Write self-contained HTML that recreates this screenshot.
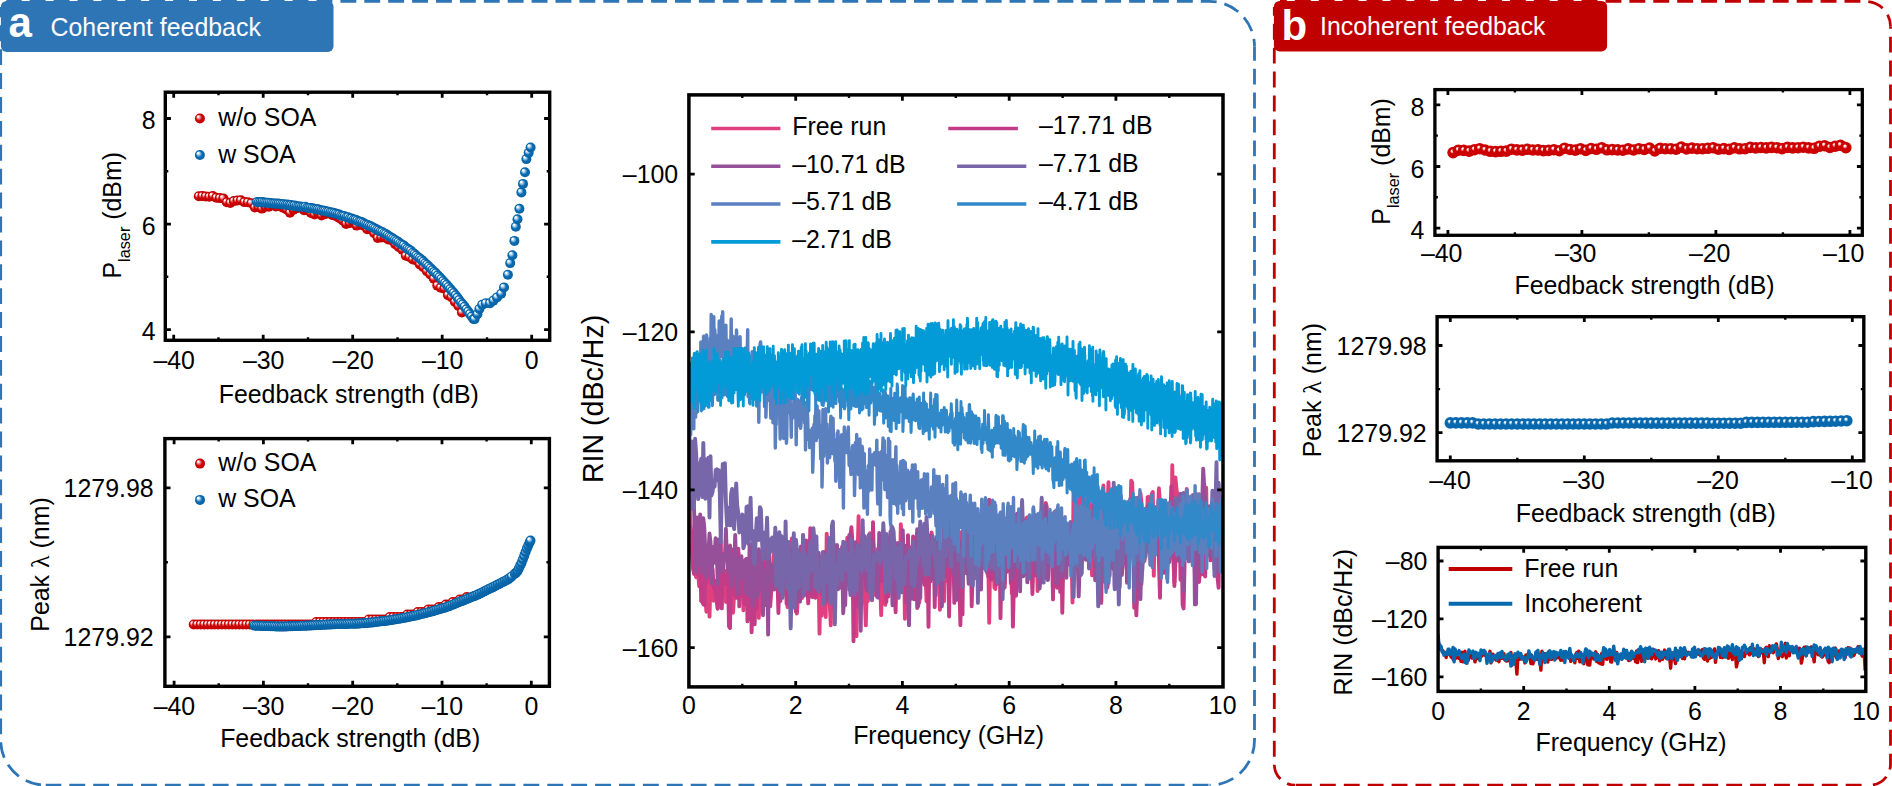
<!DOCTYPE html>
<html lang="en"><head><meta charset="utf-8"><title>Coherent and incoherent feedback</title>
<style>html,body{margin:0;padding:0;background:#fff}body{width:1892px;height:786px;overflow:hidden}svg{display:block}text{font-family:'Liberation Sans', Arial, Helvetica, sans-serif}</style></head><body>
<svg width="1892" height="786" viewBox="0 0 1892 786">
<defs>
<radialGradient id="gr" cx="0.5" cy="0.5" r="0.5" fx="0.28" fy="0.27"><stop offset="0" stop-color="#fff"/><stop offset="0.13" stop-color="#fff"/><stop offset="0.35" stop-color="#e88080"/><stop offset="0.62" stop-color="#cc0000"/><stop offset="0.85" stop-color="#cc0000"/><stop offset="1" stop-color="#b80000"/></radialGradient>
<radialGradient id="gb" cx="0.5" cy="0.5" r="0.5" fx="0.28" fy="0.27"><stop offset="0" stop-color="#fff"/><stop offset="0.13" stop-color="#fff"/><stop offset="0.35" stop-color="#8cc0e6"/><stop offset="0.62" stop-color="#0868ae"/><stop offset="0.85" stop-color="#0868ae"/><stop offset="1" stop-color="#055c9c"/></radialGradient>
<radialGradient id="gr2" cx="0.5" cy="0.5" r="0.5" fx="0.40" fy="0.33"><stop offset="0" stop-color="#fff"/><stop offset="0.08" stop-color="#fff"/><stop offset="0.23" stop-color="#f0a0a0"/><stop offset="0.40" stop-color="#cc0000"/><stop offset="1" stop-color="#cc0000"/></radialGradient>
<radialGradient id="gb2" cx="0.5" cy="0.5" r="0.5" fx="0.40" fy="0.33"><stop offset="0" stop-color="#fff"/><stop offset="0.08" stop-color="#fff"/><stop offset="0.23" stop-color="#9cc6e4"/><stop offset="0.40" stop-color="#0868ae"/><stop offset="1" stop-color="#0868ae"/></radialGradient>
<clipPath id="c3"><rect x="688.9" y="94.9" width="534.1" height="592"/></clipPath>
<clipPath id="c6"><rect x="1438.1" y="547.4" width="427.7" height="144"/></clipPath>
</defs>
<rect width="1892" height="786" fill="#fff"/>
<path d="M6.4 1.4H1209.5A45 45 0 0 1 1254.5 46.4" fill="none" stroke="#2e75b6" stroke-width="2.8" stroke-dasharray="15.9 8.0" stroke-dashoffset="0.6"/>
<path d="M1254.5 46.4V740.2A45 45 0 0 1 1209.5 785.2" fill="none" stroke="#2e75b6" stroke-width="2.8" stroke-dasharray="15.9 8.0" stroke-dashoffset="1.6"/>
<path d="M45.7 785.2H1209.5" fill="none" stroke="#2e75b6" stroke-width="2.8" stroke-dasharray="15.9 8.0" stroke-dashoffset="0.3"/>
<path d="M0.7 7.1V740.2A45 45 0 0 0 45.7 785.2" fill="none" stroke="#2e75b6" stroke-width="2.8" stroke-dasharray="15.9 8.0" stroke-dashoffset="5.7"/>
<path d="M1280 1.4H1865.5A25 25 0 0 1 1890.5 26.4" fill="none" stroke="#c00000" stroke-width="2.8" stroke-dasharray="15.9 8.0" stroke-dashoffset="9.1"/>
<path d="M1890.5 26.4V764.2A21 21 0 0 1 1869.5 785.2" fill="none" stroke="#c00000" stroke-width="2.8" stroke-dasharray="15.9 8.0" stroke-dashoffset="13.6"/>
<path d="M1295.3 785.2H1869.5" fill="none" stroke="#c00000" stroke-width="2.8" stroke-dasharray="15.9 8.0" stroke-dashoffset="23.2"/>
<path d="M1274.3 7.1V764.2A21 21 0 0 0 1295.3 785.2" fill="none" stroke="#c00000" stroke-width="2.8" stroke-dasharray="15.9 8.0" stroke-dashoffset="7.2"/>
<rect x="0.9" y="0.9" width="332.6" height="51" rx="5.7" fill="#2e75b6"/>
<rect x="1273.9" y="0.9" width="333.2" height="50.6" rx="5.7" fill="#c00000"/>
<text x="8.6" y="36.7" font-size="42" text-anchor="start" fill="#fff" font-weight="bold">a</text>
<text x="50.5" y="36.4" font-size="24.9" text-anchor="start" fill="#fff">Coherent feedback</text>
<text x="1281.6" y="40.2" font-size="42" text-anchor="start" fill="#fff" font-weight="bold">b</text>
<text x="1320" y="35" font-size="24.9" text-anchor="start" fill="#fff">Incoherent feedback</text>
<g id="plot1">
<circle cx="198.8" cy="196.3" r="5.0" fill="url(#gr)"/>
<circle cx="202.3" cy="196.1" r="5.0" fill="url(#gr)"/>
<circle cx="205.8" cy="196.4" r="5.0" fill="url(#gr)"/>
<circle cx="209.3" cy="196.7" r="5.0" fill="url(#gr)"/>
<circle cx="212.8" cy="196.1" r="5.0" fill="url(#gr)"/>
<circle cx="216.3" cy="197.7" r="5.0" fill="url(#gr)"/>
<circle cx="219.8" cy="198.1" r="5.0" fill="url(#gr)"/>
<circle cx="223.3" cy="198.4" r="5.0" fill="url(#gr)"/>
<circle cx="226.8" cy="202.2" r="5.0" fill="url(#gr)"/>
<circle cx="230.3" cy="202.9" r="5.0" fill="url(#gr)"/>
<circle cx="233.8" cy="201.1" r="5.0" fill="url(#gr)"/>
<circle cx="237.4" cy="200.5" r="5.0" fill="url(#gr)"/>
<circle cx="240.9" cy="200.3" r="5.0" fill="url(#gr)"/>
<circle cx="244.4" cy="202.1" r="5.0" fill="url(#gr)"/>
<circle cx="247.9" cy="202.3" r="5.0" fill="url(#gr)"/>
<circle cx="251.4" cy="203.2" r="5.0" fill="url(#gr)"/>
<circle cx="254.9" cy="207.5" r="5.0" fill="url(#gr)"/>
<circle cx="258.4" cy="207" r="5.0" fill="url(#gr)"/>
<circle cx="261.9" cy="208.6" r="5.0" fill="url(#gr)"/>
<circle cx="265.4" cy="206.8" r="5.0" fill="url(#gr)"/>
<circle cx="268.9" cy="206.7" r="5.0" fill="url(#gr)"/>
<circle cx="272.4" cy="204.3" r="5.0" fill="url(#gr)"/>
<circle cx="275.9" cy="206.4" r="5.0" fill="url(#gr)"/>
<circle cx="279.5" cy="205.9" r="5.0" fill="url(#gr)"/>
<circle cx="283" cy="207.8" r="5.0" fill="url(#gr)"/>
<circle cx="286.5" cy="209.4" r="5.0" fill="url(#gr)"/>
<circle cx="290" cy="212.7" r="5.0" fill="url(#gr)"/>
<circle cx="293.5" cy="209.6" r="5.0" fill="url(#gr)"/>
<circle cx="297" cy="208.1" r="5.0" fill="url(#gr)"/>
<circle cx="300.5" cy="207.5" r="5.0" fill="url(#gr)"/>
<circle cx="304" cy="210.2" r="5.0" fill="url(#gr)"/>
<circle cx="307.5" cy="210.3" r="5.0" fill="url(#gr)"/>
<circle cx="311" cy="213" r="5.0" fill="url(#gr)"/>
<circle cx="314.5" cy="214.5" r="5.0" fill="url(#gr)"/>
<circle cx="318" cy="213" r="5.0" fill="url(#gr)"/>
<circle cx="321.6" cy="215.5" r="5.0" fill="url(#gr)"/>
<circle cx="325.1" cy="214.1" r="5.0" fill="url(#gr)"/>
<circle cx="328.6" cy="212.6" r="5.0" fill="url(#gr)"/>
<circle cx="332.1" cy="215" r="5.0" fill="url(#gr)"/>
<circle cx="335.6" cy="215.9" r="5.0" fill="url(#gr)"/>
<circle cx="339.1" cy="217.9" r="5.0" fill="url(#gr)"/>
<circle cx="342.6" cy="220.4" r="5.0" fill="url(#gr)"/>
<circle cx="346.1" cy="223.9" r="5.0" fill="url(#gr)"/>
<circle cx="349.6" cy="223.1" r="5.0" fill="url(#gr)"/>
<circle cx="353.1" cy="221.7" r="5.0" fill="url(#gr)"/>
<circle cx="356.6" cy="225.6" r="5.0" fill="url(#gr)"/>
<circle cx="360.1" cy="223" r="5.0" fill="url(#gr)"/>
<circle cx="363.7" cy="225.7" r="5.0" fill="url(#gr)"/>
<circle cx="367.2" cy="229.3" r="5.0" fill="url(#gr)"/>
<circle cx="370.7" cy="228.9" r="5.0" fill="url(#gr)"/>
<circle cx="374.2" cy="233.3" r="5.0" fill="url(#gr)"/>
<circle cx="377.7" cy="237.9" r="5.0" fill="url(#gr)"/>
<circle cx="381.2" cy="237.4" r="5.0" fill="url(#gr)"/>
<circle cx="384.7" cy="237.4" r="5.0" fill="url(#gr)"/>
<circle cx="388.2" cy="239.5" r="5.0" fill="url(#gr)"/>
<circle cx="391.7" cy="240.3" r="5.0" fill="url(#gr)"/>
<circle cx="395.2" cy="244.3" r="5.0" fill="url(#gr)"/>
<circle cx="398.7" cy="247" r="5.0" fill="url(#gr)"/>
<circle cx="402.2" cy="249.8" r="5.0" fill="url(#gr)"/>
<circle cx="405.8" cy="255.8" r="5.0" fill="url(#gr)"/>
<circle cx="409.3" cy="256.9" r="5.0" fill="url(#gr)"/>
<circle cx="412.8" cy="259.5" r="5.0" fill="url(#gr)"/>
<circle cx="416.3" cy="260.4" r="5.0" fill="url(#gr)"/>
<circle cx="419.8" cy="264.5" r="5.0" fill="url(#gr)"/>
<circle cx="423.3" cy="267.2" r="5.0" fill="url(#gr)"/>
<circle cx="426.8" cy="271.1" r="5.0" fill="url(#gr)"/>
<circle cx="430.3" cy="274.5" r="5.0" fill="url(#gr)"/>
<circle cx="433.8" cy="278.7" r="5.0" fill="url(#gr)"/>
<circle cx="437.3" cy="285.6" r="5.0" fill="url(#gr)"/>
<circle cx="440.8" cy="287.8" r="5.0" fill="url(#gr)"/>
<circle cx="444.3" cy="288.6" r="5.0" fill="url(#gr)"/>
<circle cx="447.9" cy="295.1" r="5.0" fill="url(#gr)"/>
<circle cx="451.4" cy="297.2" r="5.0" fill="url(#gr)"/>
<circle cx="454.9" cy="301.9" r="5.0" fill="url(#gr)"/>
<circle cx="458.4" cy="305.9" r="5.0" fill="url(#gr)"/>
<circle cx="461.9" cy="312.5" r="5.0" fill="url(#gr)"/>
<circle cx="256.9" cy="202" r="5.0" fill="url(#gb)"/>
<circle cx="258.7" cy="202.2" r="5.0" fill="url(#gb)"/>
<circle cx="260.5" cy="202.3" r="5.0" fill="url(#gb)"/>
<circle cx="262.3" cy="202.1" r="5.0" fill="url(#gb)"/>
<circle cx="264.1" cy="202.6" r="5.0" fill="url(#gb)"/>
<circle cx="265.9" cy="202.7" r="5.0" fill="url(#gb)"/>
<circle cx="267.7" cy="202.8" r="5.0" fill="url(#gb)"/>
<circle cx="269.5" cy="203" r="5.0" fill="url(#gb)"/>
<circle cx="271.3" cy="203.2" r="5.0" fill="url(#gb)"/>
<circle cx="273" cy="203.6" r="5.0" fill="url(#gb)"/>
<circle cx="274.8" cy="203.5" r="5.0" fill="url(#gb)"/>
<circle cx="276.6" cy="203.7" r="5.0" fill="url(#gb)"/>
<circle cx="278.4" cy="203.6" r="5.0" fill="url(#gb)"/>
<circle cx="280.2" cy="203.9" r="5.0" fill="url(#gb)"/>
<circle cx="282" cy="204.2" r="5.0" fill="url(#gb)"/>
<circle cx="283.8" cy="204.2" r="5.0" fill="url(#gb)"/>
<circle cx="285.6" cy="204.7" r="5.0" fill="url(#gb)"/>
<circle cx="287.4" cy="204.6" r="5.0" fill="url(#gb)"/>
<circle cx="289.2" cy="205" r="5.0" fill="url(#gb)"/>
<circle cx="290.9" cy="205.1" r="5.0" fill="url(#gb)"/>
<circle cx="292.7" cy="205.7" r="5.0" fill="url(#gb)"/>
<circle cx="294.5" cy="205.6" r="5.0" fill="url(#gb)"/>
<circle cx="296.3" cy="206.2" r="5.0" fill="url(#gb)"/>
<circle cx="298.1" cy="206.6" r="5.0" fill="url(#gb)"/>
<circle cx="299.9" cy="206.4" r="5.0" fill="url(#gb)"/>
<circle cx="301.7" cy="206.8" r="5.0" fill="url(#gb)"/>
<circle cx="303.5" cy="206.9" r="5.0" fill="url(#gb)"/>
<circle cx="305.3" cy="206.7" r="5.0" fill="url(#gb)"/>
<circle cx="307.1" cy="207.7" r="5.0" fill="url(#gb)"/>
<circle cx="308.8" cy="207.9" r="5.0" fill="url(#gb)"/>
<circle cx="310.6" cy="208" r="5.0" fill="url(#gb)"/>
<circle cx="312.4" cy="208.3" r="5.0" fill="url(#gb)"/>
<circle cx="314.2" cy="208.8" r="5.0" fill="url(#gb)"/>
<circle cx="316" cy="209.1" r="5.0" fill="url(#gb)"/>
<circle cx="317.8" cy="209.3" r="5.0" fill="url(#gb)"/>
<circle cx="319.6" cy="209.7" r="5.0" fill="url(#gb)"/>
<circle cx="321.4" cy="210.4" r="5.0" fill="url(#gb)"/>
<circle cx="323.2" cy="210.6" r="5.0" fill="url(#gb)"/>
<circle cx="325" cy="210.9" r="5.0" fill="url(#gb)"/>
<circle cx="326.7" cy="211.6" r="5.0" fill="url(#gb)"/>
<circle cx="328.5" cy="211.7" r="5.0" fill="url(#gb)"/>
<circle cx="330.3" cy="212.4" r="5.0" fill="url(#gb)"/>
<circle cx="332.1" cy="212.5" r="5.0" fill="url(#gb)"/>
<circle cx="333.9" cy="213.1" r="5.0" fill="url(#gb)"/>
<circle cx="335.7" cy="213.6" r="5.0" fill="url(#gb)"/>
<circle cx="337.5" cy="214.2" r="5.0" fill="url(#gb)"/>
<circle cx="339.3" cy="214.6" r="5.0" fill="url(#gb)"/>
<circle cx="341.1" cy="215.6" r="5.0" fill="url(#gb)"/>
<circle cx="342.9" cy="215.9" r="5.0" fill="url(#gb)"/>
<circle cx="344.6" cy="216.2" r="5.0" fill="url(#gb)"/>
<circle cx="346.4" cy="217.3" r="5.0" fill="url(#gb)"/>
<circle cx="348.2" cy="217.2" r="5.0" fill="url(#gb)"/>
<circle cx="350" cy="218.4" r="5.0" fill="url(#gb)"/>
<circle cx="351.8" cy="218.5" r="5.0" fill="url(#gb)"/>
<circle cx="353.6" cy="219.5" r="5.0" fill="url(#gb)"/>
<circle cx="355.4" cy="219.8" r="5.0" fill="url(#gb)"/>
<circle cx="357.2" cy="220.6" r="5.0" fill="url(#gb)"/>
<circle cx="359" cy="221.6" r="5.0" fill="url(#gb)"/>
<circle cx="360.8" cy="221.8" r="5.0" fill="url(#gb)"/>
<circle cx="362.5" cy="222.5" r="5.0" fill="url(#gb)"/>
<circle cx="364.3" cy="223.5" r="5.0" fill="url(#gb)"/>
<circle cx="366.1" cy="224.4" r="5.0" fill="url(#gb)"/>
<circle cx="367.9" cy="225.1" r="5.0" fill="url(#gb)"/>
<circle cx="369.7" cy="226.1" r="5.0" fill="url(#gb)"/>
<circle cx="371.5" cy="226.5" r="5.0" fill="url(#gb)"/>
<circle cx="373.3" cy="227.7" r="5.0" fill="url(#gb)"/>
<circle cx="375.1" cy="228.5" r="5.0" fill="url(#gb)"/>
<circle cx="376.9" cy="229.6" r="5.0" fill="url(#gb)"/>
<circle cx="378.7" cy="230.4" r="5.0" fill="url(#gb)"/>
<circle cx="380.4" cy="231.5" r="5.0" fill="url(#gb)"/>
<circle cx="382.2" cy="232" r="5.0" fill="url(#gb)"/>
<circle cx="384" cy="233.2" r="5.0" fill="url(#gb)"/>
<circle cx="385.8" cy="234" r="5.0" fill="url(#gb)"/>
<circle cx="387.6" cy="235.3" r="5.0" fill="url(#gb)"/>
<circle cx="389.4" cy="236.5" r="5.0" fill="url(#gb)"/>
<circle cx="391.2" cy="237.5" r="5.0" fill="url(#gb)"/>
<circle cx="393" cy="238.6" r="5.0" fill="url(#gb)"/>
<circle cx="394.8" cy="239.7" r="5.0" fill="url(#gb)"/>
<circle cx="396.6" cy="240.9" r="5.0" fill="url(#gb)"/>
<circle cx="398.3" cy="242.1" r="5.0" fill="url(#gb)"/>
<circle cx="400.1" cy="243.5" r="5.0" fill="url(#gb)"/>
<circle cx="401.9" cy="244.6" r="5.0" fill="url(#gb)"/>
<circle cx="403.7" cy="245.4" r="5.0" fill="url(#gb)"/>
<circle cx="405.5" cy="247.2" r="5.0" fill="url(#gb)"/>
<circle cx="407.3" cy="248.6" r="5.0" fill="url(#gb)"/>
<circle cx="409.1" cy="249.6" r="5.0" fill="url(#gb)"/>
<circle cx="410.9" cy="250.8" r="5.0" fill="url(#gb)"/>
<circle cx="412.7" cy="252.8" r="5.0" fill="url(#gb)"/>
<circle cx="414.5" cy="254" r="5.0" fill="url(#gb)"/>
<circle cx="416.2" cy="255.5" r="5.0" fill="url(#gb)"/>
<circle cx="418" cy="257.2" r="5.0" fill="url(#gb)"/>
<circle cx="419.8" cy="258.2" r="5.0" fill="url(#gb)"/>
<circle cx="421.6" cy="259.9" r="5.0" fill="url(#gb)"/>
<circle cx="423.4" cy="261.5" r="5.0" fill="url(#gb)"/>
<circle cx="425.2" cy="263.3" r="5.0" fill="url(#gb)"/>
<circle cx="427" cy="264.7" r="5.0" fill="url(#gb)"/>
<circle cx="428.8" cy="266.5" r="5.0" fill="url(#gb)"/>
<circle cx="430.6" cy="268.2" r="5.0" fill="url(#gb)"/>
<circle cx="432.4" cy="270.1" r="5.0" fill="url(#gb)"/>
<circle cx="434.1" cy="271.9" r="5.0" fill="url(#gb)"/>
<circle cx="435.9" cy="273.2" r="5.0" fill="url(#gb)"/>
<circle cx="437.7" cy="275.4" r="5.0" fill="url(#gb)"/>
<circle cx="439.5" cy="277.1" r="5.0" fill="url(#gb)"/>
<circle cx="441.3" cy="279" r="5.0" fill="url(#gb)"/>
<circle cx="443.1" cy="281.1" r="5.0" fill="url(#gb)"/>
<circle cx="444.9" cy="283" r="5.0" fill="url(#gb)"/>
<circle cx="446.7" cy="284.8" r="5.0" fill="url(#gb)"/>
<circle cx="448.5" cy="287" r="5.0" fill="url(#gb)"/>
<circle cx="450.3" cy="289.1" r="5.0" fill="url(#gb)"/>
<circle cx="452" cy="291.1" r="5.0" fill="url(#gb)"/>
<circle cx="453.8" cy="293" r="5.0" fill="url(#gb)"/>
<circle cx="455.6" cy="295.3" r="5.0" fill="url(#gb)"/>
<circle cx="457.4" cy="297.6" r="5.0" fill="url(#gb)"/>
<circle cx="459.2" cy="300" r="5.0" fill="url(#gb)"/>
<circle cx="461" cy="302.5" r="5.0" fill="url(#gb)"/>
<circle cx="462.8" cy="304.3" r="5.0" fill="url(#gb)"/>
<circle cx="464.6" cy="306.7" r="5.0" fill="url(#gb)"/>
<circle cx="466.4" cy="309.3" r="5.0" fill="url(#gb)"/>
<circle cx="468.2" cy="311.6" r="5.0" fill="url(#gb)"/>
<circle cx="469.9" cy="314" r="5.0" fill="url(#gb)"/>
<circle cx="471.7" cy="316.5" r="5.0" fill="url(#gb)"/>
<circle cx="473.5" cy="319" r="5.0" fill="url(#gb)"/>
<circle cx="474.6" cy="319.1" r="5.0" fill="url(#gb)"/>
<circle cx="477.4" cy="314.3" r="5.0" fill="url(#gb)"/>
<circle cx="479.4" cy="309" r="5.0" fill="url(#gb)"/>
<circle cx="482.2" cy="304.8" r="5.0" fill="url(#gb)"/>
<circle cx="485.8" cy="303.2" r="5.0" fill="url(#gb)"/>
<circle cx="490" cy="303.2" r="5.0" fill="url(#gb)"/>
<circle cx="493.4" cy="300.6" r="5.0" fill="url(#gb)"/>
<circle cx="497" cy="297.4" r="5.0" fill="url(#gb)"/>
<circle cx="501.2" cy="293.7" r="5.0" fill="url(#gb)"/>
<circle cx="504" cy="287.4" r="5.0" fill="url(#gb)"/>
<circle cx="507.9" cy="274.7" r="5.0" fill="url(#gb)"/>
<circle cx="510.2" cy="263.1" r="5.0" fill="url(#gb)"/>
<circle cx="512.4" cy="255.2" r="5.0" fill="url(#gb)"/>
<circle cx="514.4" cy="240.9" r="5.0" fill="url(#gb)"/>
<circle cx="515.8" cy="226.7" r="5.0" fill="url(#gb)"/>
<circle cx="517.5" cy="219.3" r="5.0" fill="url(#gb)"/>
<circle cx="519.4" cy="208.8" r="5.0" fill="url(#gb)"/>
<circle cx="521.4" cy="192.4" r="5.0" fill="url(#gb)"/>
<circle cx="523" cy="183.9" r="5.0" fill="url(#gb)"/>
<circle cx="525" cy="172.3" r="5.0" fill="url(#gb)"/>
<circle cx="526.4" cy="159.1" r="5.0" fill="url(#gb)"/>
<circle cx="528.7" cy="152.8" r="5.0" fill="url(#gb)"/>
<circle cx="530.6" cy="147.5" r="5.0" fill="url(#gb)"/>
<rect x="165.3" y="92.2" width="384.4" height="248.1" fill="none" stroke="#000" stroke-width="3.4"/>
<path d="M173.7 340.3v-5.6M173.7 92.2v5.6M263.2 340.3v-5.6M263.2 92.2v5.6M352.7 340.3v-5.6M352.7 92.2v5.6M442.2 340.3v-5.6M442.2 92.2v5.6M531.7 340.3v-5.6M531.7 92.2v5.6" stroke="#000" stroke-width="2.8" fill="none"/>
<path d="M218.5 340.3v-3M218.5 92.2v3M308 340.3v-3M308 92.2v3M397.5 340.3v-3M397.5 92.2v3M487 340.3v-3M487 92.2v3" stroke="#000" stroke-width="2.4" fill="none"/>
<path d="M165.3 329.6h5.6M549.7 329.6h-5.6M165.3 224.1h5.6M549.7 224.1h-5.6M165.3 118.5h5.6M549.7 118.5h-5.6" stroke="#000" stroke-width="2.8" fill="none"/>
<path d="M165.3 276.8h3M549.7 276.8h-3M165.3 171.3h3M549.7 171.3h-3" stroke="#000" stroke-width="2.4" fill="none"/>
<text x="174.2" y="369.3" font-size="24.9" text-anchor="middle" fill="#000">–40</text>
<text x="263.7" y="369.3" font-size="24.9" text-anchor="middle" fill="#000">–30</text>
<text x="353.2" y="369.3" font-size="24.9" text-anchor="middle" fill="#000">–20</text>
<text x="442.7" y="369.3" font-size="24.9" text-anchor="middle" fill="#000">–10</text>
<text x="531.7" y="369.3" font-size="24.9" text-anchor="middle" fill="#000">0</text>
<text x="155.6" y="340.4" font-size="24.9" text-anchor="end" fill="#000">4</text>
<text x="155.6" y="234.9" font-size="24.9" text-anchor="end" fill="#000">6</text>
<text x="155.6" y="129.3" font-size="24.9" text-anchor="end" fill="#000">8</text>
<text x="348.8" y="403" font-size="24.9" text-anchor="middle" fill="#000">Feedback strength (dB)</text>
<text transform="translate(121.1 215.3) rotate(-90)" font-size="24.9" text-anchor="middle">P<tspan font-size="16.3" dy="9">laser</tspan><tspan dy="-9"> (dBm)</tspan></text>
<circle cx="199.9" cy="118.5" r="5.0" fill="url(#gr)"/>
<text x="218.2" y="126" font-size="24.9" text-anchor="start" fill="#000">w/o SOA</text>
<circle cx="199.9" cy="155" r="5.0" fill="url(#gb)"/>
<text x="218.2" y="162.7" font-size="24.9" text-anchor="start" fill="#000">w SOA</text>
</g>
<g id="plot2">
<circle cx="193.7" cy="624.5" r="5.0" fill="url(#gr)"/>
<circle cx="197.2" cy="624.5" r="5.0" fill="url(#gr)"/>
<circle cx="200.7" cy="624.5" r="5.0" fill="url(#gr)"/>
<circle cx="204.2" cy="624.5" r="5.0" fill="url(#gr)"/>
<circle cx="207.7" cy="624.5" r="5.0" fill="url(#gr)"/>
<circle cx="211.2" cy="624.5" r="5.0" fill="url(#gr)"/>
<circle cx="214.7" cy="624.5" r="5.0" fill="url(#gr)"/>
<circle cx="218.2" cy="624.5" r="5.0" fill="url(#gr)"/>
<circle cx="221.8" cy="624.5" r="5.0" fill="url(#gr)"/>
<circle cx="225.3" cy="624.5" r="5.0" fill="url(#gr)"/>
<circle cx="228.8" cy="624.5" r="5.0" fill="url(#gr)"/>
<circle cx="232.3" cy="624.5" r="5.0" fill="url(#gr)"/>
<circle cx="235.8" cy="624.5" r="5.0" fill="url(#gr)"/>
<circle cx="239.3" cy="624.5" r="5.0" fill="url(#gr)"/>
<circle cx="242.8" cy="624.5" r="5.0" fill="url(#gr)"/>
<circle cx="246.3" cy="624.5" r="5.0" fill="url(#gr)"/>
<circle cx="249.8" cy="624.5" r="5.0" fill="url(#gr)"/>
<circle cx="253.3" cy="624.5" r="5.0" fill="url(#gr)"/>
<circle cx="256.8" cy="624.5" r="5.0" fill="url(#gr)"/>
<circle cx="260.3" cy="624.5" r="5.0" fill="url(#gr)"/>
<circle cx="263.8" cy="624.5" r="5.0" fill="url(#gr)"/>
<circle cx="267.3" cy="624.5" r="5.0" fill="url(#gr)"/>
<circle cx="270.8" cy="624.5" r="5.0" fill="url(#gr)"/>
<circle cx="274.3" cy="624.5" r="5.0" fill="url(#gr)"/>
<circle cx="277.8" cy="624.5" r="5.0" fill="url(#gr)"/>
<circle cx="281.3" cy="624.5" r="5.0" fill="url(#gr)"/>
<circle cx="284.8" cy="624.5" r="5.0" fill="url(#gr)"/>
<circle cx="288.3" cy="624.5" r="5.0" fill="url(#gr)"/>
<circle cx="291.8" cy="624.5" r="5.0" fill="url(#gr)"/>
<circle cx="295.3" cy="624.5" r="5.0" fill="url(#gr)"/>
<circle cx="298.8" cy="624.5" r="5.0" fill="url(#gr)"/>
<circle cx="302.3" cy="624.5" r="5.0" fill="url(#gr)"/>
<circle cx="305.8" cy="624.5" r="5.0" fill="url(#gr)"/>
<circle cx="309.3" cy="624.5" r="5.0" fill="url(#gr)"/>
<circle cx="312.8" cy="624.5" r="5.0" fill="url(#gr)"/>
<circle cx="316.3" cy="622" r="5.0" fill="url(#gr)"/>
<circle cx="319.8" cy="622" r="5.0" fill="url(#gr)"/>
<circle cx="323.3" cy="622" r="5.0" fill="url(#gr)"/>
<circle cx="326.8" cy="622" r="5.0" fill="url(#gr)"/>
<circle cx="330.3" cy="622" r="5.0" fill="url(#gr)"/>
<circle cx="333.8" cy="622" r="5.0" fill="url(#gr)"/>
<circle cx="337.3" cy="622" r="5.0" fill="url(#gr)"/>
<circle cx="340.8" cy="622" r="5.0" fill="url(#gr)"/>
<circle cx="344.3" cy="622" r="5.0" fill="url(#gr)"/>
<circle cx="347.8" cy="622" r="5.0" fill="url(#gr)"/>
<circle cx="351.3" cy="622" r="5.0" fill="url(#gr)"/>
<circle cx="354.8" cy="622" r="5.0" fill="url(#gr)"/>
<circle cx="358.3" cy="622" r="5.0" fill="url(#gr)"/>
<circle cx="361.8" cy="622" r="5.0" fill="url(#gr)"/>
<circle cx="365.3" cy="622" r="5.0" fill="url(#gr)"/>
<circle cx="368.8" cy="619.5" r="5.0" fill="url(#gr)"/>
<circle cx="372.3" cy="619.5" r="5.0" fill="url(#gr)"/>
<circle cx="375.8" cy="619.5" r="5.0" fill="url(#gr)"/>
<circle cx="379.3" cy="619.5" r="5.0" fill="url(#gr)"/>
<circle cx="382.8" cy="619.5" r="5.0" fill="url(#gr)"/>
<circle cx="386.3" cy="619.5" r="5.0" fill="url(#gr)"/>
<circle cx="389.8" cy="617" r="5.0" fill="url(#gr)"/>
<circle cx="393.3" cy="617" r="5.0" fill="url(#gr)"/>
<circle cx="396.8" cy="617" r="5.0" fill="url(#gr)"/>
<circle cx="400.3" cy="617" r="5.0" fill="url(#gr)"/>
<circle cx="403.8" cy="617" r="5.0" fill="url(#gr)"/>
<circle cx="407.3" cy="614.5" r="5.0" fill="url(#gr)"/>
<circle cx="410.8" cy="614.5" r="5.0" fill="url(#gr)"/>
<circle cx="414.3" cy="614.5" r="5.0" fill="url(#gr)"/>
<circle cx="417.8" cy="612" r="5.0" fill="url(#gr)"/>
<circle cx="421.3" cy="612" r="5.0" fill="url(#gr)"/>
<circle cx="424.8" cy="612" r="5.0" fill="url(#gr)"/>
<circle cx="428.3" cy="609.6" r="5.0" fill="url(#gr)"/>
<circle cx="431.8" cy="609.6" r="5.0" fill="url(#gr)"/>
<circle cx="435.3" cy="609.6" r="5.0" fill="url(#gr)"/>
<circle cx="438.8" cy="607.1" r="5.0" fill="url(#gr)"/>
<circle cx="442.3" cy="607.1" r="5.0" fill="url(#gr)"/>
<circle cx="445.8" cy="604.6" r="5.0" fill="url(#gr)"/>
<circle cx="449.3" cy="604.6" r="5.0" fill="url(#gr)"/>
<circle cx="452.8" cy="602.1" r="5.0" fill="url(#gr)"/>
<circle cx="456.3" cy="602.1" r="5.0" fill="url(#gr)"/>
<circle cx="459.8" cy="599.6" r="5.0" fill="url(#gr)"/>
<circle cx="463.3" cy="599.6" r="5.0" fill="url(#gr)"/>
<circle cx="466.8" cy="597.1" r="5.0" fill="url(#gr)"/>
<circle cx="254.5" cy="625.6" r="5.0" fill="url(#gb)"/>
<circle cx="256.3" cy="625.7" r="5.0" fill="url(#gb)"/>
<circle cx="258" cy="625.7" r="5.0" fill="url(#gb)"/>
<circle cx="259.8" cy="625.8" r="5.0" fill="url(#gb)"/>
<circle cx="261.6" cy="625.9" r="5.0" fill="url(#gb)"/>
<circle cx="263.4" cy="625.9" r="5.0" fill="url(#gb)"/>
<circle cx="265.2" cy="626" r="5.0" fill="url(#gb)"/>
<circle cx="267" cy="626.1" r="5.0" fill="url(#gb)"/>
<circle cx="268.8" cy="626.1" r="5.0" fill="url(#gb)"/>
<circle cx="270.5" cy="626.2" r="5.0" fill="url(#gb)"/>
<circle cx="272.3" cy="626.3" r="5.0" fill="url(#gb)"/>
<circle cx="274.1" cy="626.3" r="5.0" fill="url(#gb)"/>
<circle cx="275.9" cy="626.4" r="5.0" fill="url(#gb)"/>
<circle cx="277.7" cy="626.5" r="5.0" fill="url(#gb)"/>
<circle cx="279.5" cy="626.5" r="5.0" fill="url(#gb)"/>
<circle cx="281.3" cy="626.6" r="5.0" fill="url(#gb)"/>
<circle cx="283" cy="626.5" r="5.0" fill="url(#gb)"/>
<circle cx="284.8" cy="626.5" r="5.0" fill="url(#gb)"/>
<circle cx="286.6" cy="626.4" r="5.0" fill="url(#gb)"/>
<circle cx="288.4" cy="626.3" r="5.0" fill="url(#gb)"/>
<circle cx="290.2" cy="626.3" r="5.0" fill="url(#gb)"/>
<circle cx="292" cy="626.2" r="5.0" fill="url(#gb)"/>
<circle cx="293.8" cy="626.1" r="5.0" fill="url(#gb)"/>
<circle cx="295.5" cy="626.1" r="5.0" fill="url(#gb)"/>
<circle cx="297.3" cy="626" r="5.0" fill="url(#gb)"/>
<circle cx="299.1" cy="625.9" r="5.0" fill="url(#gb)"/>
<circle cx="300.9" cy="625.9" r="5.0" fill="url(#gb)"/>
<circle cx="302.7" cy="625.8" r="5.0" fill="url(#gb)"/>
<circle cx="304.5" cy="625.7" r="5.0" fill="url(#gb)"/>
<circle cx="306.3" cy="625.7" r="5.0" fill="url(#gb)"/>
<circle cx="308" cy="625.6" r="5.0" fill="url(#gb)"/>
<circle cx="309.8" cy="625.5" r="5.0" fill="url(#gb)"/>
<circle cx="311.6" cy="625.4" r="5.0" fill="url(#gb)"/>
<circle cx="313.4" cy="625.3" r="5.0" fill="url(#gb)"/>
<circle cx="315.2" cy="625.2" r="5.0" fill="url(#gb)"/>
<circle cx="317" cy="625.1" r="5.0" fill="url(#gb)"/>
<circle cx="318.8" cy="625" r="5.0" fill="url(#gb)"/>
<circle cx="320.6" cy="624.9" r="5.0" fill="url(#gb)"/>
<circle cx="322.3" cy="624.8" r="5.0" fill="url(#gb)"/>
<circle cx="324.1" cy="624.8" r="5.0" fill="url(#gb)"/>
<circle cx="325.9" cy="624.7" r="5.0" fill="url(#gb)"/>
<circle cx="327.7" cy="624.6" r="5.0" fill="url(#gb)"/>
<circle cx="329.5" cy="624.5" r="5.0" fill="url(#gb)"/>
<circle cx="331.3" cy="624.4" r="5.0" fill="url(#gb)"/>
<circle cx="333.1" cy="624.3" r="5.0" fill="url(#gb)"/>
<circle cx="334.8" cy="624.2" r="5.0" fill="url(#gb)"/>
<circle cx="336.6" cy="624.1" r="5.0" fill="url(#gb)"/>
<circle cx="338.4" cy="624" r="5.0" fill="url(#gb)"/>
<circle cx="340.2" cy="623.9" r="5.0" fill="url(#gb)"/>
<circle cx="342" cy="623.9" r="5.0" fill="url(#gb)"/>
<circle cx="343.8" cy="623.9" r="5.0" fill="url(#gb)"/>
<circle cx="345.6" cy="623.9" r="5.0" fill="url(#gb)"/>
<circle cx="347.3" cy="623.9" r="5.0" fill="url(#gb)"/>
<circle cx="349.1" cy="623.8" r="5.0" fill="url(#gb)"/>
<circle cx="350.9" cy="623.8" r="5.0" fill="url(#gb)"/>
<circle cx="352.7" cy="623.8" r="5.0" fill="url(#gb)"/>
<circle cx="354.5" cy="623.8" r="5.0" fill="url(#gb)"/>
<circle cx="356.3" cy="623.7" r="5.0" fill="url(#gb)"/>
<circle cx="358.1" cy="623.6" r="5.0" fill="url(#gb)"/>
<circle cx="359.8" cy="623.4" r="5.0" fill="url(#gb)"/>
<circle cx="361.6" cy="623.3" r="5.0" fill="url(#gb)"/>
<circle cx="363.4" cy="623.2" r="5.0" fill="url(#gb)"/>
<circle cx="365.2" cy="623" r="5.0" fill="url(#gb)"/>
<circle cx="367" cy="622.9" r="5.0" fill="url(#gb)"/>
<circle cx="368.8" cy="622.7" r="5.0" fill="url(#gb)"/>
<circle cx="370.6" cy="622.6" r="5.0" fill="url(#gb)"/>
<circle cx="372.3" cy="622.4" r="5.0" fill="url(#gb)"/>
<circle cx="374.1" cy="622.2" r="5.0" fill="url(#gb)"/>
<circle cx="375.9" cy="622" r="5.0" fill="url(#gb)"/>
<circle cx="377.7" cy="621.8" r="5.0" fill="url(#gb)"/>
<circle cx="379.5" cy="621.5" r="5.0" fill="url(#gb)"/>
<circle cx="381.3" cy="621.3" r="5.0" fill="url(#gb)"/>
<circle cx="383.1" cy="621.1" r="5.0" fill="url(#gb)"/>
<circle cx="384.8" cy="620.9" r="5.0" fill="url(#gb)"/>
<circle cx="386.6" cy="620.7" r="5.0" fill="url(#gb)"/>
<circle cx="388.4" cy="620.4" r="5.0" fill="url(#gb)"/>
<circle cx="390.2" cy="620.1" r="5.0" fill="url(#gb)"/>
<circle cx="392" cy="619.9" r="5.0" fill="url(#gb)"/>
<circle cx="393.8" cy="619.6" r="5.0" fill="url(#gb)"/>
<circle cx="395.6" cy="619.3" r="5.0" fill="url(#gb)"/>
<circle cx="397.3" cy="619" r="5.0" fill="url(#gb)"/>
<circle cx="399.1" cy="618.8" r="5.0" fill="url(#gb)"/>
<circle cx="400.9" cy="618.5" r="5.0" fill="url(#gb)"/>
<circle cx="402.7" cy="618.1" r="5.0" fill="url(#gb)"/>
<circle cx="404.5" cy="617.8" r="5.0" fill="url(#gb)"/>
<circle cx="406.3" cy="617.4" r="5.0" fill="url(#gb)"/>
<circle cx="408.1" cy="617" r="5.0" fill="url(#gb)"/>
<circle cx="409.9" cy="616.7" r="5.0" fill="url(#gb)"/>
<circle cx="411.6" cy="616.3" r="5.0" fill="url(#gb)"/>
<circle cx="413.4" cy="615.9" r="5.0" fill="url(#gb)"/>
<circle cx="415.2" cy="615.6" r="5.0" fill="url(#gb)"/>
<circle cx="417" cy="615.2" r="5.0" fill="url(#gb)"/>
<circle cx="418.8" cy="614.7" r="5.0" fill="url(#gb)"/>
<circle cx="420.6" cy="614.3" r="5.0" fill="url(#gb)"/>
<circle cx="422.4" cy="613.8" r="5.0" fill="url(#gb)"/>
<circle cx="424.1" cy="613.4" r="5.0" fill="url(#gb)"/>
<circle cx="425.9" cy="612.9" r="5.0" fill="url(#gb)"/>
<circle cx="427.7" cy="612.5" r="5.0" fill="url(#gb)"/>
<circle cx="429.5" cy="612" r="5.0" fill="url(#gb)"/>
<circle cx="431.3" cy="611.6" r="5.0" fill="url(#gb)"/>
<circle cx="433.1" cy="611.1" r="5.0" fill="url(#gb)"/>
<circle cx="434.9" cy="610.5" r="5.0" fill="url(#gb)"/>
<circle cx="436.6" cy="610" r="5.0" fill="url(#gb)"/>
<circle cx="438.4" cy="609.5" r="5.0" fill="url(#gb)"/>
<circle cx="440.2" cy="609" r="5.0" fill="url(#gb)"/>
<circle cx="442" cy="608.4" r="5.0" fill="url(#gb)"/>
<circle cx="443.8" cy="607.9" r="5.0" fill="url(#gb)"/>
<circle cx="445.6" cy="607.4" r="5.0" fill="url(#gb)"/>
<circle cx="447.4" cy="606.8" r="5.0" fill="url(#gb)"/>
<circle cx="449.1" cy="606.1" r="5.0" fill="url(#gb)"/>
<circle cx="450.9" cy="605.4" r="5.0" fill="url(#gb)"/>
<circle cx="452.7" cy="604.7" r="5.0" fill="url(#gb)"/>
<circle cx="454.5" cy="604" r="5.0" fill="url(#gb)"/>
<circle cx="456.3" cy="603.2" r="5.0" fill="url(#gb)"/>
<circle cx="458.1" cy="602.5" r="5.0" fill="url(#gb)"/>
<circle cx="459.9" cy="601.8" r="5.0" fill="url(#gb)"/>
<circle cx="461.6" cy="601.1" r="5.0" fill="url(#gb)"/>
<circle cx="463.4" cy="600.4" r="5.0" fill="url(#gb)"/>
<circle cx="465.2" cy="599.7" r="5.0" fill="url(#gb)"/>
<circle cx="467" cy="598.9" r="5.0" fill="url(#gb)"/>
<circle cx="468.8" cy="598.2" r="5.0" fill="url(#gb)"/>
<circle cx="470.6" cy="597.5" r="5.0" fill="url(#gb)"/>
<circle cx="472.4" cy="596.8" r="5.0" fill="url(#gb)"/>
<circle cx="474.1" cy="596.1" r="5.0" fill="url(#gb)"/>
<circle cx="475.9" cy="595.4" r="5.0" fill="url(#gb)"/>
<circle cx="477.7" cy="594.6" r="5.0" fill="url(#gb)"/>
<circle cx="479.5" cy="593.7" r="5.0" fill="url(#gb)"/>
<circle cx="481.3" cy="592.9" r="5.0" fill="url(#gb)"/>
<circle cx="483.1" cy="592" r="5.0" fill="url(#gb)"/>
<circle cx="484.9" cy="591.1" r="5.0" fill="url(#gb)"/>
<circle cx="486.6" cy="590.2" r="5.0" fill="url(#gb)"/>
<circle cx="488.4" cy="589.3" r="5.0" fill="url(#gb)"/>
<circle cx="490.2" cy="588.4" r="5.0" fill="url(#gb)"/>
<circle cx="492" cy="587.6" r="5.0" fill="url(#gb)"/>
<circle cx="493.8" cy="586.7" r="5.0" fill="url(#gb)"/>
<circle cx="495.6" cy="585.8" r="5.0" fill="url(#gb)"/>
<circle cx="497.4" cy="584.8" r="5.0" fill="url(#gb)"/>
<circle cx="499.2" cy="583.9" r="5.0" fill="url(#gb)"/>
<circle cx="500.9" cy="583" r="5.0" fill="url(#gb)"/>
<circle cx="502.7" cy="582.1" r="5.0" fill="url(#gb)"/>
<circle cx="504.5" cy="581.2" r="5.0" fill="url(#gb)"/>
<circle cx="506.3" cy="580.3" r="5.0" fill="url(#gb)"/>
<circle cx="508.1" cy="579.4" r="5.0" fill="url(#gb)"/>
<circle cx="509.9" cy="577.9" r="5.0" fill="url(#gb)"/>
<circle cx="511.7" cy="576.4" r="5.0" fill="url(#gb)"/>
<circle cx="514.8" cy="573.8" r="5.0" fill="url(#gb)"/>
<circle cx="516.1" cy="572.7" r="5.0" fill="url(#gb)"/>
<circle cx="517.5" cy="571.2" r="5.0" fill="url(#gb)"/>
<circle cx="518.8" cy="568.5" r="5.0" fill="url(#gb)"/>
<circle cx="520.1" cy="565.8" r="5.0" fill="url(#gb)"/>
<circle cx="521.5" cy="563.1" r="5.0" fill="url(#gb)"/>
<circle cx="522.8" cy="559.5" r="5.0" fill="url(#gb)"/>
<circle cx="524.2" cy="555.9" r="5.0" fill="url(#gb)"/>
<circle cx="525.5" cy="552.3" r="5.0" fill="url(#gb)"/>
<circle cx="526.8" cy="548.7" r="5.0" fill="url(#gb)"/>
<circle cx="528.2" cy="545.7" r="5.0" fill="url(#gb)"/>
<circle cx="529.5" cy="542.7" r="5.0" fill="url(#gb)"/>
<circle cx="530.5" cy="540.6" r="5.0" fill="url(#gb)"/>
<rect x="164.9" y="438.6" width="384.5" height="247.7" fill="none" stroke="#000" stroke-width="3.4"/>
<path d="M174.1 686.3v-5.6M174.1 438.6v5.6M263.4 686.3v-5.6M263.4 438.6v5.6M352.7 686.3v-5.6M352.7 438.6v5.6M442 686.3v-5.6M442 438.6v5.6M531.3 686.3v-5.6M531.3 438.6v5.6" stroke="#000" stroke-width="2.8" fill="none"/>
<path d="M218.7 686.3v-3M218.7 438.6v3M308 686.3v-3M308 438.6v3M397.3 686.3v-3M397.3 438.6v3M486.6 686.3v-3M486.6 438.6v3" stroke="#000" stroke-width="2.4" fill="none"/>
<path d="M164.9 487.8h5.6M549.4 487.8h-5.6M164.9 636.9h5.6M549.4 636.9h-5.6" stroke="#000" stroke-width="2.8" fill="none"/>
<path d="M164.9 562.3h3M549.4 562.3h-3" stroke="#000" stroke-width="2.4" fill="none"/>
<text x="174.4" y="714.8" font-size="24.9" text-anchor="middle" fill="#000">–40</text>
<text x="263.7" y="714.8" font-size="24.9" text-anchor="middle" fill="#000">–30</text>
<text x="353" y="714.8" font-size="24.9" text-anchor="middle" fill="#000">–20</text>
<text x="442.3" y="714.8" font-size="24.9" text-anchor="middle" fill="#000">–10</text>
<text x="531.3" y="714.8" font-size="24.9" text-anchor="middle" fill="#000">0</text>
<text x="153.6" y="497" font-size="24.9" text-anchor="end" fill="#000">1279.98</text>
<text x="153.6" y="646.1" font-size="24.9" text-anchor="end" fill="#000">1279.92</text>
<text x="350.2" y="747" font-size="24.9" text-anchor="middle" fill="#000">Feedback strength (dB)</text>
<text transform="translate(49.1 564.5) rotate(-90)" font-size="24.9" text-anchor="middle">Peak <tspan font-family="'Liberation Serif', 'DejaVu Serif', serif" font-size="26">λ</tspan> (nm)</text>
<circle cx="200" cy="463.6" r="5.0" fill="url(#gr)"/>
<text x="218.2" y="470.6" font-size="24.9" text-anchor="start" fill="#000">w/o SOA</text>
<circle cx="200" cy="499.9" r="5.0" fill="url(#gb)"/>
<text x="218.2" y="506.8" font-size="24.9" text-anchor="start" fill="#000">w SOA</text>
</g>
<g id="plot3">
<polyline points="688.9,497.9 689.9,512.2 691,530.5 692,544 693,531.5 694,571.2 695.1,571.2 696.1,577.3 697.1,558.8 698.2,573.9 699.2,586.4 700.2,567.1 701.2,560.5 702.3,592 703.3,566.3 704.3,551.3 705.4,599.5 706.4,611.7 707.4,594.3 708.4,557.3 709.5,616.6 710.5,579.6 711.5,570.7 712.6,599 713.6,600.8 714.6,585.6 715.6,587.6 716.7,591.6 717.7,608.2 718.7,587.1 719.8,580.4 720.8,581.9 721.8,570.7 722.8,587.5 723.9,596 724.9,570.9 725.9,602 727,573.2 728,578.4 729,565.8 730,545.4 731.1,572.5 732.1,566.4 733.1,612.7 734.2,592.1 735.2,554 736.2,586.9 737.2,592.3 738.3,551.9 739.3,574.4 740.3,588.2 741.4,581.4 742.4,561.1 743.4,610.3 744.4,580.9 745.5,559.6 746.5,558.7 747.5,587.6 748.6,583.2 749.6,572.4 750.6,580.8 751.6,576.5 752.7,600.8 753.7,545.4 754.7,556.9 755.8,566.2 756.8,554.4 757.8,563.2 758.8,617.9 759.9,590.9 760.9,594.1 761.9,572.1 763,575.3 764,589.4 765,604.8 766,541.4 767.1,578.6 768.1,557.6 769.1,573.8 770.2,598.3 771.2,570.2 772.2,565 773.2,568.3 774.3,550.2 775.3,576.1 776.3,559.1 777.4,564 778.4,558.6 779.4,579.9 780.4,563 781.5,557.5 782.5,554.1 783.5,583.9 784.6,559 785.6,594.5 786.6,584.9 787.6,607.1 788.7,576.3 789.7,565 790.7,570.6 791.8,538.4 792.8,595.4 793.8,594 794.8,561.1 795.9,555.6 796.9,613.6 797.9,598.2 799,585.3 800,586.4 801,572 802,598 803.1,534.9 804.1,577.4 805.1,580.1 806.2,562.7 807.2,547.5 808.2,585.6 809.2,559.5 810.3,539.3 811.3,575.2 812.3,581.8 813.4,547.9 814.4,570.7 815.4,572.1 816.4,574.1 817.5,587.8 818.5,567.1 819.5,633.6 820.6,570.5 821.6,615.8 822.6,562 823.6,552.2 824.7,590.6 825.7,617 826.7,533.7 827.7,563.2 828.8,562.6 829.8,604.4 830.8,625.3 831.9,573.1 832.9,575.1 833.9,564.9 834.9,559 836,547.4 837,573.1 838,580.1 839.1,568 840.1,578.6 841.1,587.5 842.1,582.3 843.2,559.8 844.2,556.8 845.2,556.8 846.3,554.8 847.3,537.8 848.3,548 849.3,554.9 850.4,541.5 851.4,594.9 852.4,562.8 853.5,596 854.5,572 855.5,585.8 856.5,636.1 857.6,553.7 858.6,516.3 859.6,564.6 860.7,557.3 861.7,583.1 862.7,559.6 863.7,585.7 864.8,597.4 865.8,625.4 866.8,589.8 867.9,601.1 868.9,585.3 869.9,533.3 870.9,593.1 872,567.5 873,564.9 874,562 875.1,594.9 876.1,582.9 877.1,590.3 878.1,552.1 879.2,551.2 880.2,585.2 881.2,615.1 882.3,565.9 883.3,595.5 884.3,543.4 885.3,604.8 886.4,579.7 887.4,564.5 888.4,550.5 889.5,552.9 890.5,579.8 891.5,566 892.5,549.8 893.6,575.5 894.6,560.4 895.6,574.1 896.7,551.1 897.7,566.7 898.7,572.6 899.7,590.7 900.8,524.2 901.8,543.2 902.8,548 903.9,553.1 904.9,618.7 905.9,564.9 906.9,602.2 908,566 909,553.7 910,562.9 911.1,564.8 912.1,552.1 913.1,553.5 914.1,559.3 915.2,589.8 916.2,573.7 917.2,557.2 918.3,587.3 919.3,602.2 920.3,544.9 921.3,553.9 922.4,581.9 923.4,534.4 924.4,542 925.5,573.7 926.5,601.1 927.5,554.8 928.5,554.6 929.6,546.6 930.6,581.4 931.6,532.4 932.7,541.6 933.7,563.2 934.7,548.3 935.7,548.4 936.8,547.1 937.8,579.1 938.8,560.3 939.9,609.7 940.9,579.9 941.9,576.6 942.9,569.1 944,601.3 945,567 946,581.2 947.1,568.1 948.1,528.9 949.1,598.6 950.1,573 951.2,547.3 952.2,527.6 953.2,525.7 954.3,548.7 955.3,544 956.3,594.5 957.3,552 958.4,536.6 959.4,592.6 960.4,585.7 961.5,532.2 962.5,533.4 963.5,573.5 964.5,570.2 965.6,543 966.6,573.1 967.6,553.8 968.7,536 969.7,579.1 970.7,557.6 971.7,572 972.8,558 973.8,542.5 974.8,556.9 975.9,578.2 976.9,532.2 977.9,574.3 978.9,559.8 980,522.2 981,528.8 982,545.2 983.1,561.4 984.1,539.6 985.1,567.1 986.1,540.2 987.2,573.2 988.2,552.2 989.2,622.8 990.3,550.9 991.3,539.6 992.3,552.7 993.3,554.7 994.4,587.6 995.4,588.9 996.4,540.4 997.5,532.5 998.5,537.3 999.5,572.6 1000.5,564.5 1001.6,540.8 1002.6,569.4 1003.6,530.3 1004.7,583.7 1005.7,538.9 1006.7,544.6 1007.7,545.4 1008.8,556.2 1009.8,568.9 1010.8,553.8 1011.9,593.4 1012.9,566 1013.9,542.4 1014.9,589.8 1016,554 1017,534.6 1018,562.5 1019.1,533.7 1020.1,514.7 1021.1,514.9 1022.1,547.1 1023.2,543.8 1024.2,552.1 1025.2,537.8 1026.3,518.1 1027.3,517.3 1028.3,575 1029.3,569 1030.4,570.3 1031.4,527.5 1032.4,550.2 1033.5,531.3 1034.5,546.5 1035.5,537.5 1036.5,542.1 1037.6,591 1038.6,554 1039.6,562.6 1040.7,567.3 1041.7,575.1 1042.7,534.7 1043.7,527.9 1044.8,518.6 1045.8,502.9 1046.8,507.2 1047.9,576.2 1048.9,535.4 1049.9,543.3 1050.9,542.8 1052,538.2 1053,525.4 1054,564.5 1055.1,551.3 1056.1,515.5 1057.1,547.1 1058.1,535.8 1059.2,522.2 1060.2,542.1 1061.2,541.5 1062.3,543.4 1063.3,547.8 1064.3,525.7 1065.3,529 1066.4,525.3 1067.4,535.4 1068.4,526.8 1069.5,532.3 1070.5,528.8 1071.5,551.9 1072.5,602.5 1073.6,479.4 1074.6,530.6 1075.6,492.8 1076.7,562.4 1077.7,531.3 1078.7,521 1079.7,498.9 1080.8,470 1081.8,504.7 1082.8,533.3 1083.9,494.5 1084.9,538.1 1085.9,546 1086.9,521.4 1088,521.2 1089,528.2 1090,503.6 1091,541.1 1092.1,575.4 1093.1,538 1094.1,498 1095.2,515.1 1096.2,502.4 1097.2,538.8 1098.2,530.4 1099.3,507.6 1100.3,519.4 1101.3,505.3 1102.4,533.4 1103.4,485.5 1104.4,538.1 1105.4,523 1106.5,515.3 1107.5,508.5 1108.5,482.1 1109.6,526.9 1110.6,537.4 1111.6,532.4 1112.6,508.3 1113.7,508 1114.7,496.5 1115.7,540.2 1116.8,511 1117.8,517.2 1118.8,565.6 1119.8,587.2 1120.9,525.1 1121.9,516.5 1122.9,516.9 1124,525.3 1125,532.3 1126,507.5 1127,522.7 1128.1,512.1 1129.1,505.2 1130.1,530.1 1131.2,480.7 1132.2,482.5 1133.2,516.7 1134.2,503.3 1135.3,517.1 1136.3,514.4 1137.3,497.7 1138.4,539.6 1139.4,504.4 1140.4,493 1141.4,501.9 1142.5,536.4 1143.5,562 1144.5,560.9 1145.6,551.7 1146.6,551.2 1147.6,497.1 1148.6,497 1149.7,514.6 1150.7,513.8 1151.7,494.2 1152.8,492 1153.8,575.8 1154.8,514.9 1155.8,550.8 1156.9,520 1157.9,523.3 1158.9,488.3 1160,503.3 1161,525.9 1162,555.8 1163,517.8 1164.1,510.9 1165.1,531.6 1166.1,521.7 1167.2,503.4 1168.2,537.8 1169.2,537 1170.2,518.4 1171.3,553.9 1172.3,465.2 1173.3,558.9 1174.4,582 1175.4,477.4 1176.4,488.6 1177.4,495.6 1178.5,524.6 1179.5,555.6 1180.5,547.1 1181.6,521.6 1182.6,541.7 1183.6,525 1184.6,530.9 1185.7,507.8 1186.7,489 1187.7,512.5 1188.8,546.1 1189.8,508.1 1190.8,546.7 1191.8,560.3 1192.9,508.2 1193.9,511.3 1194.9,531.9 1196,493.8 1197,543.9 1198,509.1 1199,494.1 1200.1,524.4 1201.1,526.2 1202.1,556.4 1203.2,543.5 1204.2,484.3 1205.2,540.9 1206.2,487.7 1207.3,555.9 1208.3,510.6 1209.3,510.3 1210.4,520.1 1211.4,515.4 1212.4,512.4 1213.4,497.3 1214.5,559.1 1215.5,541.8 1216.5,572.6 1217.6,520.8 1218.6,505 1219.6,544.3 1220.6,535.5 1221.7,570.5 1222.7,501.7" fill="none" stroke="#e0407f" stroke-width="3.9" stroke-linejoin="round" stroke-linecap="round" clip-path="url(#c3)"/>
<polyline points="688.9,537.2 689.9,525.4 691,532.5 692,554.6 693,568.7 694,573.8 695.1,545.5 696.1,548.1 697.1,549.9 698.2,575.1 699.2,563.8 700.2,554.4 701.2,601.1 702.3,602 703.3,604.3 704.3,605 705.4,563.5 706.4,582.1 707.4,570.1 708.4,569 709.5,556.7 710.5,570 711.5,577.6 712.6,569 713.6,587.7 714.6,580.7 715.6,592.5 716.7,600.5 717.7,608.8 718.7,575.9 719.8,599.8 720.8,540.6 721.8,608.4 722.8,561.4 723.9,579.7 724.9,583.7 725.9,581.1 727,577.4 728,573.7 729,626.4 730,628 731.1,569 732.1,549.4 733.1,593.7 734.2,563.7 735.2,577.2 736.2,597.8 737.2,592.4 738.3,548.6 739.3,606.4 740.3,587.9 741.4,568.3 742.4,595.1 743.4,564.6 744.4,603.9 745.5,574.6 746.5,575.6 747.5,621.4 748.6,584.6 749.6,571.1 750.6,544.8 751.6,632.2 752.7,593.7 753.7,536.6 754.7,624.2 755.8,577.1 756.8,608.4 757.8,574.1 758.8,549.3 759.9,573.2 760.9,589.1 761.9,567.8 763,556.8 764,551.2 765,605.1 766,571.9 767.1,562.7 768.1,578.1 769.1,583.9 770.2,606.3 771.2,591.4 772.2,582.3 773.2,586.4 774.3,565.6 775.3,566.3 776.3,585.5 777.4,576.9 778.4,613 779.4,576.3 780.4,601 781.5,560.8 782.5,563.3 783.5,561.4 784.6,557.2 785.6,565.7 786.6,603.7 787.6,592.7 788.7,590.1 789.7,548 790.7,560.5 791.8,560.5 792.8,549.3 793.8,593.7 794.8,569.9 795.9,611.6 796.9,573.8 797.9,587.4 799,594.2 800,600.5 801,546.4 802,561.8 803.1,555.6 804.1,545.7 805.1,570.8 806.2,540.5 807.2,576.6 808.2,603.4 809.2,575.5 810.3,528.2 811.3,558 812.3,597.1 813.4,565.5 814.4,574.5 815.4,597.7 816.4,591.5 817.5,569.9 818.5,579.4 819.5,577.4 820.6,589.8 821.6,593.4 822.6,569.9 823.6,552.2 824.7,552.6 825.7,568.9 826.7,593 827.7,550.1 828.8,581.2 829.8,596.1 830.8,577.7 831.9,568.3 832.9,603.6 833.9,544.7 834.9,588.8 836,563.1 837,573.5 838,576.7 839.1,587.6 840.1,557.9 841.1,568.2 842.1,546.7 843.2,552.9 844.2,578.4 845.2,544.6 846.3,579.3 847.3,549.5 848.3,571.7 849.3,589.6 850.4,536.4 851.4,527.1 852.4,542.2 853.5,641.2 854.5,562.9 855.5,552.6 856.5,606.5 857.6,576.3 858.6,556.4 859.6,577.9 860.7,565.3 861.7,544.5 862.7,534.1 863.7,576.1 864.8,555.7 865.8,586.2 866.8,588.4 867.9,565 868.9,576.8 869.9,539 870.9,538.2 872,600.2 873,522.3 874,563.9 875.1,573.7 876.1,566.7 877.1,580.7 878.1,548.4 879.2,549.3 880.2,547.7 881.2,581.3 882.3,551.3 883.3,546.6 884.3,584 885.3,574.8 886.4,601.8 887.4,545 888.4,596.5 889.5,571.7 890.5,574.6 891.5,544.4 892.5,559.8 893.6,561.6 894.6,585.7 895.6,612.2 896.7,570.5 897.7,567.7 898.7,546.9 899.7,579 900.8,586.4 901.8,576.8 902.8,569.6 903.9,564.9 904.9,557 905.9,602.6 906.9,602.1 908,535.1 909,569.6 910,569.5 911.1,555.7 912.1,572.4 913.1,536.4 914.1,599.2 915.2,548.4 916.2,540.5 917.2,608 918.3,597 919.3,585.9 920.3,550.5 921.3,578.4 922.4,577.3 923.4,569 924.4,584.9 925.5,574.1 926.5,583.9 927.5,552.8 928.5,626.8 929.6,538.8 930.6,535.4 931.6,559.6 932.7,557.4 933.7,539.7 934.7,607.1 935.7,558.2 936.8,569.9 937.8,562.1 938.8,517.8 939.9,557.9 940.9,576.8 941.9,577.3 942.9,567.5 944,573.7 945,576.5 946,527.3 947.1,550.7 948.1,556.9 949.1,616.5 950.1,546.9 951.2,528.7 952.2,568.7 953.2,537.2 954.3,602.9 955.3,547.6 956.3,592.5 957.3,575.2 958.4,545.5 959.4,584.4 960.4,625.1 961.5,575.3 962.5,614.4 963.5,529.1 964.5,537 965.6,570.4 966.6,572.9 967.6,563.2 968.7,565.6 969.7,573.9 970.7,542.6 971.7,606.2 972.8,566.4 973.8,561.9 974.8,527.1 975.9,555.3 976.9,567.4 977.9,575 978.9,536.5 980,534.3 981,584.4 982,536.6 983.1,536.7 984.1,551.3 985.1,540.9 986.1,566.6 987.2,560.8 988.2,576.6 989.2,499.8 990.3,553.9 991.3,579.6 992.3,574.3 993.3,576.7 994.4,561.8 995.4,559 996.4,584.3 997.5,533.6 998.5,561.7 999.5,541.5 1000.5,618.1 1001.6,557.6 1002.6,565.8 1003.6,588.4 1004.7,587.2 1005.7,538 1006.7,571.9 1007.7,544.3 1008.8,534.4 1009.8,546 1010.8,583.1 1011.9,549.3 1012.9,626.6 1013.9,583.5 1014.9,568 1016,595.8 1017,536.3 1018,535.2 1019.1,543.3 1020.1,553.7 1021.1,562.1 1022.1,549.4 1023.2,535.3 1024.2,520.1 1025.2,526.8 1026.3,545 1027.3,534.8 1028.3,560.9 1029.3,527.8 1030.4,572.5 1031.4,558.9 1032.4,594 1033.5,559.4 1034.5,542.2 1035.5,560.2 1036.5,575.6 1037.6,574.4 1038.6,553.1 1039.6,530.5 1040.7,559.8 1041.7,545.9 1042.7,528.2 1043.7,557.6 1044.8,544.2 1045.8,577.6 1046.8,530.7 1047.9,560.8 1048.9,551.5 1049.9,557.2 1050.9,550.4 1052,550.3 1053,599.4 1054,533.3 1055.1,511.5 1056.1,543.3 1057.1,587.8 1058.1,560.8 1059.2,543.8 1060.2,592 1061.2,532.6 1062.3,612.7 1063.3,561.2 1064.3,572.5 1065.3,540.2 1066.4,529.7 1067.4,526.9 1068.4,527.2 1069.5,542.3 1070.5,537.9 1071.5,565.4 1072.5,570.8 1073.6,575.4 1074.6,543.7 1075.6,533.7 1076.7,563.4 1077.7,532.3 1078.7,557 1079.7,543.4 1080.8,525.9 1081.8,526.7 1082.8,550.2 1083.9,548.7 1084.9,551.3 1085.9,558 1086.9,530.2 1088,546.7 1089,542.6 1090,551.3 1091,519.6 1092.1,514.2 1093.1,526.7 1094.1,551.5 1095.2,514.7 1096.2,523.6 1097.2,540.7 1098.2,525.2 1099.3,572.9 1100.3,553.3 1101.3,602.9 1102.4,526.6 1103.4,555.1 1104.4,545.5 1105.4,568.9 1106.5,588.7 1107.5,586.6 1108.5,534.4 1109.6,575.9 1110.6,545.9 1111.6,531.9 1112.6,529.1 1113.7,569.1 1114.7,564.5 1115.7,506.9 1116.8,511.5 1117.8,496.2 1118.8,549.6 1119.8,531.4 1120.9,517.4 1121.9,571.9 1122.9,564.7 1124,560 1125,532.7 1126,535.4 1127,567 1128.1,539.9 1129.1,565.9 1130.1,524.5 1131.2,510.9 1132.2,550.9 1133.2,544.2 1134.2,607.8 1135.3,551.3 1136.3,615.3 1137.3,590.9 1138.4,595.5 1139.4,565.8 1140.4,529 1141.4,584.2 1142.5,539.3 1143.5,559.6 1144.5,546.7 1145.6,518.8 1146.6,525.5 1147.6,505.9 1148.6,535.7 1149.7,543.4 1150.7,564.8 1151.7,534.8 1152.8,549.5 1153.8,536.1 1154.8,506.9 1155.8,531.5 1156.9,543.5 1157.9,516.5 1158.9,561 1160,597.8 1161,538.2 1162,559.6 1163,525.6 1164.1,572.7 1165.1,545.1 1166.1,535.3 1167.2,514.1 1168.2,527 1169.2,542.3 1170.2,526.8 1171.3,486.4 1172.3,527.9 1173.3,518.6 1174.4,586 1175.4,562.9 1176.4,527.3 1177.4,518.4 1178.5,501.2 1179.5,505.4 1180.5,579.8 1181.6,544.2 1182.6,604.8 1183.6,608.4 1184.6,563 1185.7,538.4 1186.7,512 1187.7,527.4 1188.8,513.2 1189.8,547.4 1190.8,560.7 1191.8,533.5 1192.9,557 1193.9,513.6 1194.9,575.2 1196,554.8 1197,526.6 1198,573.6 1199,582 1200.1,572 1201.1,499.7 1202.1,569.8 1203.2,574.3 1204.2,563.3 1205.2,576.5 1206.2,512.6 1207.3,537.1 1208.3,510.2 1209.3,506.6 1210.4,560.4 1211.4,510.6 1212.4,520 1213.4,516.3 1214.5,521.2 1215.5,559.7 1216.5,523.7 1217.6,578.2 1218.6,587.7 1219.6,510.1 1220.6,528.2 1221.7,530.5 1222.7,523.4" fill="none" stroke="#c23c88" stroke-width="3.9" stroke-linejoin="round" stroke-linecap="round" clip-path="url(#c3)"/>
<polyline points="688.9,502.4 689.9,510.2 691,500.5 692,500.1 693,508.8 694,508.1 695.1,538.9 696.1,572.5 697.1,517.5 698.2,526.6 699.2,565 700.2,514.4 701.2,527.3 702.3,572.9 703.3,518.2 704.3,527.8 705.4,553.7 706.4,577.3 707.4,557.4 708.4,553.7 709.5,533.5 710.5,542.3 711.5,583.5 712.6,547 713.6,563.1 714.6,555.9 715.6,538.2 716.7,549.2 717.7,584.2 718.7,539.5 719.8,554.3 720.8,572.1 721.8,571.6 722.8,566.7 723.9,554 724.9,557.9 725.9,528.8 727,560.7 728,572.1 729,552.4 730,546.4 731.1,576.1 732.1,586.4 733.1,562.4 734.2,574.5 735.2,534.9 736.2,569.7 737.2,565.4 738.3,593.7 739.3,559 740.3,576.3 741.4,556.2 742.4,578.2 743.4,575.6 744.4,561.1 745.5,592.4 746.5,559.1 747.5,562.8 748.6,595.4 749.6,544.1 750.6,585.6 751.6,555.1 752.7,605.7 753.7,588.3 754.7,551.6 755.8,573.4 756.8,559.6 757.8,596.5 758.8,550.2 759.9,556.4 760.9,553.2 761.9,568 763,615.3 764,578.1 765,571.7 766,584.2 767.1,558.6 768.1,634.6 769.1,545.8 770.2,577.9 771.2,564.5 772.2,577.5 773.2,567.7 774.3,589.6 775.3,582 776.3,582.2 777.4,534.7 778.4,585 779.4,590.4 780.4,579.4 781.5,581.5 782.5,557.1 783.5,574.9 784.6,563.9 785.6,578.1 786.6,548.2 787.6,558.2 788.7,557.8 789.7,552.3 790.7,595.2 791.8,566.3 792.8,568.5 793.8,578.3 794.8,552.2 795.9,586.2 796.9,555.3 797.9,550.9 799,561.2 800,601.6 801,572.1 802,577.9 803.1,583.2 804.1,569.5 805.1,554.1 806.2,577.6 807.2,556.7 808.2,577.7 809.2,591.1 810.3,567.1 811.3,590.8 812.3,547 813.4,558.4 814.4,556.5 815.4,570.6 816.4,574.4 817.5,578.6 818.5,552.8 819.5,560.1 820.6,588.9 821.6,582.8 822.6,583.4 823.6,560.5 824.7,554.2 825.7,559 826.7,601 827.7,580.3 828.8,552.4 829.8,587.7 830.8,582.6 831.9,555 832.9,550.4 833.9,558.4 834.9,572.5 836,558 837,545 838,589.2 839.1,552.5 840.1,587.5 841.1,581.8 842.1,549.4 843.2,613.2 844.2,597.4 845.2,605.1 846.3,561.2 847.3,563.6 848.3,545.3 849.3,535 850.4,550.8 851.4,587.1 852.4,554.1 853.5,548.5 854.5,555.9 855.5,542.1 856.5,560.2 857.6,556.1 858.6,545.2 859.6,580.3 860.7,630.8 861.7,553.9 862.7,569.7 863.7,574.6 864.8,536.2 865.8,549.1 866.8,590.6 867.9,573.5 868.9,567.6 869.9,553.1 870.9,567.2 872,586.1 873,541.4 874,552.2 875.1,574.8 876.1,590.3 877.1,597 878.1,597.7 879.2,533 880.2,566.9 881.2,553.4 882.3,553.2 883.3,530.8 884.3,558.9 885.3,563.3 886.4,538.1 887.4,566.5 888.4,568.3 889.5,541.4 890.5,531.5 891.5,563.7 892.5,605.3 893.6,563.3 894.6,555.3 895.6,576.1 896.7,592.7 897.7,542.9 898.7,570.2 899.7,570.5 900.8,553 901.8,565.9 902.8,530.2 903.9,573.3 904.9,545.6 905.9,576.9 906.9,562.7 908,592.1 909,625.2 910,571.2 911.1,547.3 912.1,598.5 913.1,560.1 914.1,566.8 915.2,560.8 916.2,548.9 917.2,529.3 918.3,606 919.3,544.7 920.3,598 921.3,533.9 922.4,549.5 923.4,548 924.4,569.9 925.5,547.5 926.5,569.2 927.5,561.7 928.5,558.6 929.6,540.7 930.6,562 931.6,579.3 932.7,571.9 933.7,553.1 934.7,563.4 935.7,595.3 936.8,537 937.8,550.8 938.8,558.4 939.9,551 940.9,585.8 941.9,606.3 942.9,562.8 944,539.9 945,566.3 946,537.2 947.1,565.6 948.1,520.3 949.1,521.2 950.1,536.3 951.2,549.9 952.2,556.4 953.2,573.6 954.3,548.4 955.3,557 956.3,600 957.3,555.1 958.4,559 959.4,540.9 960.4,568.9 961.5,551.3 962.5,558 963.5,530.1 964.5,534.1 965.6,562.4 966.6,558.5 967.6,562.4 968.7,583.7 969.7,562.6 970.7,558.3 971.7,552.2 972.8,519.4 973.8,547.3 974.8,531.2 975.9,552.3 976.9,563.1 977.9,561.9 978.9,569.2 980,539.7 981,589.5 982,523.6 983.1,524.5 984.1,521.5 985.1,527.5 986.1,548.5 987.2,532.1 988.2,552.3 989.2,535.8 990.3,534.7 991.3,571.5 992.3,554.9 993.3,570.1 994.4,555.1 995.4,558.9 996.4,579.8 997.5,524.1 998.5,547 999.5,529.5 1000.5,557.8 1001.6,537.7 1002.6,565.7 1003.6,573 1004.7,577.7 1005.7,553 1006.7,542.4 1007.7,566.2 1008.8,535.9 1009.8,529 1010.8,573.9 1011.9,580.2 1012.9,575.3 1013.9,551 1014.9,538.6 1016,532.7 1017,513.7 1018,539.2 1019.1,550.8 1020.1,591.4 1021.1,529.5 1022.1,540.5 1023.2,576.3 1024.2,553.5 1025.2,562.8 1026.3,524.9 1027.3,582.3 1028.3,559.1 1029.3,565.6 1030.4,552.1 1031.4,555.3 1032.4,550.7 1033.5,555.1 1034.5,547.3 1035.5,571.7 1036.5,548.1 1037.6,549.9 1038.6,541 1039.6,588.6 1040.7,576.9 1041.7,526.9 1042.7,542.9 1043.7,558.3 1044.8,535 1045.8,505.2 1046.8,543.9 1047.9,580.1 1048.9,562.4 1049.9,558.9 1050.9,538.5 1052,560.4 1053,539.9 1054,549.9 1055.1,547 1056.1,582 1057.1,583.2 1058.1,535.2 1059.2,537.1 1060.2,529.7 1061.2,577.2 1062.3,568.1 1063.3,562.2 1064.3,546.7 1065.3,532.2 1066.4,577.8 1067.4,530.1 1068.4,534.6 1069.5,563.8 1070.5,565.5 1071.5,550.7 1072.5,551 1073.6,558.9 1074.6,533.2 1075.6,517 1076.7,550.6 1077.7,560.3 1078.7,596.4 1079.7,564.3 1080.8,515.5 1081.8,550.3 1082.8,512.2 1083.9,553.1 1084.9,558.1 1085.9,559.8 1086.9,540.4 1088,540.9 1089,544.3 1090,542.9 1091,547.5 1092.1,526.6 1093.1,556 1094.1,500.8 1095.2,580.2 1096.2,549.5 1097.2,548.7 1098.2,536.4 1099.3,545.6 1100.3,557.7 1101.3,544.6 1102.4,547.4 1103.4,532.8 1104.4,517.6 1105.4,509.1 1106.5,534.2 1107.5,514.2 1108.5,563.5 1109.6,554.7 1110.6,556.7 1111.6,536.3 1112.6,544.1 1113.7,511.4 1114.7,586.5 1115.7,516.2 1116.8,547.4 1117.8,541.2 1118.8,537.4 1119.8,535.3 1120.9,505.1 1121.9,575 1122.9,550.9 1124,524.8 1125,539.4 1126,515 1127,582.7 1128.1,514.9 1129.1,510.6 1130.1,543.2 1131.2,525.7 1132.2,552.9 1133.2,525 1134.2,503.9 1135.3,548 1136.3,565.9 1137.3,549.7 1138.4,587.9 1139.4,524.5 1140.4,599.1 1141.4,560.8 1142.5,561 1143.5,542.7 1144.5,526.4 1145.6,521 1146.6,516.7 1147.6,541.8 1148.6,551 1149.7,519 1150.7,550.9 1151.7,523.5 1152.8,550 1153.8,541.3 1154.8,516.6 1155.8,525.1 1156.9,527.3 1157.9,536.9 1158.9,536.6 1160,511.1 1161,567.5 1162,573.1 1163,552.3 1164.1,547.1 1165.1,555.1 1166.1,520.6 1167.2,510.6 1168.2,519.3 1169.2,562.2 1170.2,556.3 1171.3,553.7 1172.3,551.1 1173.3,540.8 1174.4,536.1 1175.4,523.4 1176.4,524.8 1177.4,529.1 1178.5,560.8 1179.5,554.9 1180.5,493.6 1181.6,515.9 1182.6,515.8 1183.6,591.1 1184.6,531.2 1185.7,508.2 1186.7,536.9 1187.7,554.3 1188.8,539.1 1189.8,531.5 1190.8,522.4 1191.8,544.6 1192.9,536.2 1193.9,510.2 1194.9,604.4 1196,604.3 1197,540.7 1198,530.6 1199,541.9 1200.1,557.8 1201.1,539.7 1202.1,506.3 1203.2,468.6 1204.2,486.6 1205.2,498.4 1206.2,513 1207.3,548.9 1208.3,547.5 1209.3,506.5 1210.4,555.5 1211.4,520.3 1212.4,513.1 1213.4,508.7 1214.5,569.3 1215.5,529.3 1216.5,547.2 1217.6,571.8 1218.6,507.9 1219.6,536.7 1220.6,524 1221.7,519.2 1222.7,569.2" fill="none" stroke="#96509a" stroke-width="3.9" stroke-linejoin="round" stroke-linecap="round" clip-path="url(#c3)"/>
<polyline points="688.9,408.8 689.9,460.7 691,497.9 692,441.5 693,488.5 694,508.3 695.1,438.8 696.1,452.6 697.1,476.4 698.2,499.1 699.2,468.6 700.2,464.1 701.2,458.8 702.3,497 703.3,442.9 704.3,487.3 705.4,498.8 706.4,459.4 707.4,477.4 708.4,457.7 709.5,517.5 710.5,456.3 711.5,495.5 712.6,491.8 713.6,480.5 714.6,486.7 715.6,470.3 716.7,469.2 717.7,480.3 718.7,470.2 719.8,493.1 720.8,542.1 721.8,488.6 722.8,463.9 723.9,473.4 724.9,463.2 725.9,501.8 727,525.5 728,507.6 729,520.2 730,525.4 731.1,493.8 732.1,488.9 733.1,524.3 734.2,529.1 735.2,506.2 736.2,483.4 737.2,505.5 738.3,513.1 739.3,532.5 740.3,516.4 741.4,517.7 742.4,514.6 743.4,548.3 744.4,544.5 745.5,541.5 746.5,507 747.5,506.4 748.6,543.9 749.6,533.7 750.6,497.8 751.6,537.6 752.7,530.9 753.7,561.4 754.7,564 755.8,535.9 756.8,518.2 757.8,530.1 758.8,540 759.9,507.1 760.9,509.3 761.9,539.5 763,559.4 764,546.2 765,532.5 766,543.5 767.1,517.6 768.1,558.4 769.1,539.2 770.2,552 771.2,544.9 772.2,537.4 773.2,542.9 774.3,552.7 775.3,527.7 776.3,586 777.4,572.8 778.4,535 779.4,532.3 780.4,591.4 781.5,536.1 782.5,597.9 783.5,551.1 784.6,575.2 785.6,521.4 786.6,576 787.6,588.5 788.7,542 789.7,578.9 790.7,628.4 791.8,581.2 792.8,590.2 793.8,533.2 794.8,607.9 795.9,539.7 796.9,548.7 797.9,559.3 799,587.3 800,554.2 801,563 802,573.5 803.1,535.2 804.1,595.7 805.1,554.1 806.2,559.8 807.2,588.7 808.2,568.8 809.2,573.5 810.3,541.7 811.3,570.4 812.3,553 813.4,528.2 814.4,539.1 815.4,587.1 816.4,536.4 817.5,582.8 818.5,591.3 819.5,572.1 820.6,583.6 821.6,572.8 822.6,552.2 823.6,604.3 824.7,561.6 825.7,583.1 826.7,555.6 827.7,580 828.8,537.9 829.8,582.1 830.8,603.5 831.9,525.8 832.9,521.6 833.9,565.1 834.9,624.4 836,566.7 837,584.8 838,574.5 839.1,554 840.1,549.8 841.1,556.6 842.1,580.2 843.2,541.7 844.2,561.7 845.2,543 846.3,570.5 847.3,564.2 848.3,553.7 849.3,573.3 850.4,595 851.4,540.1 852.4,550.9 853.5,557.1 854.5,594.2 855.5,558.9 856.5,590.8 857.6,545.7 858.6,554 859.6,564.1 860.7,566.7 861.7,570.8 862.7,520.2 863.7,565.9 864.8,545.2 865.8,540.7 866.8,570.4 867.9,543.9 868.9,534.7 869.9,587.5 870.9,596.5 872,599.6 873,579.1 874,554.4 875.1,561.3 876.1,555.6 877.1,551.3 878.1,559.1 879.2,556.8 880.2,562.9 881.2,552.2 882.3,556.4 883.3,523.1 884.3,543 885.3,592.3 886.4,534 887.4,558.4 888.4,564.3 889.5,591.5 890.5,581.1 891.5,526 892.5,527.5 893.6,531.3 894.6,552 895.6,578.4 896.7,547.5 897.7,557 898.7,597.9 899.7,559.5 900.8,544 901.8,592.3 902.8,560.7 903.9,584.4 904.9,569.3 905.9,557.3 906.9,558.3 908,556.7 909,552.2 910,549.4 911.1,553.8 912.1,583.4 913.1,541.7 914.1,586.2 915.2,571.1 916.2,551.4 917.2,563.4 918.3,551.1 919.3,540.4 920.3,521.4 921.3,554.4 922.4,541.1 923.4,565.5 924.4,523.6 925.5,574.9 926.5,517 927.5,537.5 928.5,574.5 929.6,545.4 930.6,549.1 931.6,552.6 932.7,536.1 933.7,553.5 934.7,543.2 935.7,559 936.8,576.6 937.8,583.9 938.8,577.8 939.9,543.5 940.9,552.7 941.9,558.9 942.9,579.7 944,515.5 945,541.5 946,556.3 947.1,522.1 948.1,540.8 949.1,536.4 950.1,542.1 951.2,566.9 952.2,511.4 953.2,550 954.3,544.3 955.3,531.2 956.3,547 957.3,545 958.4,560.6 959.4,548.8 960.4,558.9 961.5,550 962.5,587.4 963.5,533.9 964.5,555.6 965.6,527.6 966.6,526.6 967.6,528.5 968.7,566.4 969.7,566.8 970.7,583.5 971.7,557.1 972.8,585.7 973.8,544.9 974.8,548 975.9,537.5 976.9,517.2 977.9,602.9 978.9,537.8 980,538.3 981,552.4 982,539.6 983.1,553.9 984.1,568.3 985.1,550.3 986.1,571 987.2,543.2 988.2,542.6 989.2,537.4 990.3,567.3 991.3,539.1 992.3,528.2 993.3,554.9 994.4,569.1 995.4,525 996.4,539.8 997.5,583 998.5,550.9 999.5,534.1 1000.5,549.4 1001.6,520.7 1002.6,599.1 1003.6,553.9 1004.7,548.3 1005.7,518.6 1006.7,540.8 1007.7,550.9 1008.8,513.4 1009.8,521.2 1010.8,542.4 1011.9,540.2 1012.9,549.2 1013.9,543.9 1014.9,559.6 1016,516.4 1017,553.4 1018,567.1 1019.1,529 1020.1,551.9 1021.1,524.5 1022.1,500 1023.2,535.5 1024.2,552.4 1025.2,571.5 1026.3,545.6 1027.3,525.1 1028.3,521.3 1029.3,578.6 1030.4,536.4 1031.4,545.6 1032.4,550.5 1033.5,541.4 1034.5,560.1 1035.5,515.1 1036.5,546 1037.6,522.9 1038.6,577.1 1039.6,551.5 1040.7,527.3 1041.7,497.8 1042.7,526.4 1043.7,582.6 1044.8,537.1 1045.8,540.9 1046.8,537.5 1047.9,526.9 1048.9,562.2 1049.9,541.8 1050.9,559.1 1052,522 1053,522.4 1054,512.5 1055.1,543.2 1056.1,512.2 1057.1,550.2 1058.1,524.6 1059.2,539.4 1060.2,516.2 1061.2,524.4 1062.3,571 1063.3,559.7 1064.3,525.8 1065.3,546.5 1066.4,527.9 1067.4,553.3 1068.4,537.6 1069.5,537.1 1070.5,522 1071.5,556.5 1072.5,529.8 1073.6,597 1074.6,558.4 1075.6,531.8 1076.7,506.2 1077.7,566.1 1078.7,537.5 1079.7,533.4 1080.8,575.2 1081.8,573 1082.8,522.3 1083.9,513.5 1084.9,534.2 1085.9,546.1 1086.9,528.2 1088,528.1 1089,568.5 1090,547 1091,522.6 1092.1,539.3 1093.1,518.2 1094.1,530.7 1095.2,559.5 1096.2,547.3 1097.2,554.5 1098.2,606.3 1099.3,581.8 1100.3,531.1 1101.3,535.2 1102.4,548 1103.4,516.9 1104.4,581.7 1105.4,527.7 1106.5,565.6 1107.5,556.5 1108.5,582.9 1109.6,551.2 1110.6,508.5 1111.6,544.1 1112.6,559.9 1113.7,482.6 1114.7,589.3 1115.7,525.3 1116.8,572.1 1117.8,552.3 1118.8,604.5 1119.8,557.1 1120.9,495.9 1121.9,565.1 1122.9,557 1124,539.1 1125,524.5 1126,537.1 1127,532.5 1128.1,550.5 1129.1,530.5 1130.1,499.1 1131.2,509.1 1132.2,515 1133.2,525.9 1134.2,601.8 1135.3,513 1136.3,541.3 1137.3,559.9 1138.4,512.7 1139.4,527.9 1140.4,507.2 1141.4,581.2 1142.5,567 1143.5,542.9 1144.5,541.8 1145.6,557 1146.6,517.8 1147.6,533 1148.6,533 1149.7,512.4 1150.7,524.2 1151.7,529.2 1152.8,514.6 1153.8,525.9 1154.8,515.2 1155.8,539 1156.9,538.1 1157.9,524.5 1158.9,500.4 1160,515.6 1161,508.3 1162,548.5 1163,530.6 1164.1,530.6 1165.1,500.5 1166.1,511.2 1167.2,578.6 1168.2,544.8 1169.2,537.7 1170.2,501.9 1171.3,545.8 1172.3,517.9 1173.3,549.2 1174.4,521.6 1175.4,498.2 1176.4,528.9 1177.4,514.4 1178.5,498.9 1179.5,511.1 1180.5,495.1 1181.6,501.5 1182.6,506 1183.6,493 1184.6,546.2 1185.7,558.4 1186.7,502.8 1187.7,515.4 1188.8,561.4 1189.8,504 1190.8,514.1 1191.8,514.4 1192.9,495 1193.9,516.5 1194.9,542.7 1196,538.6 1197,528.3 1198,500.9 1199,547.9 1200.1,509.4 1201.1,504.1 1202.1,549.6 1203.2,525.9 1204.2,510.8 1205.2,508.5 1206.2,531.4 1207.3,514 1208.3,518.3 1209.3,522.5 1210.4,522.2 1211.4,525.8 1212.4,490.8 1213.4,522.3 1214.5,576 1215.5,504.5 1216.5,462.2 1217.6,548.7 1218.6,482.8 1219.6,498.3 1220.6,555.1 1221.7,519.8 1222.7,535.4" fill="none" stroke="#7866aa" stroke-width="3.9" stroke-linejoin="round" stroke-linecap="round" clip-path="url(#c3)"/>
<polyline points="688.9,363.6 689.3,412.7 689.8,426.7 690.2,398.2 690.7,434.5 691.1,399.2 691.6,383.4 692,378 692.5,372.8 692.9,359.9 693.4,407.9 693.8,428.8 694.2,375.4 694.7,400 695.1,385.9 695.6,417.1 696,392.4 696.5,412.5 696.9,397.6 697.4,405.4 697.8,359.3 698.2,390.2 698.7,380.5 699.1,370.2 699.6,355.7 700,361.4 700.5,366 700.9,341.9 701.4,371.8 701.8,365.2 702.3,391.6 702.7,372.6 703.1,351.4 703.6,336.3 704,385.2 704.5,366.5 704.9,381.4 705.4,345.1 705.8,366.2 706.3,334.9 706.7,335.6 707.2,365.5 707.6,395.5 708,395.1 708.5,375.8 708.9,350.7 709.4,351.3 709.8,371.7 710.3,338 710.7,361.1 711.2,314.5 711.6,327.5 712.1,329.6 712.5,348.9 712.9,331.4 713.4,350.8 713.8,316.7 714.3,362.9 714.7,329.5 715.2,336.1 715.6,373.7 716.1,360.6 716.5,354.6 716.9,361.8 717.4,352.3 717.8,391.6 718.3,335.1 718.7,357.9 719.2,320.9 719.6,346.7 720.1,343.8 720.5,327.8 721,356.5 721.4,334.8 721.8,316 722.3,324.8 722.7,311.7 723.2,359 723.6,358.5 724.1,360.4 724.5,332.9 725,338.5 725.4,326.5 725.9,325.3 726.3,360.4 726.7,342.7 727.2,339.9 727.6,361.7 728.1,354.7 728.5,369 729,352.8 729.4,345.2 729.9,341.7 730.3,389.4 730.7,347.6 731.2,318.9 731.6,359.8 732.1,344.9 732.5,377.2 733,336.1 733.4,386.8 733.9,360.5 734.3,339.7 734.8,345.6 735.2,337.5 735.6,369.8 736.1,373.1 736.5,330 737,342.7 737.4,352.3 737.9,364.8 738.3,370.5 738.8,374.3 739.2,361.1 739.7,366.7 740.1,336.7 740.5,380.1 741,365.9 741.4,349.9 741.9,359.7 742.3,354.6 742.8,379.6 743.2,363 743.7,380.5 744.1,353.2 744.6,379.6 745,348.1 745.4,359.5 745.9,387 746.3,351.3 746.8,365.1 747.2,352.1 747.7,329.7 748.1,396.6 748.6,356.9 749,377.1 749.4,368.7 749.9,389.6 750.3,361.2 750.8,356.7 751.2,363 751.7,367.8 752.1,351.7 752.6,353 753,354.9 753.5,353 753.9,367.6 754.3,366.3 754.8,352.3 755.2,371 755.7,372.2 756.1,383.2 756.6,394.1 757,356.6 757.5,385.1 757.9,360 758.4,369.8 758.8,422.3 759.2,387.6 759.7,394.8 760.1,344 760.6,342 761,347.4 761.5,378.1 761.9,376.5 762.4,380.2 762.8,391.9 763.2,361.8 763.7,387.4 764.1,384.7 764.6,374.1 765,387.3 765.5,366.5 765.9,417.3 766.4,399.2 766.8,398.8 767.3,387.2 767.7,371.3 768.1,400.2 768.6,377.3 769,381.6 769.5,372.8 769.9,369.1 770.4,402.9 770.8,418.1 771.3,380.5 771.7,385.9 772.2,394 772.6,375.2 773,422.7 773.5,402.7 773.9,379.1 774.4,415.3 774.8,396.5 775.3,448 775.7,424.7 776.2,424.5 776.6,376.7 777.1,383.4 777.5,377.3 777.9,382.8 778.4,399.6 778.8,394.1 779.3,386.5 779.7,415.7 780.2,439.1 780.6,397.7 781.1,423 781.5,413.7 781.9,382.5 782.4,421.8 782.8,388.5 783.3,381.3 783.7,438.6 784.2,404 784.6,388.1 785.1,414.9 785.5,406.1 786,417.2 786.4,443.2 786.8,436.4 787.3,383 787.7,398.6 788.2,396.3 788.6,411.5 789.1,412.1 789.5,396.2 790,391.9 790.4,408.7 790.9,419.1 791.3,437.2 791.7,407.1 792.2,418.5 792.6,417.7 793.1,415.2 793.5,407.5 794,399.3 794.4,396.7 794.9,376.7 795.3,396.1 795.7,401.2 796.2,444.8 796.6,414.7 797.1,404.4 797.5,399.5 798,425.6 798.4,401.4 798.9,422.2 799.3,401 799.8,414.9 800.2,417.9 800.6,428.4 801.1,423.4 801.5,397.7 802,405.3 802.4,405.3 802.9,414 803.3,399.7 803.8,403.6 804.2,410.9 804.7,423.1 805.1,410.1 805.5,449.9 806,402.8 806.4,437.4 806.9,430.1 807.3,408.7 807.8,420.5 808.2,437.8 808.7,439.8 809.1,430.4 809.6,447.6 810,435.7 810.4,436.1 810.9,446.3 811.3,435.9 811.8,445.1 812.2,428.1 812.7,472.3 813.1,459.7 813.6,441.8 814,424.2 814.4,439.2 814.9,415.8 815.3,439.7 815.8,409 816.2,440.6 816.7,436 817.1,406 817.6,437.1 818,422.2 818.5,412.1 818.9,410.8 819.3,430.1 819.8,425.7 820.2,432.8 820.7,458.9 821.1,434.4 821.6,430 822,487.1 822.5,464.7 822.9,409.4 823.4,412.5 823.8,456.2 824.2,417.3 824.7,414.7 825.1,422.8 825.6,408.7 826,439 826.5,424 826.9,424.1 827.4,463 827.8,447.6 828.2,442.9 828.7,441.4 829.1,446 829.6,457.6 830,452.3 830.5,423.7 830.9,416.1 831.4,446.3 831.8,423.4 832.3,453.5 832.7,428.7 833.1,418.3 833.6,454 834,451.8 834.5,440 834.9,461.1 835.4,446.8 835.8,481.3 836.3,461.9 836.7,456 837.2,433.3 837.6,453.3 838,430.9 838.5,452.7 838.9,437.8 839.4,479.9 839.8,487.5 840.3,457.2 840.7,447.3 841.2,459.2 841.6,434.6 842.1,467.4 842.5,466.7 842.9,457.9 843.4,508 843.8,462.6 844.3,426.9 844.7,430.8 845.2,449.1 845.6,449.1 846.1,444.8 846.5,441.4 846.9,452.6 847.4,440.8 847.8,442.4 848.3,427 848.7,450.3 849.2,465.4 849.6,457.8 850.1,458 850.5,465.8 851,474.5 851.4,461.8 851.8,459.8 852.3,447.1 852.7,445.8 853.2,445.8 853.6,446.1 854.1,458.6 854.5,495.6 855,477.8 855.4,442.5 855.9,459 856.3,467.8 856.7,434.5 857.2,464.2 857.6,466.5 858.1,467.2 858.5,474.6 859,470.8 859.4,455.3 859.9,439 860.3,487.9 860.7,451.3 861.2,464.8 861.6,475.1 862.1,446.1 862.5,449.3 863,471.1 863.4,464.5 863.9,508.1 864.3,453.6 864.8,506.3 865.2,503.1 865.6,471.3 866.1,489.6 866.5,477.2 867,495.7 867.4,514.3 867.9,478 868.3,465.7 868.8,491.3 869.2,480.4 869.7,448.9 870.1,487.4 870.5,467.6 871,467.1 871.4,480.7 871.9,490 872.3,461.2 872.8,454.6 873.2,462.9 873.7,464.9 874.1,463 874.6,452.6 875,459.1 875.4,455.6 875.9,463.7 876.3,465.8 876.8,440.1 877.2,484.2 877.7,503.9 878.1,464.6 878.6,455.1 879,453 879.4,467.9 879.9,459.5 880.3,514.9 880.8,484.6 881.2,451.7 881.7,463 882.1,477.1 882.6,451 883,438 883.5,478.1 883.9,479.9 884.3,440.7 884.8,489.6 885.2,463.7 885.7,455.6 886.1,463.8 886.6,455.6 887,461.9 887.5,497.6 887.9,495.5 888.4,438.5 888.8,457.5 889.2,489.5 889.7,441.1 890.1,516.8 890.6,524.6 891,464.5 891.5,471.9 891.9,480 892.4,496.4 892.8,459.6 893.2,462.6 893.7,503.6 894.1,462.6 894.6,482.5 895,473.7 895.5,464.9 895.9,446.6 896.4,505.2 896.8,465.3 897.3,474.6 897.7,513.3 898.1,479.4 898.6,481.4 899,501.4 899.5,503.1 899.9,475.3 900.4,482.2 900.8,461.5 901.3,482.1 901.7,469.3 902.2,508.7 902.6,496.5 903,460.5 903.5,514.7 903.9,461 904.4,465.7 904.8,472.4 905.3,462.4 905.7,500.7 906.2,496.5 906.6,496.5 907.1,483.7 907.5,470.1 907.9,492.2 908.4,492.2 908.8,492.7 909.3,494.2 909.7,508.6 910.2,472.5 910.6,483.5 911.1,486 911.5,470.3 911.9,493.4 912.4,464.9 912.8,522.1 913.3,479.6 913.7,498.8 914.2,479.3 914.6,494.7 915.1,464.6 915.5,497.8 916,482.5 916.4,496.9 916.8,486 917.3,492.1 917.7,471.6 918.2,508.7 918.6,485.7 919.1,516.2 919.5,496.5 920,481.5 920.4,508 920.9,486.8 921.3,479.9 921.7,493.8 922.2,508.4 922.6,486.7 923.1,496.6 923.5,479 924,493.9 924.4,473.6 924.9,479.5 925.3,488.6 925.7,513.9 926.2,506.2 926.6,480.8 927.1,477.4 927.5,473.9 928,506.4 928.4,509.4 928.9,494.1 929.3,516.8 929.8,514.6 930.2,501.9 930.6,516.3 931.1,492.6 931.5,486.9 932,488.3 932.4,493.3 932.9,505.9 933.3,503.7 933.8,469.8 934.2,513.4 934.7,495.5 935.1,488.5 935.5,511.9 936,525.9 936.4,476.2 936.9,494.6 937.3,539.6 937.8,500.9 938.2,520.2 938.7,504 939.1,476.4 939.6,501.2 940,548.7 940.4,515.5 940.9,519.5 941.3,498.3 941.8,505.7 942.2,485.2 942.7,484.5 943.1,511.8 943.6,488.5 944,528.1 944.4,494.4 944.9,537.6 945.3,511.1 945.8,506.3 946.2,500.1 946.7,475.7 947.1,503.1 947.6,535.5 948,496.3 948.5,500.6 948.9,505.3 949.3,512.7 949.8,510 950.2,520 950.7,495.8 951.1,501.8 951.6,521.6 952,537.1 952.5,528.5 952.9,483.9 953.4,529.8 953.8,501 954.2,543.7 954.7,499.3 955.1,517.6 955.6,482.7 956,536.1 956.5,498.6 956.9,516.8 957.4,545.9 957.8,506.2 958.2,551.8 958.7,518.8 959.1,501.4 959.6,513.4 960,505.7 960.5,502.2 960.9,492 961.4,527.4 961.8,505.9 962.3,504.6 962.7,494.9 963.1,526.2 963.6,556.2 964,516.2 964.5,505.3 964.9,516.1 965.4,494.2 965.8,528.2 966.3,502.3 966.7,518.6 967.2,507.6 967.6,512.4 968,510.3 968.5,532.3 968.9,530.4 969.4,513.9 969.8,504.5 970.3,495.1 970.7,527.2 971.2,556.1 971.6,502.9 972,534.4 972.5,524.9 972.9,509.6 973.4,523.3 973.8,515.1 974.3,516.4 974.7,503.1 975.2,523.5 975.6,563.7 976.1,539.9 976.5,509.7 976.9,545 977.4,531.8 977.8,508.8 978.3,529.4 978.7,565.9 979.2,557.9 979.6,521.1 980.1,546.1 980.5,515.8 981,519.3 981.4,513 981.8,499.1 982.3,543.4 982.7,526.8 983.2,506.8 983.6,510.4 984.1,516.5 984.5,523.7 985,515.8 985.4,497.8 985.9,557.2 986.3,569.4 986.7,500.2 987.2,561.7 987.6,527.1 988.1,526.9 988.5,559.3 989,507.6 989.4,553.5 989.9,529.3 990.3,553.1 990.7,524 991.2,537.3 991.6,505.4 992.1,530.5 992.5,500.3 993,503.5 993.4,551.5 993.9,522.7 994.3,541.8 994.8,502.3 995.2,532.7 995.6,505.1 996.1,520 996.5,519.7 997,522.6 997.4,527.9 997.9,556.5 998.3,521 998.8,565.6 999.2,514.6 999.7,539.5 1000.1,513.4 1000.5,512.2 1001,524.4 1001.4,516.4 1001.9,513 1002.3,566.7 1002.8,579.7 1003.2,503.8 1003.7,532.8 1004.1,518.7 1004.5,552.7 1005,529.3 1005.4,554 1005.9,546.7 1006.3,530.6 1006.8,533.9 1007.2,516.7 1007.7,507.4 1008.1,503.3 1008.6,567.4 1009,563.9 1009.4,515.2 1009.9,536.7 1010.3,527.5 1010.8,506.6 1011.2,547 1011.7,513.8 1012.1,507.9 1012.6,520.2 1013,524.2 1013.5,497.5 1013.9,536 1014.3,544.1 1014.8,561.4 1015.2,530.6 1015.7,539.2 1016.1,537.1 1016.6,526.7 1017,524.9 1017.5,539 1017.9,547 1018.4,554.9 1018.8,508.9 1019.2,549.9 1019.7,550.3 1020.1,539.6 1020.6,550.9 1021,560.8 1021.5,527.9 1021.9,532.7 1022.4,551 1022.8,523.3 1023.2,572.9 1023.7,533.5 1024.1,532.6 1024.6,545.5 1025,559 1025.5,533.8 1025.9,520.9 1026.4,535.9 1026.8,531.4 1027.3,537.1 1027.7,537.6 1028.1,548.1 1028.6,561 1029,518.5 1029.5,514.9 1029.9,539.9 1030.4,520.3 1030.8,521.3 1031.3,542.8 1031.7,521.7 1032.2,526 1032.6,559.7 1033,508.6 1033.5,507.1 1033.9,511.2 1034.4,545.3 1034.8,559 1035.3,525.3 1035.7,520 1036.2,543.9 1036.6,525.5 1037,517.6 1037.5,540.3 1037.9,513.7 1038.4,544.8 1038.8,538.9 1039.3,527.8 1039.7,545.1 1040.2,512.1 1040.6,519.5 1041.1,533.8 1041.5,521.3 1041.9,538.1 1042.4,559.3 1042.8,537.7 1043.3,552.9 1043.7,523.6 1044.2,549 1044.6,520.3 1045.1,535.3 1045.5,518.8 1046,539.2 1046.4,525.6 1046.8,526.2 1047.3,534 1047.7,552.3 1048.2,551.7 1048.6,534.6 1049.1,542.7 1049.5,525.4 1050,509.4 1050.4,554.8 1050.9,553.6 1051.3,525.3 1051.7,513.9 1052.2,566.6 1052.6,548 1053.1,533.5 1053.5,533.3 1054,542.4 1054.4,534.7 1054.9,535.2 1055.3,512.1 1055.7,537.1 1056.2,509.9 1056.6,538.4 1057.1,529 1057.5,509.2 1058,504.9 1058.4,564 1058.9,549 1059.3,546.7 1059.8,539.8 1060.2,559.6 1060.6,524.3 1061.1,529.4 1061.5,507.9 1062,537.3 1062.4,544.1 1062.9,526.7 1063.3,549.1 1063.8,534.2 1064.2,536.6 1064.7,526.7 1065.1,516.7 1065.5,555.1 1066,527.5 1066.4,538.5 1066.9,540.5 1067.3,523.2 1067.8,532.1 1068.2,534.5 1068.7,545.9 1069.1,536.7 1069.5,552 1070,540.7 1070.4,544.5 1070.9,575.9 1071.3,535.6 1071.8,552 1072.2,533 1072.7,529.2 1073.1,565.1 1073.6,524 1074,524.2 1074.4,526.3 1074.9,527.7 1075.3,502.5 1075.8,533 1076.2,527.6 1076.7,563.6 1077.1,505.9 1077.6,538.9 1078,525.4 1078.5,527 1078.9,545.2 1079.3,545.5 1079.8,535.5 1080.2,552.6 1080.7,506.2 1081.1,532 1081.6,509.9 1082,529.4 1082.5,539.5 1082.9,509.4 1083.4,502.6 1083.8,555.3 1084.2,533.8 1084.7,532.9 1085.1,518.9 1085.6,517.6 1086,539.7 1086.5,533.4 1086.9,513.7 1087.4,557.3 1087.8,501.7 1088.2,553.9 1088.7,513.6 1089.1,541.1 1089.6,510.9 1090,561.2 1090.5,520 1090.9,541.4 1091.4,523 1091.8,539.7 1092.3,548.2 1092.7,522.6 1093.1,534.6 1093.6,536.3 1094,542.6 1094.5,508.8 1094.9,522.3 1095.4,521 1095.8,525.1 1096.3,541.1 1096.7,538.8 1097.2,517.1 1097.6,554.7 1098,553.1 1098.5,512.8 1098.9,560.5 1099.4,543.4 1099.8,540.6 1100.3,522.8 1100.7,508.9 1101.2,531.5 1101.6,541.1 1102,522.4 1102.5,555.5 1102.9,539.3 1103.4,529.4 1103.8,539.6 1104.3,548.9 1104.7,531.6 1105.2,515.7 1105.6,550.6 1106.1,592.2 1106.5,501.5 1106.9,495.4 1107.4,534 1107.8,528.7 1108.3,524.6 1108.7,581.6 1109.2,511.4 1109.6,525.2 1110.1,556.3 1110.5,558.9 1111,534.1 1111.4,507.8 1111.8,502.6 1112.3,519.5 1112.7,521.9 1113.2,560.1 1113.6,540.3 1114.1,537.6 1114.5,546.7 1115,547.6 1115.4,521.2 1115.9,520.1 1116.3,546.5 1116.7,526.3 1117.2,522.8 1117.6,511 1118.1,548.7 1118.5,510.3 1119,508.4 1119.4,526.1 1119.9,507.8 1120.3,497.9 1120.7,503.9 1121.2,528.6 1121.6,506.3 1122.1,527.4 1122.5,539.4 1123,534.1 1123.4,502.4 1123.9,519.3 1124.3,532.4 1124.8,516.2 1125.2,512.9 1125.6,526 1126.1,535.9 1126.5,522.6 1127,552.8 1127.4,501.8 1127.9,512.5 1128.3,521.9 1128.8,538.4 1129.2,587.9 1129.7,500.8 1130.1,512 1130.5,523.8 1131,557.5 1131.4,535.1 1131.9,530 1132.3,521.4 1132.8,502.6 1133.2,529 1133.7,564.7 1134.1,518.3 1134.5,516.3 1135,524 1135.4,497.7 1135.9,538.1 1136.3,546.5 1136.8,553.2 1137.2,523 1137.7,531.6 1138.1,535.5 1138.6,521.7 1139,535.4 1139.4,519.9 1139.9,489.7 1140.3,545.2 1140.8,521 1141.2,559.3 1141.7,534.7 1142.1,519.8 1142.6,519.3 1143,561.9 1143.5,537.1 1143.9,525 1144.3,512.3 1144.8,518.2 1145.2,508.5 1145.7,530.8 1146.1,521.7 1146.6,534.5 1147,524.6 1147.5,530.8 1147.9,521.2 1148.4,523.7 1148.8,516.7 1149.2,523.5 1149.7,533.7 1150.1,564.7 1150.6,546.7 1151,518.1 1151.5,506.3 1151.9,494.6 1152.4,567.6 1152.8,514 1153.2,537.6 1153.7,506.4 1154.1,510.3 1154.6,542.4 1155,547 1155.5,554.9 1155.9,520.7 1156.4,513.5 1156.8,519 1157.3,529.4 1157.7,531.3 1158.1,500 1158.6,519.1 1159,524.8 1159.5,509.9 1159.9,511.7 1160.4,536.7 1160.8,520.2 1161.3,578 1161.7,547 1162.2,554.9 1162.6,505.4 1163,524.1 1163.5,518.3 1163.9,568.1 1164.4,533.3 1164.8,518.8 1165.3,509.9 1165.7,515.4 1166.2,516.9 1166.6,547.4 1167,512.9 1167.5,582.3 1167.9,546.2 1168.4,541.8 1168.8,504.3 1169.3,555.8 1169.7,556.1 1170.2,535 1170.6,512.8 1171.1,507.3 1171.5,553.3 1171.9,534.5 1172.4,517.2 1172.8,514.7 1173.3,551 1173.7,513.3 1174.2,536.8 1174.6,542 1175.1,530.7 1175.5,515.8 1176,516.8 1176.4,528.6 1176.8,555.3 1177.3,551.9 1177.7,521.7 1178.2,508.2 1178.6,542.7 1179.1,526.3 1179.5,549.8 1180,553.8 1180.4,504.5 1180.9,507.3 1181.3,551.5 1181.7,557 1182.2,528.8 1182.6,565.2 1183.1,496.7 1183.5,516.6 1184,535.7 1184.4,560.6 1184.9,516.6 1185.3,513.4 1185.7,512.3 1186.2,508.6 1186.6,530.7 1187.1,489.6 1187.5,522.9 1188,544.5 1188.4,540.8 1188.9,522.1 1189.3,527.6 1189.8,504.4 1190.2,528 1190.6,496.1 1191.1,509.1 1191.5,529.9 1192,529.1 1192.4,565.6 1192.9,541.7 1193.3,533.5 1193.8,544.1 1194.2,541.3 1194.7,505.9 1195.1,485.7 1195.5,549.5 1196,512.1 1196.4,510.6 1196.9,514.1 1197.3,518.1 1197.8,527.3 1198.2,524 1198.7,521.2 1199.1,494.5 1199.5,552.3 1200,509 1200.4,529.7 1200.9,502.6 1201.3,529.4 1201.8,541.7 1202.2,572 1202.7,542.2 1203.1,538.7 1203.6,538.6 1204,549 1204.4,511.5 1204.9,520.4 1205.3,529.4 1205.8,552.9 1206.2,514.9 1206.7,568.4 1207.1,518.4 1207.6,508.3 1208,517.7 1208.5,516.8 1208.9,511.9 1209.3,525.5 1209.8,539.9 1210.2,539.3 1210.7,537.5 1211.1,525.6 1211.6,548.3 1212,518.1 1212.5,498.6 1212.9,512.1 1213.4,522.4 1213.8,530.6 1214.2,522.5 1214.7,529.9 1215.1,516.6 1215.6,529 1216,556.2 1216.5,541.1 1216.9,525.2 1217.4,509.9 1217.8,510.9 1218.2,530.9 1218.7,541.5 1219.1,527.9 1219.6,506.2 1220,552.9 1220.5,572 1220.9,511.7 1221.4,498.9 1221.8,543.2 1222.3,507.6 1222.7,510.5" fill="none" stroke="#5a80c0" stroke-width="3.4" stroke-linejoin="round" stroke-linecap="round" clip-path="url(#c3)"/>
<polyline points="688.9,399.3 689.3,393.1 689.6,368.6 690,398.8 690.3,394.6 690.7,384.4 691,390.4 691.4,396.3 691.7,369.2 692.1,393.1 692.5,383 692.8,391.1 693.2,389 693.5,401.6 693.9,376.2 694.2,391 694.6,372.2 695,399 695.3,391.4 695.7,380.7 696,384.7 696.4,393.1 696.7,387.3 697.1,400 697.4,385 697.8,411.7 698.2,383.6 698.5,370.5 698.9,375.5 699.2,375.9 699.6,389.8 699.9,379.7 700.3,389.5 700.7,386 701,386 701.4,410.9 701.7,374.6 702.1,379.7 702.4,375.3 702.8,395 703.1,376.8 703.5,379.1 703.9,408.9 704.2,403.7 704.6,383.6 704.9,391.4 705.3,384.2 705.6,391 706,367.4 706.3,404.7 706.7,398.7 707.1,394.4 707.4,398.6 707.8,389.9 708.1,383.8 708.5,398.1 708.8,379.3 709.2,368.7 709.6,371.1 709.9,360.9 710.3,370.5 710.6,383.2 711,363.2 711.3,375 711.7,362 712,384.7 712.4,405.7 712.8,395.3 713.1,380.4 713.5,376.2 713.8,384.4 714.2,371.1 714.5,394.7 714.9,389.7 715.3,371 715.6,381.2 716,380.7 716.3,366.2 716.7,369.6 717,390.4 717.4,379.4 717.7,400.3 718.1,381.7 718.5,377.2 718.8,400.6 719.2,364.2 719.5,359.4 719.9,375.9 720.2,371.1 720.6,364.7 720.9,383.1 721.3,369.7 721.7,376.9 722,398 722.4,391 722.7,387.3 723.1,369.2 723.4,379.9 723.8,370.1 724.2,386.1 724.5,394.9 724.9,358.1 725.2,357.9 725.6,376.5 725.9,382.9 726.3,367.6 726.6,392.9 727,382.9 727.4,396.4 727.7,375.2 728.1,377.8 728.4,384.9 728.8,387.6 729.1,397.2 729.5,389.5 729.9,366.8 730.2,384.2 730.6,366.4 730.9,389.8 731.3,381.1 731.6,385.3 732,383.1 732.3,371.7 732.7,402.7 733.1,371.9 733.4,372.4 733.8,380 734.1,379.1 734.5,382.4 734.8,372.3 735.2,379.3 735.5,389.2 735.9,378.2 736.3,369.3 736.6,375.7 737,379.4 737.3,377.4 737.7,385.1 738,384.7 738.4,400.3 738.8,381.6 739.1,368.7 739.5,383.8 739.8,389.4 740.2,369.6 740.5,377.6 740.9,377.8 741.2,374.2 741.6,371.6 742,379.8 742.3,388.4 742.7,360.2 743,378.7 743.4,387.8 743.7,377.3 744.1,366.3 744.5,394.9 744.8,365 745.2,380.9 745.5,357.5 745.9,372.1 746.2,380.6 746.6,365.7 746.9,365.5 747.3,383.3 747.7,376.9 748,385.2 748.4,369.5 748.7,394.9 749.1,381.5 749.4,402.9 749.8,373.1 750.1,404 750.5,391.2 750.9,376.7 751.2,383.5 751.6,384.5 751.9,390.2 752.3,384.8 752.6,398.9 753,376.2 753.4,370.9 753.7,371.4 754.1,380.2 754.4,366.4 754.8,374.7 755.1,369.4 755.5,375.5 755.8,379.5 756.2,388.2 756.6,406.2 756.9,372.9 757.3,381.2 757.6,358.2 758,401.6 758.3,370.8 758.7,390.3 759.1,380 759.4,389.7 759.8,376.2 760.1,380.4 760.5,370.5 760.8,378.5 761.2,374.9 761.5,366.2 761.9,374.5 762.3,381.6 762.6,366.6 763,381.4 763.3,375.7 763.7,383.7 764,387.4 764.4,406.6 764.8,372.7 765.1,392.8 765.5,372.2 765.8,360.6 766.2,394.6 766.5,370.7 766.9,381.4 767.2,375.4 767.6,393.4 768,380 768.3,378.7 768.7,364.8 769,357.6 769.4,377 769.7,384.4 770.1,357.6 770.4,381.6 770.8,381.1 771.2,379.4 771.5,375.4 771.9,372.8 772.2,386.8 772.6,381.7 772.9,360.1 773.3,363.1 773.7,375.7 774,377.6 774.4,383.1 774.7,369.4 775.1,386.2 775.4,379.3 775.8,385.6 776.1,387.4 776.5,380.2 776.9,380.6 777.2,387 777.6,381.4 777.9,380 778.3,385.8 778.6,387.9 779,382.2 779.4,373.1 779.7,368.7 780.1,378.8 780.4,383.7 780.8,381.1 781.1,360 781.5,370.9 781.8,391.2 782.2,381.4 782.6,386.7 782.9,384.9 783.3,399.2 783.6,380.6 784,395.7 784.3,387.4 784.7,364.5 785,370.1 785.4,390.5 785.8,392.3 786.1,391 786.5,401.6 786.8,391.7 787.2,384 787.5,392.5 787.9,372.9 788.3,381.7 788.6,386.9 789,362.1 789.3,373.5 789.7,380.4 790,361.1 790.4,366.9 790.7,388.9 791.1,377.7 791.5,386 791.8,396.9 792.2,360.6 792.5,365 792.9,395.2 793.2,376 793.6,399.3 794,369.7 794.3,382 794.7,384.6 795,367.7 795.4,381.3 795.7,384.3 796.1,371.6 796.4,384.9 796.8,372.2 797.2,381.8 797.5,372.8 797.9,375.1 798.2,373.4 798.6,393.1 798.9,361.6 799.3,384 799.6,363.1 800,388.9 800.4,385.5 800.7,385.4 801.1,370 801.4,387.4 801.8,378.2 802.1,400.1 802.5,388.2 802.9,380.6 803.2,384.3 803.6,403.8 803.9,377.8 804.3,394 804.6,362.1 805,385.6 805.3,360.9 805.7,376.4 806.1,378.7 806.4,389.1 806.8,385.2 807.1,379 807.5,405.5 807.8,373.2 808.2,397.1 808.6,387.1 808.9,410.9 809.3,379.4 809.6,376.3 810,381.5 810.3,381.1 810.7,388.9 811,383.2 811.4,371.6 811.8,389.7 812.1,379.6 812.5,377.1 812.8,387.8 813.2,382.7 813.5,383 813.9,391 814.2,362.9 814.6,390.4 815,366.8 815.3,374 815.7,408.4 816,383.2 816.4,374.6 816.7,377.1 817.1,396.2 817.5,383.4 817.8,399.6 818.2,397.9 818.5,389.2 818.9,384.5 819.2,368.9 819.6,382.8 819.9,375.1 820.3,400.2 820.7,399.8 821,392.5 821.4,367.7 821.7,402.1 822.1,404.9 822.4,388.2 822.8,374.3 823.2,405.6 823.5,390.5 823.9,402.8 824.2,371.7 824.6,380.2 824.9,384.9 825.3,388.6 825.6,390.7 826,386.7 826.4,395.5 826.7,398.2 827.1,400.8 827.4,388.4 827.8,397.5 828.1,379 828.5,412.1 828.8,382.5 829.2,383 829.6,375.5 829.9,391.9 830.3,405.9 830.6,399.5 831,376.8 831.3,392.8 831.7,394.1 832.1,396.1 832.4,390.4 832.8,392.3 833.1,407.2 833.5,396.6 833.8,378.8 834.2,374 834.5,391.5 834.9,396 835.3,375.2 835.6,392.4 836,403.6 836.3,392 836.7,382.9 837,373.4 837.4,396.2 837.8,384.9 838.1,394.6 838.5,378.3 838.8,388.2 839.2,388.3 839.5,402.2 839.9,394.9 840.2,395 840.6,417.9 841,382.1 841.3,391.8 841.7,394.1 842,395.9 842.4,391.6 842.7,389.3 843.1,406.6 843.4,390.8 843.8,391 844.2,392 844.5,408.9 844.9,394 845.2,406.8 845.6,388.8 845.9,378.1 846.3,383.1 846.7,396.7 847,399 847.4,399.3 847.7,389.2 848.1,400.6 848.4,399.2 848.8,419.8 849.1,402.9 849.5,402.3 849.9,399.6 850.2,380.2 850.6,408.9 850.9,408.7 851.3,387.4 851.6,405.1 852,396.1 852.4,392.4 852.7,394.3 853.1,403.2 853.4,384.4 853.8,378.1 854.1,406 854.5,398 854.8,384.6 855.2,397.5 855.6,406.4 855.9,400.1 856.3,386.2 856.6,406.6 857,392.8 857.3,391.5 857.7,403.1 858,389.7 858.4,388.6 858.8,385.1 859.1,385.9 859.5,412.9 859.8,386.5 860.2,390.1 860.5,385.8 860.9,406.2 861.3,386.8 861.6,392.8 862,409.9 862.3,383 862.7,405.9 863,408.6 863.4,393 863.7,404.3 864.1,393.6 864.5,400.5 864.8,394.7 865.2,388.9 865.5,398.4 865.9,388.5 866.2,388.8 866.6,407.6 867,388.9 867.3,391.7 867.7,397.1 868,386.3 868.4,380.4 868.7,390.5 869.1,415.3 869.4,394.2 869.8,400.7 870.2,402.3 870.5,395.6 870.9,403.1 871.2,381.5 871.6,396.6 871.9,399.6 872.3,391.2 872.6,391.1 873,387 873.4,393.1 873.7,400.7 874.1,398.9 874.4,424.4 874.8,416.9 875.1,389.1 875.5,404.4 875.9,380.8 876.2,381 876.6,414.9 876.9,397.7 877.3,378.5 877.6,410.1 878,397.1 878.3,404.1 878.7,404.3 879.1,404.8 879.4,402 879.8,393.5 880.1,411 880.5,396.5 880.8,410.1 881.2,396.5 881.6,398.9 881.9,411.2 882.3,401.1 882.6,410.9 883,412.2 883.3,390 883.7,423.2 884,396.9 884.4,395.4 884.8,409.9 885.1,391.4 885.5,393.4 885.8,418 886.2,397.9 886.5,398.6 886.9,412.1 887.2,397.6 887.6,395.8 888,412.2 888.3,426.5 888.7,400 889,412.8 889.4,423.7 889.7,409 890.1,431.3 890.5,408.7 890.8,388.4 891.2,431.7 891.5,400.1 891.9,415.6 892.2,410 892.6,415.7 892.9,398.6 893.3,405.9 893.7,414.5 894,420.5 894.4,410.8 894.7,393.3 895.1,419.7 895.4,401.7 895.8,402.7 896.2,428.8 896.5,394.4 896.9,407.2 897.2,384.1 897.6,387.6 897.9,409.8 898.3,408.9 898.6,418.4 899,422.6 899.4,398.6 899.7,410.3 900.1,412.1 900.4,409.6 900.8,400.2 901.1,397.4 901.5,408 901.9,410.3 902.2,407.1 902.6,385.6 902.9,431.6 903.3,421.4 903.6,403.3 904,407.1 904.3,395 904.7,394.2 905.1,386.8 905.4,418 905.8,402.3 906.1,411.9 906.5,398.5 906.8,407.4 907.2,399.6 907.5,417.9 907.9,407.9 908.3,415.5 908.6,412.8 909,415.1 909.3,421.6 909.7,397.7 910,407 910.4,398.1 910.8,421.6 911.1,432.4 911.5,417.9 911.8,412.4 912.2,402 912.5,399.1 912.9,397.3 913.2,393.9 913.6,403 914,410 914.3,419.9 914.7,403.8 915,417.2 915.4,420.7 915.7,405.2 916.1,409.4 916.5,402.3 916.8,420.1 917.2,399 917.5,408.2 917.9,414.2 918.2,420.9 918.6,424.6 918.9,427.9 919.3,397 919.7,428.7 920,405.8 920.4,415.8 920.7,419.5 921.1,418.5 921.4,414.3 921.8,403.2 922.1,407.1 922.5,413.6 922.9,429 923.2,433.7 923.6,392.9 923.9,425.2 924.3,431.6 924.6,401.5 925,431.1 925.4,406 925.7,403.9 926.1,411.7 926.4,403.8 926.8,430.3 927.1,428.5 927.5,417.1 927.8,415 928.2,416 928.6,409.9 928.9,423.6 929.3,439.3 929.6,410.9 930,418.1 930.3,406.5 930.7,393.1 931.1,414.9 931.4,409.4 931.8,426.1 932.1,405.9 932.5,412.4 932.8,413.5 933.2,406.1 933.5,429.2 933.9,410.3 934.3,411.6 934.6,399 935,437.2 935.3,418 935.7,394.5 936,421.8 936.4,422.2 936.7,397.3 937.1,394.8 937.5,416.3 937.8,425.7 938.2,424.4 938.5,422.3 938.9,427.4 939.2,427.1 939.6,416.2 940,417.8 940.3,413 940.7,418.1 941,432.1 941.4,410.3 941.7,416 942.1,425.4 942.4,422 942.8,415.4 943.2,418.2 943.5,420.7 943.9,410.7 944.2,407.4 944.6,423 944.9,419.8 945.3,432.1 945.7,421.7 946,414.5 946.4,410.3 946.7,418.2 947.1,421.1 947.4,428.3 947.8,417.9 948.1,432.7 948.5,419.1 948.9,420.4 949.2,430.9 949.6,417.1 949.9,423.3 950.3,414.3 950.6,426.5 951,415.8 951.3,403.8 951.7,419.4 952.1,412.6 952.4,428.8 952.8,425.6 953.1,443 953.5,423.6 953.8,434.6 954.2,420.8 954.6,445.3 954.9,431.9 955.3,421.4 955.6,418.1 956,441.1 956.3,427.3 956.7,400.1 957,414.1 957.4,421.3 957.8,449.7 958.1,433.6 958.5,417.6 958.8,420.9 959.2,418.6 959.5,413.1 959.9,422.8 960.3,414.5 960.6,444.2 961,401.6 961.3,427.7 961.7,431.8 962,407.8 962.4,418 962.7,414 963.1,432 963.5,422 963.8,417.3 964.2,438.1 964.5,428 964.9,428.4 965.2,429 965.6,433.7 965.9,440.1 966.3,421.3 966.7,423.5 967,413.4 967.4,427.3 967.7,434.1 968.1,443 968.4,425.9 968.8,430.5 969.2,404.6 969.5,404.5 969.9,409.7 970.2,437.6 970.6,443.2 970.9,430.4 971.3,437.9 971.6,412.1 972,426.8 972.4,432.8 972.7,428.5 973.1,414.4 973.4,439.2 973.8,423.2 974.1,443.6 974.5,431.3 974.9,436.5 975.2,425.7 975.6,427.6 975.9,416 976.3,421.9 976.6,436.4 977,444.6 977.3,439 977.7,434.8 978.1,432.7 978.4,438.8 978.8,418.3 979.1,420.1 979.5,433.7 979.8,436.3 980.2,433.6 980.5,431.5 980.9,431.4 981.3,449.4 981.6,436.2 982,452.5 982.3,431.2 982.7,424.2 983,443.8 983.4,430.2 983.8,439 984.1,440 984.5,410.4 984.8,422.5 985.2,427.2 985.5,437.6 985.9,428.3 986.2,435.1 986.6,428 987,443.3 987.3,434.2 987.7,437.9 988,449.4 988.4,414.8 988.7,424.7 989.1,442.8 989.5,450.5 989.8,442.3 990.2,443.7 990.5,441.3 990.9,451.5 991.2,444 991.6,434.1 991.9,430.3 992.3,457.3 992.7,435.2 993,446.4 993.4,447.1 993.7,439.1 994.1,443.4 994.4,428 994.8,428.1 995.1,439.5 995.5,443.4 995.9,416.2 996.2,415.4 996.6,432.2 996.9,438.4 997.3,425.4 997.6,420.6 998,442.9 998.4,416.8 998.7,439 999.1,425.1 999.4,443.3 999.8,436.9 1000.1,442.9 1000.5,437.6 1000.8,426.5 1001.2,448.2 1001.6,441.6 1001.9,432.2 1002.3,443.7 1002.6,415.7 1003,455.2 1003.3,416 1003.7,446.4 1004.1,428.1 1004.4,421 1004.8,433.3 1005.1,455.4 1005.5,443.3 1005.8,438.9 1006.2,433.4 1006.5,428.8 1006.9,427.3 1007.3,423.5 1007.6,451.1 1008,429.2 1008.3,460.3 1008.7,439 1009,452.9 1009.4,461.1 1009.7,430.7 1010.1,441.6 1010.5,430.2 1010.8,459.5 1011.2,455.6 1011.5,443.1 1011.9,449.7 1012.2,441.5 1012.6,449.5 1013,446.5 1013.3,455.8 1013.7,428.4 1014,446.7 1014.4,456.7 1014.7,435.7 1015.1,438.1 1015.4,441.3 1015.8,441.4 1016.2,448.6 1016.5,445.8 1016.9,469.6 1017.2,462.3 1017.6,458.8 1017.9,441.7 1018.3,431.3 1018.7,447.2 1019,448.5 1019.4,432.8 1019.7,450 1020.1,438.5 1020.4,441.3 1020.8,461.4 1021.1,442.9 1021.5,444.3 1021.9,459.9 1022.2,458.8 1022.6,461.6 1022.9,431.7 1023.3,424.6 1023.6,439.6 1024,430 1024.4,463.3 1024.7,432.2 1025.1,425.9 1025.4,430.1 1025.8,459.4 1026.1,436.5 1026.5,450.3 1026.8,436.9 1027.2,456.7 1027.6,449.4 1027.9,456.2 1028.3,444.4 1028.6,451.2 1029,437.5 1029.3,441 1029.7,445.8 1030,451.1 1030.4,454.3 1030.8,451 1031.1,442.6 1031.5,449.9 1031.8,448.2 1032.2,452.1 1032.5,452.7 1032.9,459.6 1033.3,473.6 1033.6,445.8 1034,446.2 1034.3,463.8 1034.7,431.1 1035,466.4 1035.4,441.8 1035.7,450.5 1036.1,450 1036.5,440.7 1036.8,443.4 1037.2,453.8 1037.5,466.3 1037.9,468.3 1038.2,452.4 1038.6,436.7 1039,444.9 1039.3,455.4 1039.7,451.5 1040,447.6 1040.4,436 1040.7,464.4 1041.1,447.6 1041.4,452.9 1041.8,464.9 1042.2,468 1042.5,442.1 1042.9,453 1043.2,459.3 1043.6,455.9 1043.9,446 1044.3,456.3 1044.6,439.3 1045,460.7 1045.4,466.9 1045.7,459.4 1046.1,469 1046.4,462.4 1046.8,444.6 1047.1,439.3 1047.5,451.7 1047.9,456.8 1048.2,469.6 1048.6,470.9 1048.9,455.4 1049.3,457.9 1049.6,466.6 1050,465.2 1050.3,442.5 1050.7,449.1 1051.1,460 1051.4,458.2 1051.8,446.4 1052.1,457 1052.5,458.6 1052.8,479.4 1053.2,480.9 1053.6,483.6 1053.9,487.7 1054.3,462.3 1054.6,458.5 1055,472.4 1055.3,457.6 1055.7,457.7 1056,463.9 1056.4,480 1056.8,446.8 1057.1,447.7 1057.5,470.2 1057.8,441.6 1058.2,463.4 1058.5,473.1 1058.9,469 1059.2,485.7 1059.6,468.6 1060,483.1 1060.3,452 1060.7,461.5 1061,481.2 1061.4,458.9 1061.7,485.3 1062.1,464 1062.5,460.5 1062.8,465.5 1063.2,479.4 1063.5,468 1063.9,469.1 1064.2,466.6 1064.6,450.6 1064.9,448.4 1065.3,450 1065.7,475.6 1066,477.2 1066.4,468.6 1066.7,464.2 1067.1,492.9 1067.4,476.7 1067.8,449.4 1068.2,484.4 1068.5,478.9 1068.9,478.8 1069.2,465.4 1069.6,472 1069.9,475.2 1070.3,489.2 1070.6,465.1 1071,472.3 1071.4,480.2 1071.7,472.6 1072.1,464.1 1072.4,490.3 1072.8,491.4 1073.1,485.6 1073.5,484.2 1073.8,500.8 1074.2,481.6 1074.6,462.2 1074.9,479 1075.3,463.8 1075.6,502.1 1076,477.3 1076.3,460.4 1076.7,458.5 1077.1,482.5 1077.4,486.5 1077.8,472.9 1078.1,491.5 1078.5,482 1078.8,497.3 1079.2,477.4 1079.5,478.6 1079.9,460.3 1080.3,475.1 1080.6,487 1081,480.8 1081.3,494.7 1081.7,479.8 1082,483 1082.4,475.9 1082.8,470.3 1083.1,504.2 1083.5,477.8 1083.8,473.4 1084.2,495.8 1084.5,460.6 1084.9,490.9 1085.2,460 1085.6,474.1 1086,472.3 1086.3,480.6 1086.7,472.3 1087,496.1 1087.4,493.7 1087.7,507.2 1088.1,478.8 1088.4,493.4 1088.8,476.9 1089.2,478.9 1089.5,501.4 1089.9,478.3 1090.2,483.6 1090.6,484.6 1090.9,481.9 1091.3,487.8 1091.7,487.6 1092,475.9 1092.4,499.7 1092.7,502.4 1093.1,497.6 1093.4,477.3 1093.8,493.2 1094.1,467.8 1094.5,516.3 1094.9,498.5 1095.2,495.7 1095.6,487.8 1095.9,475.8 1096.3,493.6 1096.6,503.4 1097,482.4 1097.4,474.5 1097.7,518.9 1098.1,486.2 1098.4,489.8 1098.8,503 1099.1,499.2 1099.5,490.7 1099.8,494 1100.2,497.4 1100.6,508.3 1100.9,491.9 1101.3,503.1 1101.6,494.7 1102,502.7 1102.3,494 1102.7,488 1103,494.2 1103.4,489.6 1103.8,513.3 1104.1,492.4 1104.5,494.7 1104.8,505.5 1105.2,500.5 1105.5,525.2 1105.9,498.2 1106.3,504.1 1106.6,525.7 1107,494.2 1107.3,507.6 1107.7,497.4 1108,503.6 1108.4,495.6 1108.7,500.4 1109.1,505 1109.5,496.4 1109.8,492.7 1110.2,528.6 1110.5,502.6 1110.9,510 1111.2,516.1 1111.6,488.8 1112,493 1112.3,516.2 1112.7,517.4 1113,495.5 1113.4,512.3 1113.7,509.2 1114.1,528.3 1114.4,507.6 1114.8,493.3 1115.2,511.9 1115.5,508.2 1115.9,487.2 1116.2,497.3 1116.6,491.2 1116.9,500.5 1117.3,494.1 1117.6,527.1 1118,517.6 1118.4,527.3 1118.7,485.6 1119.1,506.6 1119.4,510.3 1119.8,517.7 1120.1,520.8 1120.5,535.6 1120.9,486.6 1121.2,510.7 1121.6,509.2 1121.9,526.2 1122.3,510.9 1122.6,506.1 1123,511.5 1123.3,503.7 1123.7,520.5 1124.1,507.4 1124.4,501 1124.8,505 1125.1,507.2 1125.5,512.9 1125.8,523.2 1126.2,505.8 1126.6,516.7 1126.9,523.2 1127.3,503.8 1127.6,531.2 1128,519.3 1128.3,504.2 1128.7,502.4 1129,517.7 1129.4,512.9 1129.8,507.6 1130.1,514.7 1130.5,522.9 1130.8,509.3 1131.2,512.6 1131.5,513.4 1131.9,502 1132.2,511.4 1132.6,520.4 1133,513.4 1133.3,493.2 1133.7,523.8 1134,518.8 1134.4,525.1 1134.7,512.1 1135.1,530.7 1135.5,511.4 1135.8,507.9 1136.2,525.7 1136.5,526.7 1136.9,534.2 1137.2,516.8 1137.6,530.3 1137.9,524.8 1138.3,522.6 1138.7,525.9 1139,508.6 1139.4,500.1 1139.7,542.9 1140.1,528 1140.4,516 1140.8,531 1141.2,525.3 1141.5,516.9 1141.9,503.6 1142.2,506.2 1142.6,523.2 1142.9,518.4 1143.3,524.1 1143.6,522 1144,533.5 1144.4,540.4 1144.7,524.4 1145.1,509 1145.4,511.5 1145.8,541.7 1146.1,522.6 1146.5,527.6 1146.8,517.2 1147.2,533.1 1147.6,510.1 1147.9,523 1148.3,514.1 1148.6,510.7 1149,543 1149.3,523.3 1149.7,503.6 1150.1,520.7 1150.4,509 1150.8,516.2 1151.1,526.8 1151.5,517.9 1151.8,509.2 1152.2,506.5 1152.5,504.7 1152.9,534 1153.3,511.9 1153.6,537.2 1154,523 1154.3,523.9 1154.7,514.4 1155,518.1 1155.4,507.4 1155.8,528.8 1156.1,512.2 1156.5,517.4 1156.8,521.9 1157.2,535.7 1157.5,515.5 1157.9,518.5 1158.2,513.1 1158.6,522.6 1159,525.2 1159.3,517.8 1159.7,517 1160,514.5 1160.4,500.8 1160.7,529.5 1161.1,499.6 1161.5,548.9 1161.8,511.7 1162.2,532.1 1162.5,499.8 1162.9,532.9 1163.2,510.7 1163.6,534.2 1163.9,535.9 1164.3,513.8 1164.7,513.1 1165,531.1 1165.4,500.2 1165.7,526.9 1166.1,505.4 1166.4,534.9 1166.8,534.4 1167.1,522.4 1167.5,535 1167.9,518.3 1168.2,548.1 1168.6,521.6 1168.9,530.1 1169.3,534.7 1169.6,521.3 1170,526.3 1170.4,528.9 1170.7,514.5 1171.1,520.4 1171.4,519.4 1171.8,508.6 1172.1,524.6 1172.5,514.2 1172.8,528.5 1173.2,516.8 1173.6,517.7 1173.9,530 1174.3,541 1174.6,538.3 1175,534.5 1175.3,517.4 1175.7,525.3 1176.1,527.1 1176.4,518.3 1176.8,515.4 1177.1,507.9 1177.5,530.5 1177.8,517.5 1178.2,515.7 1178.5,534.6 1178.9,522.3 1179.3,534.2 1179.6,526.3 1180,518.9 1180.3,543.1 1180.7,533.7 1181,532.9 1181.4,522.7 1181.7,532.1 1182.1,519.5 1182.5,533.5 1182.8,529.6 1183.2,516.9 1183.5,520.1 1183.9,522 1184.2,524.2 1184.6,512.3 1185,508.1 1185.3,528 1185.7,532 1186,535.6 1186.4,504 1186.7,533.9 1187.1,538.8 1187.4,520.7 1187.8,511.8 1188.2,537.8 1188.5,525.2 1188.9,540.1 1189.2,531.7 1189.6,505.2 1189.9,521.8 1190.3,526.7 1190.7,522.9 1191,520.5 1191.4,524.9 1191.7,537.3 1192.1,537.2 1192.4,500.9 1192.8,532.4 1193.1,510.1 1193.5,531.9 1193.9,508.9 1194.2,515.8 1194.6,526.1 1194.9,500.9 1195.3,534.4 1195.6,526.4 1196,533.5 1196.3,532.6 1196.7,527.9 1197.1,534.6 1197.4,527.4 1197.8,505.8 1198.1,543.5 1198.5,538 1198.8,534.6 1199.2,529 1199.6,512.2 1199.9,515.5 1200.3,518.3 1200.6,521.4 1201,500.8 1201.3,536.5 1201.7,536.8 1202,524 1202.4,521.4 1202.8,526.4 1203.1,533.3 1203.5,538.6 1203.8,526.9 1204.2,531.8 1204.5,529.2 1204.9,536 1205.3,508.5 1205.6,518.6 1206,502.7 1206.3,529.6 1206.7,523.1 1207,526.6 1207.4,523.5 1207.7,526.6 1208.1,525.6 1208.5,546.1 1208.8,526.8 1209.2,515.9 1209.5,545.9 1209.9,527.7 1210.2,517.2 1210.6,509.3 1210.9,524.7 1211.3,518.5 1211.7,503.8 1212,509 1212.4,528.9 1212.7,530.6 1213.1,512.1 1213.4,521.2 1213.8,529.9 1214.2,526.4 1214.5,520.1 1214.9,526 1215.2,526.6 1215.6,526.4 1215.9,540.7 1216.3,504 1216.6,509.9 1217,506.5 1217.4,525.3 1217.7,522.3 1218.1,517.2 1218.4,514.4 1218.8,544.5 1219.1,519.7 1219.5,535.1 1219.9,524.5 1220.2,531.3 1220.6,504.4 1220.9,517.6 1221.3,524 1221.6,507.9 1222,524.5 1222.3,532 1222.7,525.8" fill="none" stroke="#3289c9" stroke-width="3.0" stroke-linejoin="round" stroke-linecap="round" clip-path="url(#c3)"/>
<polyline points="688.9,384.2 689.1,378.6 689.2,368.1 689.4,380.8 689.6,380.1 689.7,365.7 689.9,375.3 690.1,366.5 690.2,377.3 690.4,396.4 690.6,394 690.7,401.1 690.9,363.8 691.1,373.5 691.2,385.3 691.4,392.1 691.6,374.1 691.7,380.6 691.9,374.6 692.1,390.1 692.2,393.6 692.4,357.9 692.6,391.4 692.7,379 692.9,360.9 693.1,403.1 693.2,369.3 693.4,377.7 693.6,380.5 693.7,375 693.9,394.3 694.1,408.1 694.2,353.4 694.4,382.3 694.6,366.6 694.7,363.7 694.9,374.6 695.1,372.3 695.2,368.9 695.4,357.4 695.6,371.8 695.7,361.5 695.9,382.1 696.1,383.8 696.2,377.1 696.4,372.9 696.6,371 696.7,352.3 696.9,366.9 697.1,377.2 697.2,351.6 697.4,373.6 697.6,373.2 697.7,371.4 697.9,382.3 698.1,392.4 698.2,376.1 698.4,382 698.6,389.3 698.7,376.2 698.9,380.4 699.1,385.6 699.2,401.3 699.4,379.9 699.6,354.3 699.7,365.9 699.9,363.3 700.1,377.9 700.2,363.6 700.4,386.5 700.6,383.6 700.7,370.6 700.9,396.4 701.1,376.7 701.2,373.4 701.4,355 701.6,386.7 701.7,371.8 701.9,386 702.1,384.5 702.2,408.2 702.4,389.7 702.6,362 702.7,370.3 702.9,375.1 703.1,350.4 703.3,369.9 703.4,393.5 703.6,379.8 703.8,377.8 703.9,355.7 704.1,388.9 704.3,371.4 704.4,364 704.6,387.7 704.8,375.7 704.9,403.5 705.1,375.5 705.3,406 705.4,381.9 705.6,353.9 705.8,371.3 705.9,376 706.1,374.7 706.3,349.9 706.4,369.3 706.6,362.8 706.8,382.4 706.9,382.3 707.1,390.4 707.3,378.8 707.4,385.7 707.6,363.4 707.8,367.9 707.9,378 708.1,383.6 708.3,407.3 708.4,384.2 708.6,372.3 708.8,367.5 708.9,407.2 709.1,407.2 709.3,374.1 709.4,389.9 709.6,379 709.8,382.4 709.9,368.3 710.1,400.7 710.3,383.6 710.4,363.5 710.6,373.3 710.8,387 710.9,370 711.1,372.2 711.3,387.7 711.4,366.7 711.6,366.9 711.8,377.6 711.9,363.3 712.1,391.3 712.3,365.6 712.4,378.3 712.6,388.2 712.8,383.6 712.9,360.2 713.1,383 713.3,380.2 713.4,384.3 713.6,386.1 713.8,362.8 713.9,348.8 714.1,357.7 714.3,368.7 714.4,365.4 714.6,380 714.8,382 714.9,390.9 715.1,356.2 715.3,379.8 715.4,384.8 715.6,383.7 715.8,372.7 715.9,382.5 716.1,375 716.3,373.1 716.4,357.5 716.6,391.7 716.8,371.3 716.9,384.5 717.1,380.9 717.3,353.8 717.4,367 717.6,380.4 717.8,368.7 717.9,375.5 718.1,360.5 718.3,381.7 718.4,368.8 718.6,378 718.8,375.1 718.9,377.3 719.1,383.5 719.3,373.8 719.4,362.2 719.6,383.3 719.8,380.4 719.9,370.4 720.1,385.2 720.3,363.7 720.4,365.9 720.6,405.6 720.8,383.9 720.9,389.5 721.1,364.3 721.3,362.8 721.4,391.1 721.6,384.3 721.8,376.3 721.9,380.1 722.1,365.7 722.3,362.3 722.4,367.4 722.6,360.8 722.8,362.8 722.9,376.2 723.1,381 723.3,385 723.4,364.4 723.6,363.4 723.8,361.8 723.9,379.5 724.1,380.4 724.3,371.7 724.4,358.6 724.6,370.5 724.8,372.2 724.9,386.1 725.1,369.3 725.3,368.1 725.4,387.7 725.6,352 725.8,387.3 725.9,362.9 726.1,377.9 726.3,373 726.4,385.6 726.6,382.6 726.8,365.9 726.9,377.7 727.1,379.7 727.3,363.4 727.4,365.7 727.6,373 727.8,372.1 727.9,352.4 728.1,377.4 728.3,370 728.4,369.5 728.6,393.7 728.8,400.7 728.9,373.5 729.1,363.7 729.3,372.5 729.4,382.2 729.6,383.8 729.8,364.4 729.9,379.1 730.1,396.4 730.3,366.2 730.4,372 730.6,370.1 730.8,361.4 730.9,357.7 731.1,367.8 731.3,377.5 731.5,403.1 731.6,371.2 731.8,377.1 732,357.7 732.1,358.3 732.3,368.9 732.5,357.1 732.6,376.1 732.8,375.7 733,386.3 733.1,379.3 733.3,372.4 733.5,361.2 733.6,384.9 733.8,364.6 734,348.5 734.1,392.9 734.3,378.6 734.5,374.9 734.6,361.9 734.8,348.9 735,358.9 735.1,375.7 735.3,386.4 735.5,375.9 735.6,375.7 735.8,372 736,387 736.1,355 736.3,384.7 736.5,366.2 736.6,372.3 736.8,389.7 737,374.3 737.1,374.9 737.3,377.7 737.5,364.5 737.6,381.5 737.8,348.5 738,360.3 738.1,387.3 738.3,406.2 738.5,358.6 738.6,371.9 738.8,374.1 739,388.1 739.1,394.3 739.3,399.9 739.5,348.5 739.6,354 739.8,382.5 740,350.4 740.1,399.8 740.3,366 740.5,365.9 740.6,386.6 740.8,381.3 741,389.1 741.1,374.7 741.3,357.8 741.5,362 741.6,369.7 741.8,360.4 742,398.9 742.1,348.5 742.3,375.9 742.5,392.7 742.6,380.3 742.8,383.9 743,374 743.1,371 743.3,406.1 743.5,358.4 743.6,352.2 743.8,388.9 744,355.5 744.1,358.4 744.3,361.6 744.5,353.4 744.6,393.6 744.8,365.4 745,388.6 745.1,348.3 745.3,388 745.5,391.4 745.6,360.1 745.8,366.7 746,374.6 746.1,373.2 746.3,366.8 746.5,351.9 746.6,384.5 746.8,382.4 747,382.7 747.1,375.9 747.3,374.8 747.5,392.1 747.6,370.9 747.8,391.8 748,379 748.1,378.2 748.3,378.1 748.5,355 748.6,352.9 748.8,360.4 749,353.6 749.1,378.6 749.3,356 749.5,375.5 749.6,371.7 749.8,371.1 750,392.6 750.1,382.9 750.3,376.9 750.5,369.8 750.6,376.4 750.8,386.1 751,390.2 751.1,374.5 751.3,390.5 751.5,390.4 751.6,376 751.8,372.2 752,385.7 752.1,398.5 752.3,370.8 752.5,363.6 752.6,380 752.8,379.6 753,405.4 753.1,362.4 753.3,389.2 753.5,364.9 753.6,382.4 753.8,376.4 754,377 754.1,398.6 754.3,347.6 754.5,395.4 754.6,373 754.8,385.3 755,377.6 755.1,355.9 755.3,399.4 755.5,376.3 755.6,367.7 755.8,372.7 756,369 756.1,384.4 756.3,396.3 756.5,391.9 756.6,379.8 756.8,364.3 757,373.2 757.1,352.7 757.3,372.9 757.5,371.6 757.6,371.5 757.8,397.4 758,366.5 758.1,389.1 758.3,379.3 758.5,347.3 758.6,390.7 758.8,372.5 759,370.2 759.2,372.4 759.3,374 759.5,381.6 759.7,347.3 759.8,401 760,387.8 760.2,354.1 760.3,366.6 760.5,384.3 760.7,386 760.8,377.3 761,347.1 761.2,367.3 761.3,387.8 761.5,370.7 761.7,382.3 761.8,353.8 762,369.9 762.2,357 762.3,371.7 762.5,347 762.7,368.3 762.8,370.1 763,387.5 763.2,379.5 763.3,368.6 763.5,380.4 763.7,346.9 763.8,373.9 764,384 764.2,360.5 764.3,380.8 764.5,368.2 764.7,374.9 764.8,383.3 765,355 765.2,372.4 765.3,359 765.5,378.2 765.7,392.8 765.8,390.3 766,380.5 766.2,376 766.3,372.8 766.5,366.7 766.7,390.2 766.8,370.5 767,389.9 767.2,382.7 767.3,346.7 767.5,356.4 767.7,378.3 767.8,349.4 768,354.4 768.2,361.5 768.3,353.7 768.5,376.7 768.7,375.1 768.8,384.9 769,365.5 769.2,390.2 769.3,380.1 769.5,367.2 769.7,380.1 769.8,368.7 770,348.8 770.2,386.5 770.3,354.4 770.5,382.4 770.7,385.8 770.8,370.2 771,359.4 771.2,382.8 771.3,383 771.5,379.1 771.7,382.8 771.8,370.6 772,382.7 772.2,376.6 772.3,368.4 772.5,378.7 772.7,357.6 772.8,382.2 773,383.4 773.2,346.2 773.3,352.8 773.5,372.1 773.7,361.9 773.8,368.4 774,379.8 774.2,363.9 774.3,368.9 774.5,355.8 774.7,397.7 774.8,362.1 775,370.7 775.2,382.1 775.3,378.7 775.5,378.3 775.7,390.6 775.8,380.6 776,362.4 776.2,393.2 776.3,377.9 776.5,403.7 776.7,380.5 776.8,367.5 777,373.5 777.2,372.2 777.3,387.8 777.5,365.1 777.7,384.8 777.8,360.5 778,369.9 778.2,377.8 778.3,352.7 778.5,378 778.7,358.9 778.8,371.2 779,372.6 779.2,359.2 779.3,366.7 779.5,372.7 779.7,374.2 779.8,369.7 780,371.4 780.2,376.9 780.3,386.4 780.5,403.4 780.7,374 780.8,375.7 781,356.2 781.2,366.4 781.3,357.1 781.5,349.1 781.7,373.9 781.8,383.7 782,361.4 782.2,380.4 782.3,375.8 782.5,353 782.7,364.9 782.8,357.6 783,390.4 783.2,371.8 783.3,357.3 783.5,389.5 783.7,369.6 783.8,366.8 784,403.1 784.2,350.8 784.3,381.8 784.5,374 784.7,349.7 784.8,396.2 785,365.9 785.2,378.1 785.3,371.5 785.5,383.1 785.7,353.8 785.8,387.1 786,367.2 786.2,364.8 786.3,373.3 786.5,375.7 786.7,375.6 786.8,358.3 787,365.9 787.2,373.1 787.4,386.6 787.5,369.8 787.7,364.8 787.9,372.4 788,352.6 788.2,397.5 788.4,345.1 788.5,374.3 788.7,387.2 788.9,395.3 789,360.2 789.2,364.1 789.4,374.7 789.5,372.5 789.7,369.5 789.9,377.5 790,356.3 790.2,363.4 790.4,373.3 790.5,393.7 790.7,353.3 790.9,378.1 791,385.6 791.2,354.4 791.4,365 791.5,398.7 791.7,393.9 791.9,376.9 792,388.5 792.2,373.7 792.4,344.8 792.5,344.8 792.7,372.1 792.9,360.8 793,359.6 793.2,373.1 793.4,391.3 793.5,357 793.7,373.8 793.9,365.3 794,361.9 794.2,382.3 794.4,348.7 794.5,370.4 794.7,368.3 794.9,377.2 795,361.8 795.2,357.7 795.4,378.8 795.5,363.4 795.7,377.1 795.9,387.8 796,375.7 796.2,363.1 796.4,363.8 796.5,356.7 796.7,380.3 796.9,375.2 797,370.2 797.2,362.8 797.4,372.7 797.5,383.9 797.7,391.9 797.9,355.2 798,356.7 798.2,380 798.4,351.2 798.5,371.9 798.7,364.9 798.9,354 799,377.4 799.2,381.4 799.4,394.3 799.5,366.8 799.7,364.9 799.9,359.3 800,362.8 800.2,369.5 800.4,355.4 800.5,384.6 800.7,365.6 800.9,363.9 801,372.4 801.2,347.5 801.4,364.9 801.5,352.6 801.7,358.7 801.9,373.1 802,344.7 802.2,355.8 802.4,370.4 802.5,372.3 802.7,384.6 802.9,372.7 803,373.8 803.2,367.8 803.4,376.3 803.5,362.9 803.7,371.7 803.9,391.9 804,377.4 804.2,382.7 804.4,387.7 804.5,373.9 804.7,358.2 804.9,385.6 805,397.5 805.2,372.6 805.4,343.8 805.5,378.4 805.7,366.8 805.9,376 806,358.8 806.2,351 806.4,372.5 806.5,354.4 806.7,384.9 806.9,367.5 807,387.4 807.2,367.8 807.4,378.5 807.5,367 807.7,385.3 807.9,367.1 808,368.7 808.2,377.9 808.4,381 808.5,386.1 808.7,375.5 808.9,364.7 809,371.9 809.2,368 809.4,353 809.5,374.4 809.7,366.1 809.9,358.9 810,363.1 810.2,364.8 810.4,368.9 810.5,344 810.7,371 810.9,375.2 811,362 811.2,347.9 811.4,350.8 811.5,369.5 811.7,358.7 811.9,363.1 812,368.8 812.2,361 812.4,361.5 812.5,367.9 812.7,346.6 812.9,374.9 813,351 813.2,343.3 813.4,343.3 813.5,366.1 813.7,372.2 813.9,391.2 814,370.5 814.2,343.2 814.4,390.8 814.5,390.5 814.7,358.4 814.9,361.3 815,394.2 815.2,370.4 815.4,365 815.6,390 815.7,356.6 815.9,387.4 816.1,354.3 816.2,366.8 816.4,378.9 816.6,391.2 816.7,374.1 816.9,370.8 817.1,371.2 817.2,377.5 817.4,372.3 817.6,357.7 817.7,381.7 817.9,372.2 818.1,363.2 818.2,369.7 818.4,357.8 818.6,348.5 818.7,374.1 818.9,366.5 819.1,400.5 819.2,374 819.4,360.3 819.6,384.4 819.7,351.4 819.9,394.7 820.1,351.1 820.2,376.2 820.4,383 820.6,375.8 820.7,372.9 820.9,382.9 821.1,387.8 821.2,376.3 821.4,356.5 821.6,363.8 821.7,351.1 821.9,377.4 822.1,374 822.2,373.7 822.4,367.2 822.6,363 822.7,345.5 822.9,359.7 823.1,366.9 823.2,350.9 823.4,379.7 823.6,386.8 823.7,360.1 823.9,366.8 824.1,367.5 824.2,356.5 824.4,373.6 824.6,370.6 824.7,363.9 824.9,360.3 825.1,355.8 825.2,367.4 825.4,365.4 825.6,400 825.7,352.5 825.9,390.1 826.1,369.6 826.2,342.3 826.4,373.4 826.6,390.2 826.7,347.2 826.9,376.4 827.1,371.1 827.2,371.1 827.4,359 827.6,358.4 827.7,370.5 827.9,353.9 828.1,381 828.2,359.8 828.4,377.2 828.6,359.4 828.7,377.8 828.9,374.7 829.1,349 829.2,383.9 829.4,384.6 829.6,361.1 829.7,372.4 829.9,374.5 830.1,370.7 830.2,342 830.4,382.6 830.6,372.4 830.7,366.5 830.9,381.3 831.1,369.2 831.2,362.2 831.4,380.9 831.6,353.7 831.7,384 831.9,370.6 832.1,364.1 832.2,341.9 832.4,392.1 832.6,364.8 832.7,341.8 832.9,376.6 833.1,353.9 833.2,365.7 833.4,387.8 833.6,363.2 833.7,380.5 833.9,367.4 834.1,388.6 834.2,358.7 834.4,399.4 834.6,370.8 834.7,351.2 834.9,361.5 835.1,373.1 835.2,371.6 835.4,374.1 835.6,341.6 835.7,369.1 835.9,368.6 836.1,378.2 836.2,374.7 836.4,360.2 836.6,376.5 836.7,379.2 836.9,375.7 837.1,373.1 837.2,366 837.4,374.8 837.6,370.9 837.7,378.3 837.9,351.7 838.1,367 838.2,372.5 838.4,364.3 838.6,368.8 838.7,389.2 838.9,370.6 839.1,346 839.2,361.4 839.4,352.4 839.6,377.1 839.7,388.1 839.9,377.5 840.1,350 840.2,381.5 840.4,378.7 840.6,353.2 840.7,371.4 840.9,370.7 841.1,362.9 841.2,366.9 841.4,372.1 841.6,364.6 841.7,377.6 841.9,368.6 842.1,359.2 842.2,382.2 842.4,370.8 842.6,383.3 842.7,357.9 842.9,359.7 843.1,355.2 843.2,354 843.4,354.1 843.6,358.2 843.8,378.3 843.9,355.3 844.1,380.1 844.3,341 844.4,363.9 844.6,359.8 844.8,384.3 844.9,353.4 845.1,352 845.3,388.8 845.4,375.2 845.6,374 845.8,376.4 845.9,349.1 846.1,340.8 846.3,382 846.4,353.6 846.6,371.2 846.8,349.2 846.9,398.5 847.1,373.4 847.3,351.3 847.4,377.8 847.6,351.6 847.8,374.4 847.9,352.3 848.1,359.7 848.3,373.2 848.4,377.8 848.6,369.8 848.8,351.9 848.9,367.6 849.1,376.4 849.3,340.6 849.4,388.6 849.6,370.4 849.8,360.1 849.9,381.3 850.1,367.4 850.3,372.9 850.4,387.1 850.6,361 850.8,382.4 850.9,377.2 851.1,350.5 851.3,382 851.4,358.9 851.6,351.1 851.8,353.6 851.9,360.6 852.1,370 852.3,385.6 852.4,364.8 852.6,360.8 852.8,373.6 852.9,379.9 853.1,355 853.3,380.8 853.4,360.6 853.6,373 853.8,389.2 853.9,344.8 854.1,358.3 854.3,359.1 854.4,385.4 854.6,368.1 854.8,362.6 854.9,376.3 855.1,344.1 855.3,393.4 855.4,356.8 855.6,391.6 855.8,387.3 855.9,383.4 856.1,358.5 856.3,375.8 856.4,375.2 856.6,378.3 856.8,386 856.9,378.2 857.1,379.3 857.3,370.4 857.4,371.2 857.6,396.4 857.8,374.8 857.9,349.8 858.1,372.4 858.3,367.1 858.4,375.8 858.6,375.3 858.8,367.1 858.9,384.2 859.1,368.4 859.3,388.5 859.4,361.6 859.6,387.2 859.8,357.3 859.9,352.5 860.1,387.9 860.3,357 860.4,371.5 860.6,350.4 860.8,373.2 860.9,369.8 861.1,369.9 861.3,349.1 861.4,391.9 861.6,355.6 861.8,364.7 861.9,372.4 862.1,369.1 862.3,353.3 862.4,354.7 862.6,343 862.8,374.4 862.9,391.1 863.1,373.1 863.3,368.3 863.4,371.5 863.6,349.2 863.8,337.4 863.9,360.4 864.1,389.4 864.3,351.5 864.4,374.1 864.6,364.8 864.8,354.1 864.9,360.4 865.1,366.2 865.3,361.4 865.4,355 865.6,356.8 865.8,337.4 865.9,394.6 866.1,375.6 866.3,372.9 866.4,354 866.6,362 866.8,353.5 866.9,384.1 867.1,367.8 867.3,356.2 867.4,365.5 867.6,370.1 867.8,361.1 867.9,342.6 868.1,393 868.3,343.3 868.4,360.9 868.6,376 868.8,355.7 868.9,363.9 869.1,348.2 869.3,375.2 869.4,351.4 869.6,376.5 869.8,360 869.9,354.9 870.1,365.3 870.3,355.6 870.4,372.1 870.6,349.9 870.8,370.8 870.9,373.5 871.1,365.6 871.3,364.7 871.4,375.2 871.6,353.2 871.8,365.5 872,355.7 872.1,383.8 872.3,381.4 872.5,367.3 872.6,377 872.8,365.4 873,356.1 873.1,348.6 873.3,343.8 873.5,352.9 873.6,372.9 873.8,356 874,370.4 874.1,356 874.3,377.4 874.5,345.2 874.6,357.6 874.8,367 875,381.4 875.1,359.3 875.3,370.1 875.5,359.6 875.6,372.5 875.8,370.2 876,354.5 876.1,343 876.3,379.8 876.5,365.4 876.6,357.5 876.8,364.8 877,368.5 877.1,334.4 877.3,373.8 877.5,357.7 877.6,369 877.8,363.7 878,391.9 878.1,350.5 878.3,365.2 878.5,375.3 878.6,340 878.8,365.9 879,370.4 879.1,373.5 879.3,347.8 879.5,361.7 879.6,366.2 879.8,379.8 880,374.1 880.1,357.3 880.3,362.2 880.5,388.8 880.6,373.5 880.8,358.7 881,333.5 881.1,371.8 881.3,391.2 881.5,351.3 881.6,368 881.8,379.3 882,354 882.1,364.6 882.3,374.4 882.5,379 882.6,363 882.8,360.2 883,385.1 883.1,348 883.3,378.2 883.5,342.4 883.6,356.7 883.8,363.6 884,356.6 884.1,369 884.3,361.9 884.5,338.9 884.6,368.6 884.8,349.9 885,372.9 885.1,361.1 885.3,347.8 885.5,376.8 885.6,356.2 885.8,389.5 886,376 886.1,366.2 886.3,348.7 886.5,350.9 886.6,372.7 886.8,362.2 887,357.9 887.1,381.3 887.3,354.6 887.5,342.2 887.6,343.6 887.8,368.1 888,365.6 888.1,372.7 888.3,366.7 888.5,363.4 888.6,350.9 888.8,358.9 889,372.4 889.1,348.9 889.3,348.1 889.5,368 889.6,363.1 889.8,361.1 890,381.8 890.1,357.9 890.3,350.6 890.5,333.5 890.6,357 890.8,363.4 891,361.5 891.1,351.2 891.3,348.7 891.5,370.9 891.6,356.7 891.8,350.5 892,386.2 892.1,340.8 892.3,362 892.5,347.4 892.6,359.7 892.8,362.3 893,360 893.1,355.1 893.3,347.3 893.5,362.4 893.6,373.9 893.8,368.2 894,371.9 894.1,348.5 894.3,371.5 894.5,338.2 894.6,356.8 894.8,359.7 895,341 895.1,363.4 895.3,362.4 895.5,347.9 895.6,348.4 895.8,371.7 896,330.2 896.1,350.6 896.3,375 896.5,360.5 896.6,345.7 896.8,355.1 897,346.5 897.1,330 897.3,345.4 897.5,330.9 897.6,348.7 897.8,366.7 898,337.4 898.1,367 898.3,344.8 898.5,348.8 898.6,368.8 898.8,366.9 899,359.7 899.1,351.9 899.3,339.4 899.5,356.2 899.7,331.6 899.8,345.3 900,365.6 900.2,365.2 900.3,355.7 900.5,363.8 900.7,357.9 900.8,346.3 901,353.1 901.2,343.5 901.3,365.8 901.5,368 901.7,375.2 901.8,380.3 902,362.3 902.2,355.3 902.3,358.9 902.5,356.1 902.7,328.7 902.8,370.7 903,359.6 903.2,362.5 903.3,368.1 903.5,337.8 903.7,356.3 903.8,339 904,370.9 904.2,330.6 904.3,328.4 904.5,367.3 904.7,355.8 904.8,357.3 905,348 905.2,373 905.3,349.2 905.5,345.7 905.7,363.4 905.8,385.7 906,364.5 906.2,360.6 906.3,345 906.5,363.5 906.7,370.6 906.8,346.9 907,350.1 907.2,345.2 907.3,354.4 907.5,340.8 907.7,348.1 907.8,378.9 908,352.2 908.2,344.5 908.3,354.3 908.5,335.2 908.7,360.9 908.8,345.4 909,371.2 909.2,354.7 909.3,362 909.5,368 909.7,372.1 909.8,351.5 910,348.8 910.2,363 910.3,371.1 910.5,366.2 910.7,344.2 910.8,370.5 911,339.1 911.2,376.7 911.3,350.5 911.5,345.3 911.7,337.8 911.8,359.9 912,364.4 912.2,373.2 912.3,341.9 912.5,355.8 912.7,360.2 912.8,359.6 913,350.5 913.2,353.5 913.3,338 913.5,382.7 913.7,342.5 913.8,360.9 914,354.8 914.2,357.9 914.3,354.8 914.5,343.5 914.7,350.6 914.8,372.9 915,354.4 915.2,354.8 915.3,348.5 915.5,352.9 915.7,354.5 915.8,339.6 916,367.9 916.2,326.3 916.3,360.8 916.5,367.1 916.7,342.7 916.8,338.7 917,336.3 917.2,333.5 917.3,346.7 917.5,352.2 917.7,347.9 917.8,353 918,360.2 918.2,331.4 918.3,328.5 918.5,352.7 918.7,355.9 918.8,359.3 919,375.3 919.2,361.8 919.3,359.6 919.5,352.9 919.7,366 919.8,378.1 920,343.7 920.2,329.4 920.3,381 920.5,354.2 920.7,340.9 920.8,368 921,371.6 921.2,351.8 921.3,355.4 921.5,360.7 921.7,330.1 921.8,332 922,343.3 922.2,352.9 922.3,356.4 922.5,340.1 922.7,355 922.8,331.9 923,335.1 923.2,359.9 923.3,341.5 923.5,330.6 923.7,342.8 923.8,364.2 924,355.1 924.2,356 924.3,349.8 924.5,350.9 924.7,356 924.8,339.7 925,333 925.2,358.7 925.3,370.9 925.5,346 925.7,350.9 925.8,345.3 926,360 926.2,346.9 926.3,363 926.5,336.1 926.7,328.1 926.8,363.1 927,382.1 927.2,357.1 927.3,357.5 927.5,347.8 927.7,350.1 927.9,343.7 928,324.2 928.2,357.7 928.4,355.2 928.5,344.3 928.7,374.9 928.9,339.5 929,358.3 929.2,369.2 929.4,361.3 929.5,343.1 929.7,338.5 929.9,333 930,343.9 930.2,359.4 930.4,342.2 930.5,350.7 930.7,323.8 930.9,377.1 931,327.8 931.2,339.1 931.4,343.9 931.5,350.6 931.7,356.8 931.9,362.2 932,370.1 932.2,323.5 932.4,336.5 932.5,340 932.7,344.1 932.9,374.7 933,352.7 933.2,347.3 933.4,333.3 933.5,362.3 933.7,345.1 933.9,351.9 934,348.3 934.2,359.1 934.4,343.8 934.5,347.5 934.7,373.6 934.9,332.2 935,323 935.2,360.2 935.4,332.9 935.5,361.5 935.7,355.4 935.9,324.6 936,345.5 936.2,327.8 936.4,344.2 936.5,334.5 936.7,350.2 936.9,328.7 937,323.9 937.2,338.8 937.4,355.4 937.5,352.7 937.7,360.4 937.9,339.6 938,340.7 938.2,357 938.4,335.3 938.5,355.3 938.7,323.1 938.9,336.4 939,326.1 939.2,356.9 939.4,360.7 939.5,371.8 939.7,338.6 939.9,362.3 940,329.1 940.2,345.2 940.4,336.8 940.5,364.3 940.7,355 940.9,344.5 941,337 941.2,364.2 941.4,342.3 941.5,357.9 941.7,335.9 941.9,349.8 942,350.7 942.2,340.8 942.4,331.2 942.5,349.9 942.7,330.2 942.9,359.9 943,342.7 943.2,361.5 943.4,343.6 943.5,358.7 943.7,346 943.9,338.1 944,359.3 944.2,369.8 944.4,348.7 944.5,339.3 944.7,343.2 944.9,358.4 945,335 945.2,350.1 945.4,335.9 945.5,358 945.7,340.2 945.9,330.4 946,354.9 946.2,349.9 946.4,337.7 946.5,339 946.7,341.2 946.9,347.6 947,366.8 947.2,346 947.4,363.1 947.5,344.8 947.7,377.1 947.9,326.7 948,320.7 948.2,339.9 948.4,357.1 948.5,349.8 948.7,333.9 948.9,336.9 949,355 949.2,329.6 949.4,336 949.5,338.5 949.7,350.3 949.9,345.6 950,355 950.2,343 950.4,354.3 950.5,329.8 950.7,344.9 950.9,342.6 951,341 951.2,341.1 951.4,364.3 951.5,328.2 951.7,344 951.9,352.5 952,358.1 952.2,354.2 952.4,353.3 952.5,345 952.7,356.5 952.9,343.6 953,343.1 953.2,354.2 953.4,319.7 953.5,346.6 953.7,340.5 953.9,343.5 954,347.1 954.2,335.9 954.4,326.6 954.5,345.8 954.7,356.3 954.9,337.6 955,373.4 955.2,342.7 955.4,347.3 955.5,340.5 955.7,364.8 955.9,350.6 956.1,358.4 956.2,351.9 956.4,337 956.6,347.4 956.7,352.7 956.9,329.1 957.1,344.6 957.2,371.7 957.4,358.7 957.6,339.4 957.7,339.1 957.9,342 958.1,341.4 958.2,356.8 958.4,346.2 958.6,360.7 958.7,356.1 958.9,357.1 959.1,356.1 959.2,349.5 959.4,348 959.6,355.7 959.7,330.8 959.9,351.1 960.1,324.8 960.2,331.9 960.4,361.2 960.6,333.4 960.7,363.7 960.9,326 961.1,340.8 961.2,358.3 961.4,374.2 961.6,350.5 961.7,363.2 961.9,330.8 962.1,361.8 962.2,348.4 962.4,338.8 962.6,345.2 962.7,341.9 962.9,348.6 963.1,335.8 963.2,357.7 963.4,337.8 963.6,361.3 963.7,343 963.9,360.4 964.1,348 964.2,337.6 964.4,329 964.6,369.2 964.7,355.5 964.9,358.2 965.1,329.3 965.2,356.8 965.4,336 965.6,352.1 965.7,364.4 965.9,343.9 966.1,360.4 966.2,335.6 966.4,334.3 966.6,327.7 966.7,358.7 966.9,324.4 967.1,332.5 967.2,369 967.4,318.3 967.6,322.9 967.7,359 967.9,340.9 968.1,363 968.2,347 968.4,342.7 968.6,337 968.7,356.1 968.9,345.5 969.1,357.5 969.2,340 969.4,336.3 969.6,344.1 969.7,329.8 969.9,335 970.1,340.1 970.2,329.6 970.4,361.5 970.6,345.5 970.7,368.5 970.9,345.2 971.1,351.2 971.2,334 971.4,350.8 971.6,353.4 971.7,346.2 971.9,346.6 972.1,338 972.2,356.4 972.4,364.7 972.6,365.9 972.7,329.5 972.9,361.5 973.1,350.9 973.2,359.4 973.4,333.1 973.6,352.2 973.7,328.4 973.9,354 974.1,340.7 974.2,334.6 974.4,331.8 974.6,360.5 974.7,349.5 974.9,345.7 975.1,368.8 975.2,335.1 975.4,339.4 975.6,337.8 975.7,363 975.9,342 976.1,338.7 976.2,330.8 976.4,351.3 976.6,335.4 976.7,318.3 976.9,350.1 977.1,349.8 977.2,348.6 977.4,364.1 977.6,349.1 977.7,322.7 977.9,356.6 978.1,346.8 978.2,328.3 978.4,336.7 978.6,341.2 978.7,348.6 978.9,345.7 979.1,344 979.2,335 979.4,343.1 979.6,331.6 979.7,368.8 979.9,333.2 980.1,351 980.2,343.8 980.4,349.6 980.6,335.5 980.7,345.5 980.9,335.6 981.1,354.6 981.2,341.4 981.4,327.6 981.6,329.1 981.7,348.6 981.9,341.9 982.1,348.7 982.2,345.4 982.4,343.5 982.6,327.7 982.7,336.1 982.9,324.5 983.1,323.5 983.2,360.6 983.4,339.8 983.6,349.8 983.7,365.3 983.9,358.3 984.1,350.6 984.3,321.9 984.4,342.9 984.6,346.5 984.8,344.5 984.9,354 985.1,341.8 985.3,345.3 985.4,365.7 985.6,351.2 985.8,317.4 985.9,335.9 986.1,345.5 986.3,335.5 986.4,357.1 986.6,343.1 986.8,332.8 986.9,365.6 987.1,354.1 987.3,349.7 987.4,348.2 987.6,351.2 987.8,340.9 987.9,331.1 988.1,340 988.3,331 988.4,330.8 988.6,352.4 988.8,341 988.9,349.6 989.1,336 989.3,349.3 989.4,347.2 989.6,322.4 989.8,347.1 989.9,365.3 990.1,343.2 990.3,340.9 990.4,351.5 990.6,343.9 990.8,331.5 990.9,351.7 991.1,347.4 991.3,354.3 991.4,340.6 991.6,346.6 991.8,357.1 991.9,347.1 992.1,321 992.3,367.5 992.4,363.3 992.6,340.7 992.8,363.3 992.9,319.6 993.1,364.7 993.3,362.3 993.4,352 993.6,331.1 993.8,334.8 993.9,337.8 994.1,341.4 994.3,328.3 994.4,369.2 994.6,341.8 994.8,326.7 994.9,359.4 995.1,341.3 995.3,329.5 995.4,329.1 995.6,347.3 995.8,321.2 995.9,339 996.1,331.6 996.3,359.7 996.4,355.5 996.6,355.6 996.8,322.6 996.9,376.3 997.1,369.8 997.3,335.3 997.4,343.9 997.6,376.9 997.8,351 997.9,349.9 998.1,330.1 998.3,370.9 998.4,352.9 998.6,332 998.8,336 998.9,358 999.1,349.8 999.3,365.3 999.4,328.2 999.6,351.7 999.8,329.5 999.9,335.7 1000.1,357.7 1000.3,348.1 1000.4,337.7 1000.6,340.4 1000.8,326.3 1000.9,331.7 1001.1,342 1001.3,337.3 1001.4,355.6 1001.6,354.1 1001.8,338.5 1001.9,342 1002.1,360.8 1002.3,347.4 1002.4,356.8 1002.6,353.7 1002.8,329.6 1002.9,358.8 1003.1,355 1003.3,339.1 1003.4,345.6 1003.6,344.4 1003.8,365.4 1003.9,346.9 1004.1,351.4 1004.3,357.2 1004.4,354 1004.6,350.5 1004.8,335.8 1004.9,322.2 1005.1,345.3 1005.3,327.5 1005.4,345.3 1005.6,366.1 1005.8,346 1005.9,330.2 1006.1,328.6 1006.3,358.3 1006.4,320.5 1006.6,356.5 1006.8,356.4 1006.9,353.7 1007.1,328.1 1007.3,341.8 1007.4,335.2 1007.6,375.9 1007.8,347.7 1007.9,348.5 1008.1,338 1008.3,353.2 1008.4,331.6 1008.6,356.1 1008.8,365.3 1008.9,368.5 1009.1,330.8 1009.3,337.4 1009.4,357.4 1009.6,333 1009.8,349.5 1009.9,348.9 1010.1,366.4 1010.3,354.6 1010.4,346.1 1010.6,344.9 1010.8,354.9 1010.9,334.7 1011.1,329 1011.3,358.2 1011.4,342.5 1011.6,367.5 1011.8,342.4 1011.9,360.4 1012.1,349.9 1012.3,345.7 1012.5,351.1 1012.6,334.5 1012.8,358.1 1013,354.1 1013.1,343.9 1013.3,348.6 1013.5,344.9 1013.6,351 1013.8,358.7 1014,339.7 1014.1,347.4 1014.3,336.7 1014.5,331.2 1014.6,353.1 1014.8,358.1 1015,354.5 1015.1,357 1015.3,374.4 1015.5,327.4 1015.6,343.4 1015.8,322.6 1016,356.1 1016.1,341.2 1016.3,345.4 1016.5,349.8 1016.6,336.3 1016.8,349 1017,350.1 1017.1,347 1017.3,378 1017.5,358.5 1017.6,358.7 1017.8,327.9 1018,341.7 1018.1,339.2 1018.3,341.3 1018.5,351.9 1018.6,328.1 1018.8,352.2 1019,367.8 1019.1,341.5 1019.3,334.4 1019.5,348.3 1019.6,345 1019.8,337.4 1020,330 1020.1,342.3 1020.3,328.2 1020.5,346.2 1020.6,323.9 1020.8,367.8 1021,337.8 1021.1,346.4 1021.3,348.6 1021.5,366.7 1021.6,336.3 1021.8,352.8 1022,363.1 1022.1,358.5 1022.3,353.4 1022.5,349.1 1022.6,362.2 1022.8,362.4 1023,345.2 1023.1,351.5 1023.3,325.3 1023.5,356.1 1023.6,341.1 1023.8,328.3 1024,353.4 1024.1,338.1 1024.3,347 1024.5,350.3 1024.6,330.3 1024.8,363.9 1025,358.9 1025.1,374 1025.3,352.7 1025.5,338.5 1025.6,354.6 1025.8,340.7 1026,361.2 1026.1,336.7 1026.3,352.9 1026.5,357.7 1026.6,330.4 1026.8,351.7 1027,344.3 1027.1,350.1 1027.3,342.7 1027.5,350.2 1027.6,367.3 1027.8,348.2 1028,345.8 1028.1,347 1028.3,354.9 1028.5,328.7 1028.6,361.5 1028.8,350.6 1029,349.5 1029.1,366.2 1029.3,367.6 1029.5,343.8 1029.6,343.7 1029.8,350.6 1030,373.1 1030.1,356.2 1030.3,349.5 1030.5,344.6 1030.6,337.3 1030.8,346.8 1031,340.3 1031.1,331.4 1031.3,382.9 1031.5,340.1 1031.6,358.5 1031.8,346.8 1032,350.3 1032.1,366.2 1032.3,364.7 1032.5,347.5 1032.6,355.5 1032.8,343.8 1033,358.2 1033.1,327.3 1033.3,356.7 1033.5,327.4 1033.6,363.2 1033.8,346.3 1034,339.1 1034.1,370.5 1034.3,366.1 1034.5,348.5 1034.6,339 1034.8,336.2 1035,346.7 1035.1,340.4 1035.3,368.9 1035.5,359.4 1035.6,335.5 1035.8,361.2 1036,357.2 1036.1,376.5 1036.3,356.7 1036.5,374.7 1036.6,349.7 1036.8,335.5 1037,350.4 1037.1,352.3 1037.3,359.7 1037.5,347.5 1037.6,368.9 1037.8,360.6 1038,328.6 1038.1,371.5 1038.3,362.1 1038.5,372.8 1038.6,339.1 1038.8,358 1039,371.4 1039.1,371.2 1039.3,340.9 1039.5,346.5 1039.6,345 1039.8,356.1 1040,343.8 1040.2,338.5 1040.3,346.9 1040.5,376.1 1040.7,380.9 1040.8,374.4 1041,352.2 1041.2,375 1041.3,369.7 1041.5,355.4 1041.7,367.2 1041.8,372.4 1042,343.7 1042.2,349.8 1042.3,346 1042.5,344.4 1042.7,337.7 1042.8,356.9 1043,358.8 1043.2,379.1 1043.3,359.7 1043.5,364.3 1043.7,343.2 1043.8,348.1 1044,337.8 1044.2,342.8 1044.3,341.6 1044.5,350.1 1044.7,355.2 1044.8,362 1045,357.3 1045.2,369.4 1045.3,352.2 1045.5,358.3 1045.7,383.5 1045.8,388.3 1046,366.8 1046.2,363.5 1046.3,361.4 1046.5,341 1046.7,365.8 1046.8,374.1 1047,352.9 1047.2,344.9 1047.3,336.7 1047.5,371 1047.7,361.2 1047.8,363.5 1048,338.7 1048.2,349.1 1048.3,357.9 1048.5,348.9 1048.7,362.9 1048.8,360.9 1049,358.8 1049.2,364.9 1049.3,361.7 1049.5,354 1049.7,355.5 1049.8,339.6 1050,347.6 1050.2,359.7 1050.3,387 1050.5,377.9 1050.7,365.4 1050.8,363.9 1051,375.8 1051.2,363.9 1051.3,357.7 1051.5,367.3 1051.7,361.1 1051.8,360.5 1052,368.4 1052.2,370.5 1052.3,361.1 1052.5,356.1 1052.7,372.9 1052.8,385.8 1053,371.9 1053.2,353.3 1053.3,380.5 1053.5,348 1053.7,367.4 1053.8,358.3 1054,369.9 1054.2,352.6 1054.3,359.5 1054.5,355.4 1054.7,385.1 1054.8,351 1055,381.8 1055.2,364.6 1055.3,353.8 1055.5,362.9 1055.7,354.1 1055.8,358.4 1056,359.4 1056.2,371 1056.3,347.9 1056.5,346.4 1056.7,367.6 1056.8,372.3 1057,358.3 1057.2,370.6 1057.3,359.2 1057.5,350.6 1057.7,352.6 1057.8,342.3 1058,355.3 1058.2,374.5 1058.3,372.1 1058.5,354.5 1058.7,337.1 1058.8,365.9 1059,373.1 1059.2,343.8 1059.3,363.1 1059.5,352.8 1059.7,347.9 1059.8,374.2 1060,366.3 1060.2,368.8 1060.3,355.1 1060.5,353.6 1060.7,368.2 1060.8,354.9 1061,384.7 1061.2,357.6 1061.3,357.7 1061.5,362.1 1061.7,380.6 1061.8,363.5 1062,375.9 1062.2,343.9 1062.3,366 1062.5,365 1062.7,363.9 1062.8,355.7 1063,361.6 1063.2,355.9 1063.3,374.5 1063.5,348.9 1063.7,369.1 1063.8,353.4 1064,360 1064.2,349.5 1064.3,364.1 1064.5,381.8 1064.7,377.8 1064.8,366.2 1065,345.9 1065.2,368.8 1065.3,362.9 1065.5,347.8 1065.7,370.8 1065.8,359.9 1066,360.3 1066.2,371.4 1066.3,361 1066.5,350.8 1066.7,350.9 1066.8,368.4 1067,336.9 1067.2,359.9 1067.3,367.8 1067.5,373.5 1067.7,376.9 1067.8,354.2 1068,395 1068.2,366.6 1068.4,382.1 1068.5,367 1068.7,365.3 1068.9,381.4 1069,377.5 1069.2,349.1 1069.4,372.1 1069.5,365.3 1069.7,369.3 1069.9,354.9 1070,350.1 1070.2,353.9 1070.4,358.6 1070.5,358.5 1070.7,380.6 1070.9,349.3 1071,372.9 1071.2,377.1 1071.4,370.7 1071.5,376 1071.7,360.9 1071.9,357.1 1072,350.1 1072.2,367.5 1072.4,373.9 1072.5,369.9 1072.7,381.2 1072.9,375.8 1073,341.5 1073.2,376.4 1073.4,372.5 1073.5,358.9 1073.7,363.7 1073.9,357.3 1074,377.9 1074.2,380.5 1074.4,350.5 1074.5,375.8 1074.7,368.5 1074.9,364.7 1075,390.7 1075.2,369.9 1075.4,375.7 1075.5,361 1075.7,371.6 1075.9,396.1 1076,357.9 1076.2,398.2 1076.4,373.1 1076.5,376.8 1076.7,375.8 1076.9,368.3 1077,356.2 1077.2,379.3 1077.4,376.1 1077.5,359.1 1077.7,362.1 1077.9,359.5 1078,364.4 1078.2,371.8 1078.4,374.9 1078.5,374.8 1078.7,357.5 1078.9,350.1 1079,344.1 1079.2,382.2 1079.4,372.1 1079.5,369.2 1079.7,371.4 1079.9,383.6 1080,342.1 1080.2,350.4 1080.4,371.6 1080.5,375.3 1080.7,369.8 1080.9,385 1081,374.1 1081.2,360.1 1081.4,349 1081.5,358.8 1081.7,353.7 1081.9,383.5 1082,400.6 1082.2,352.8 1082.4,368 1082.5,371.4 1082.7,349.3 1082.9,382.7 1083,382.7 1083.2,380.1 1083.4,350.2 1083.5,358.8 1083.7,393.4 1083.9,349.9 1084,370.8 1084.2,365.6 1084.4,380.9 1084.5,347.3 1084.7,365.7 1084.9,354.6 1085,384.1 1085.2,362.6 1085.4,370.4 1085.5,374.5 1085.7,382 1085.9,380.6 1086,386.7 1086.2,380.3 1086.4,372.2 1086.5,364.6 1086.7,391.9 1086.9,385.3 1087,380 1087.2,393.1 1087.4,376 1087.5,375.8 1087.7,374.9 1087.9,367.3 1088,360.6 1088.2,362.5 1088.4,369.2 1088.5,365.3 1088.7,383 1088.9,384.9 1089,364.8 1089.2,365.9 1089.4,345.8 1089.5,376.1 1089.7,385.9 1089.9,369.6 1090,379.1 1090.2,384.8 1090.4,356.1 1090.5,349 1090.7,368.9 1090.9,382.1 1091,370.5 1091.2,374.5 1091.4,391.7 1091.5,363.3 1091.7,369.6 1091.9,358.1 1092,381.3 1092.2,374.5 1092.4,375.8 1092.5,396.4 1092.7,347.1 1092.9,401.2 1093,389.2 1093.2,379.2 1093.4,394.7 1093.5,369.4 1093.7,380.7 1093.9,373.9 1094,371.9 1094.2,374 1094.4,373.8 1094.5,377 1094.7,369.7 1094.9,364.8 1095,378.5 1095.2,381 1095.4,380.5 1095.5,371.5 1095.7,380.2 1095.9,380.4 1096,394.9 1096.2,350.9 1096.4,391.5 1096.6,354.2 1096.7,365.6 1096.9,362.7 1097.1,372.6 1097.2,369.7 1097.4,372.3 1097.6,368.5 1097.7,365.4 1097.9,356.6 1098.1,389 1098.2,370 1098.4,355.6 1098.6,358.5 1098.7,389.7 1098.9,372.5 1099.1,373 1099.2,373.4 1099.4,405.7 1099.6,365.6 1099.7,397.5 1099.9,350 1100.1,368.4 1100.2,378.2 1100.4,368.8 1100.6,375.2 1100.7,384 1100.9,378.4 1101.1,372.7 1101.2,387.7 1101.4,368.1 1101.6,363 1101.7,363.6 1101.9,362.3 1102.1,360.8 1102.2,368.5 1102.4,360.7 1102.6,376.9 1102.7,372.5 1102.9,359.5 1103.1,352.8 1103.2,382.5 1103.4,396.8 1103.6,351.5 1103.7,363.1 1103.9,354.5 1104.1,366.5 1104.2,375.2 1104.4,386.6 1104.6,390.9 1104.7,359.6 1104.9,365.8 1105.1,374.5 1105.2,393.2 1105.4,385.6 1105.6,386.9 1105.7,382.8 1105.9,410.1 1106.1,376.1 1106.2,358.8 1106.4,386.3 1106.6,378.9 1106.7,375.7 1106.9,392.4 1107.1,373.8 1107.2,390.1 1107.4,385.3 1107.6,376.3 1107.7,380.4 1107.9,378.5 1108.1,391.8 1108.2,370.4 1108.4,394.1 1108.6,369 1108.7,386.4 1108.9,395.6 1109.1,381.4 1109.2,394.1 1109.4,387.3 1109.6,382.4 1109.7,370.3 1109.9,370.1 1110.1,374.3 1110.2,384.4 1110.4,400.7 1110.6,383.7 1110.7,385.1 1110.9,382.6 1111.1,387.9 1111.2,387.9 1111.4,370.6 1111.6,398.7 1111.7,381.2 1111.9,364.9 1112.1,391.5 1112.2,394.4 1112.4,384.5 1112.6,386.1 1112.7,378.2 1112.9,364 1113.1,383.5 1113.2,374.6 1113.4,389.5 1113.6,388.4 1113.7,378.2 1113.9,390.9 1114.1,366.5 1114.2,387.6 1114.4,384.5 1114.6,396.1 1114.7,388.2 1114.9,395.7 1115.1,389 1115.2,406 1115.4,382.9 1115.6,359.9 1115.7,407.5 1115.9,360.2 1116.1,384.6 1116.2,371.5 1116.4,396.4 1116.6,356.7 1116.7,397.5 1116.9,384.4 1117.1,363.1 1117.2,400.4 1117.4,414.4 1117.6,384.7 1117.7,393.9 1117.9,396.7 1118.1,396 1118.2,403.4 1118.4,365.7 1118.6,368.1 1118.7,402.3 1118.9,385.8 1119.1,390.5 1119.2,370 1119.4,395.6 1119.6,363.2 1119.7,384.7 1119.9,395.2 1120.1,386.1 1120.2,392.7 1120.4,358.4 1120.6,383.2 1120.7,391.6 1120.9,384 1121.1,365.8 1121.2,398.2 1121.4,407.8 1121.6,368.2 1121.7,377.5 1121.9,391.7 1122.1,386.9 1122.2,371.2 1122.4,417 1122.6,369.1 1122.7,388.5 1122.9,377.2 1123.1,387 1123.2,359.6 1123.4,394.7 1123.6,371.9 1123.7,417.6 1123.9,386.1 1124.1,376.2 1124.2,407.4 1124.4,414 1124.6,385.7 1124.8,373.5 1124.9,371.3 1125.1,396.3 1125.3,382.7 1125.4,406.2 1125.6,364.1 1125.8,395.2 1125.9,370.5 1126.1,391.3 1126.3,392.1 1126.4,366.1 1126.6,399.5 1126.8,370.7 1126.9,392.8 1127.1,399.9 1127.3,399.4 1127.4,373.2 1127.6,389.4 1127.8,393.2 1127.9,408.7 1128.1,372.9 1128.3,374.6 1128.4,384.4 1128.6,378.4 1128.8,419.8 1128.9,396.1 1129.1,386.9 1129.3,387.7 1129.4,396.8 1129.6,386.1 1129.8,399.1 1129.9,398.2 1130.1,406.2 1130.3,387.7 1130.4,399.3 1130.6,396.5 1130.8,371.2 1130.9,390.5 1131.1,390.4 1131.3,410.6 1131.4,397.1 1131.6,377 1131.8,382.9 1131.9,389.6 1132.1,392.8 1132.3,389.6 1132.4,385.2 1132.6,395 1132.8,421.6 1132.9,364.4 1133.1,375.6 1133.3,393 1133.4,372.1 1133.6,408.6 1133.8,373.8 1133.9,388.7 1134.1,379.4 1134.3,396 1134.4,389.4 1134.6,383.7 1134.8,377.5 1134.9,384.8 1135.1,385.8 1135.3,399.8 1135.4,368.9 1135.6,389.2 1135.8,395.1 1135.9,396.5 1136.1,408.3 1136.3,402.2 1136.4,412.8 1136.6,389.7 1136.8,393.6 1136.9,389.6 1137.1,409.4 1137.3,398.4 1137.4,401.4 1137.6,379.6 1137.8,412.9 1137.9,413.4 1138.1,375.9 1138.3,388.3 1138.4,414.3 1138.6,375.2 1138.8,373.4 1138.9,378.1 1139.1,421.2 1139.3,392 1139.4,405.3 1139.6,397.3 1139.8,415 1139.9,370.6 1140.1,403.3 1140.3,390.3 1140.4,383.3 1140.6,386 1140.8,388.7 1140.9,399.6 1141.1,391.5 1141.3,397.5 1141.4,425.1 1141.6,381.2 1141.8,403.1 1141.9,401.8 1142.1,400.4 1142.3,413.6 1142.4,411.3 1142.6,419.3 1142.8,388.9 1142.9,379.4 1143.1,394.3 1143.3,410.8 1143.4,377.9 1143.6,399.8 1143.8,417 1143.9,421 1144.1,393.3 1144.3,376.5 1144.4,401.1 1144.6,404.5 1144.8,399.8 1144.9,407.6 1145.1,403.6 1145.3,392.9 1145.4,406.1 1145.6,384 1145.8,409.7 1145.9,387.1 1146.1,392.1 1146.3,402 1146.4,400.8 1146.6,401.3 1146.8,374.5 1146.9,407.9 1147.1,381.2 1147.3,383.7 1147.4,401.8 1147.6,375.7 1147.8,428.2 1147.9,394.2 1148.1,395.9 1148.3,397.4 1148.4,386.5 1148.6,403.2 1148.8,400.4 1148.9,382.5 1149.1,399.6 1149.3,412 1149.4,390.5 1149.6,399.4 1149.8,405.9 1149.9,391 1150.1,408.8 1150.3,411.7 1150.4,402.1 1150.6,401.3 1150.8,398.1 1150.9,415 1151.1,375.9 1151.3,389.9 1151.4,397.2 1151.6,396.1 1151.8,430 1151.9,386.9 1152.1,413.1 1152.3,392.7 1152.4,415.6 1152.6,386.4 1152.8,406.9 1153,402.6 1153.1,379.3 1153.3,386.6 1153.5,418.4 1153.6,409.4 1153.8,397.5 1154,403.3 1154.1,389.4 1154.3,409.5 1154.5,425.6 1154.6,412.7 1154.8,403 1155,393.3 1155.1,390.7 1155.3,384.1 1155.5,397.7 1155.6,403.7 1155.8,391.2 1156,402.4 1156.1,407.4 1156.3,407.5 1156.5,388.8 1156.6,381.4 1156.8,383.8 1157,423 1157.1,386.9 1157.3,416.7 1157.5,406.3 1157.6,394 1157.8,419.8 1158,418.4 1158.1,412.1 1158.3,379.5 1158.5,387.7 1158.6,414.3 1158.8,400.5 1159,400.6 1159.1,398.3 1159.3,412.1 1159.5,383.3 1159.6,407.8 1159.8,391.8 1160,425.4 1160.1,397.7 1160.3,401.1 1160.5,384.8 1160.6,433.9 1160.8,395.8 1161,392.4 1161.1,406.9 1161.3,385.8 1161.5,376.6 1161.6,391.8 1161.8,392.8 1162,385.6 1162.1,397.9 1162.3,387.4 1162.5,395.9 1162.6,413.2 1162.8,418.2 1163,388.4 1163.1,396.2 1163.3,413.3 1163.5,404 1163.6,384.8 1163.8,427.5 1164,416.7 1164.1,395.3 1164.3,393.7 1164.5,420.5 1164.6,418.3 1164.8,402.7 1165,386.2 1165.1,404.9 1165.3,436 1165.5,391.4 1165.6,405.6 1165.8,411.6 1166,421.1 1166.1,389.5 1166.3,402 1166.5,400.3 1166.6,401.1 1166.8,400 1167,394.7 1167.1,383 1167.3,420.3 1167.5,407.2 1167.6,412.3 1167.8,383.7 1168,410.2 1168.1,428.1 1168.3,406.9 1168.5,416.4 1168.6,416.6 1168.8,412.7 1169,424.4 1169.1,432.9 1169.3,380.8 1169.5,408.7 1169.6,419.7 1169.8,398.8 1170,389.4 1170.1,430.8 1170.3,413.4 1170.5,403.7 1170.6,418.9 1170.8,401.6 1171,424.3 1171.1,416.7 1171.3,409.5 1171.5,402.2 1171.6,407.5 1171.8,417.2 1172,413.1 1172.1,436.6 1172.3,381.4 1172.5,413.9 1172.6,412.4 1172.8,405 1173,400.9 1173.1,404.1 1173.3,417.9 1173.5,431.1 1173.6,411.3 1173.8,419.7 1174,416.5 1174.1,409.2 1174.3,406 1174.5,391.9 1174.6,411.4 1174.8,432.6 1175,401.7 1175.1,397.1 1175.3,431.8 1175.5,401.6 1175.6,407.3 1175.8,417.2 1176,407.7 1176.1,404.8 1176.3,402.2 1176.5,394.8 1176.6,410.5 1176.8,410.4 1177,383.5 1177.1,424.9 1177.3,414.3 1177.5,415.4 1177.6,400.4 1177.8,395.9 1178,428.6 1178.1,394.4 1178.3,427 1178.5,384.1 1178.6,420.2 1178.8,396.4 1179,414.9 1179.1,401.8 1179.3,421.5 1179.5,409.7 1179.6,411.3 1179.8,410.4 1180,401.1 1180.1,417.7 1180.3,416.2 1180.5,429.6 1180.7,413.9 1180.8,418.7 1181,400.3 1181.2,403.2 1181.3,422.1 1181.5,406.5 1181.7,394.8 1181.8,415.4 1182,428.4 1182.2,385.8 1182.3,405.3 1182.5,403.4 1182.7,386 1182.8,423.7 1183,409 1183.2,438.6 1183.3,406.6 1183.5,408 1183.7,423.9 1183.8,424.9 1184,415.9 1184.2,416.7 1184.3,392.4 1184.5,417 1184.7,415.9 1184.8,416.2 1185,435.4 1185.2,420.6 1185.3,432.3 1185.5,412.5 1185.7,443.7 1185.8,429.4 1186,411 1186.2,442.7 1186.3,435.5 1186.5,401.3 1186.7,432.6 1186.8,414.9 1187,410.7 1187.2,429.2 1187.3,437.7 1187.5,394.6 1187.7,422.7 1187.8,408.3 1188,425.5 1188.2,410.5 1188.3,433.1 1188.5,434 1188.7,429.7 1188.8,424.1 1189,424.2 1189.2,420.3 1189.3,410.1 1189.5,423.2 1189.7,403.5 1189.8,425 1190,407.3 1190.2,398.7 1190.3,393 1190.5,443.1 1190.7,393.3 1190.8,440.3 1191,397.6 1191.2,416.9 1191.3,412.1 1191.5,429.6 1191.7,404.4 1191.8,407.8 1192,424.5 1192.2,425.4 1192.3,405.7 1192.5,403.4 1192.7,407 1192.8,422.6 1193,417.5 1193.2,405 1193.3,406.4 1193.5,402.6 1193.7,415.9 1193.8,427.3 1194,414.1 1194.2,411.9 1194.3,425.2 1194.5,412.1 1194.7,429.5 1194.8,414.9 1195,426.5 1195.2,391.5 1195.3,402.5 1195.5,415.1 1195.7,436.3 1195.8,435.3 1196,409.5 1196.2,420.9 1196.3,414.8 1196.5,440.2 1196.7,439.3 1196.8,417.7 1197,422.1 1197.2,437.2 1197.3,430.2 1197.5,409 1197.7,425.4 1197.8,411.9 1198,397.5 1198.2,415.3 1198.3,418.1 1198.5,427.9 1198.7,403.7 1198.8,439.5 1199,434.9 1199.2,420.5 1199.3,440.1 1199.5,407.2 1199.7,428.9 1199.8,413.4 1200,424.8 1200.2,424.1 1200.3,420.6 1200.5,447.2 1200.7,435.5 1200.8,427.3 1201,394.1 1201.2,410.2 1201.3,411.5 1201.5,435.2 1201.7,409.4 1201.8,404.7 1202,411.4 1202.2,394.7 1202.3,439.7 1202.5,436.2 1202.7,425.3 1202.8,435 1203,421.3 1203.2,415 1203.3,422.3 1203.5,420.8 1203.7,416.8 1203.8,411.9 1204,431.3 1204.2,431.5 1204.3,406.6 1204.5,427.2 1204.7,433.9 1204.8,419 1205,427.6 1205.2,421.3 1205.3,423.9 1205.5,414.6 1205.7,410.9 1205.8,434.4 1206,439.6 1206.2,402 1206.3,432.7 1206.5,444.4 1206.7,449.1 1206.8,424.2 1207,432.4 1207.2,448.4 1207.3,436.6 1207.5,438.2 1207.7,410.7 1207.8,421 1208,424.4 1208.2,441.4 1208.3,426.8 1208.5,415.6 1208.7,422.4 1208.9,410.5 1209,423.7 1209.2,415.5 1209.4,418.7 1209.5,432.6 1209.7,407.1 1209.9,420.2 1210,414.1 1210.2,439.5 1210.4,439.9 1210.5,427.8 1210.7,436.3 1210.9,417.2 1211,420.1 1211.2,409.2 1211.4,417.9 1211.5,441 1211.7,413.2 1211.9,434.7 1212,435.9 1212.2,425.3 1212.4,426.3 1212.5,412.4 1212.7,399.3 1212.9,420.8 1213,407 1213.2,429.4 1213.4,422.1 1213.5,433.7 1213.7,432.5 1213.9,408.9 1214,420.9 1214.2,421 1214.4,437.8 1214.5,404.3 1214.7,429.6 1214.9,436 1215,427.7 1215.2,418.4 1215.4,417.5 1215.5,407.9 1215.7,441.9 1215.9,433.5 1216,406.9 1216.2,400.9 1216.4,436.4 1216.5,429.3 1216.7,448.8 1216.9,439.2 1217,440.1 1217.2,429.7 1217.4,444.4 1217.5,416 1217.7,429.3 1217.9,432 1218,416.4 1218.2,432.3 1218.4,445.5 1218.5,428.5 1218.7,402 1218.9,427.7 1219,422.1 1219.2,431.8 1219.4,432.2 1219.5,422.6 1219.7,460.1 1219.9,446.1 1220,437.5 1220.2,433.3 1220.4,410.3 1220.5,402.8 1220.7,421.4 1220.9,424.6 1221,420.9 1221.2,409.9 1221.4,443.3 1221.5,436.8 1221.7,428.2 1221.9,426.4 1222,455.9 1222.2,424.8 1222.4,451.9 1222.5,420.4 1222.7,419.4" fill="none" stroke="#029bd7" stroke-width="2.9" stroke-linejoin="round" stroke-linecap="round" clip-path="url(#c3)"/>
<rect x="688.9" y="94.9" width="534.1" height="592" fill="none" stroke="#000" stroke-width="3.5"/>
<path d="M795.7 686.9v-5.8M795.7 94.9v5.8M902.4 686.9v-5.8M902.4 94.9v5.8M1009.2 686.9v-5.8M1009.2 94.9v5.8M1115.9 686.9v-5.8M1115.9 94.9v5.8" stroke="#000" stroke-width="2.8" fill="none"/>
<path d="M742.3 686.9v-3.1M742.3 94.9v3.1M849 686.9v-3.1M849 94.9v3.1M955.8 686.9v-3.1M955.8 94.9v3.1M1062.6 686.9v-3.1M1062.6 94.9v3.1M1169.3 686.9v-3.1M1169.3 94.9v3.1" stroke="#000" stroke-width="2.4" fill="none"/>
<path d="M688.9 174.1h5.8M1223 174.1h-5.8M688.9 331.9h5.8M1223 331.9h-5.8M688.9 489.8h5.8M1223 489.8h-5.8M688.9 647.6h5.8M1223 647.6h-5.8" stroke="#000" stroke-width="2.8" fill="none"/>
<text x="688.9" y="714.2" font-size="24.9" text-anchor="middle" fill="#000">0</text>
<text x="795.7" y="714.2" font-size="24.9" text-anchor="middle" fill="#000">2</text>
<text x="902.4" y="714.2" font-size="24.9" text-anchor="middle" fill="#000">4</text>
<text x="1009.2" y="714.2" font-size="24.9" text-anchor="middle" fill="#000">6</text>
<text x="1115.9" y="714.2" font-size="24.9" text-anchor="middle" fill="#000">8</text>
<text x="1222.7" y="714.2" font-size="24.9" text-anchor="middle" fill="#000">10</text>
<text x="678.2" y="183.1" font-size="24.9" text-anchor="end" fill="#000">–100</text>
<text x="678.2" y="340.9" font-size="24.9" text-anchor="end" fill="#000">–120</text>
<text x="678.2" y="498.8" font-size="24.9" text-anchor="end" fill="#000">–140</text>
<text x="678.2" y="656.6" font-size="24.9" text-anchor="end" fill="#000">–160</text>
<text x="948.6" y="743.8" font-size="24.9" text-anchor="middle" fill="#000">Frequency (GHz)</text>
<text transform="translate(603.4 398.9) rotate(-90)" font-size="28.6" text-anchor="middle">RIN (dBc/Hz)</text>
<path d="M711.2 128.5H780.4" stroke="#e0407f" stroke-width="3.6"/>
<text x="792.2" y="134.8" font-size="24.9" text-anchor="start" fill="#000">Free run</text>
<path d="M711.2 166.2H780.4" stroke="#96509a" stroke-width="3.6"/>
<text x="792.2" y="172.5" font-size="24.9" text-anchor="start" fill="#000">–10.71 dB</text>
<path d="M711.2 204.0H780.4" stroke="#5a80c0" stroke-width="3.6"/>
<text x="792.2" y="210.3" font-size="24.9" text-anchor="start" fill="#000">–5.71 dB</text>
<path d="M711.2 241.9H780.4" stroke="#029bd7" stroke-width="3.6"/>
<text x="792.2" y="248.2" font-size="24.9" text-anchor="start" fill="#000">–2.71 dB</text>
<path d="M948.3 128.5H1017.9" stroke="#c23c88" stroke-width="3.6"/>
<text x="1039" y="134" font-size="24.9" text-anchor="start" fill="#000">–17.71 dB</text>
<path d="M957.1 166.2H1026.3" stroke="#7866aa" stroke-width="3.6"/>
<text x="1039" y="171.7" font-size="24.9" text-anchor="start" fill="#000">–7.71 dB</text>
<path d="M957.1 204.0H1026.3" stroke="#3289c9" stroke-width="3.6"/>
<text x="1039" y="209.5" font-size="24.9" text-anchor="start" fill="#000">–4.71 dB</text>
</g>
<g id="plot4">
<circle cx="1453.1" cy="152.6" r="5.8" fill="url(#gr2)"/>
<circle cx="1458.4" cy="150.2" r="5.8" fill="url(#gr2)"/>
<circle cx="1463.7" cy="150.4" r="5.8" fill="url(#gr2)"/>
<circle cx="1469" cy="151.1" r="5.8" fill="url(#gr2)"/>
<circle cx="1474.4" cy="149.7" r="5.8" fill="url(#gr2)"/>
<circle cx="1479.7" cy="148.7" r="5.8" fill="url(#gr2)"/>
<circle cx="1485" cy="150" r="5.8" fill="url(#gr2)"/>
<circle cx="1490.3" cy="151.3" r="5.8" fill="url(#gr2)"/>
<circle cx="1495.6" cy="151.6" r="5.8" fill="url(#gr2)"/>
<circle cx="1500.9" cy="151.3" r="5.8" fill="url(#gr2)"/>
<circle cx="1506.2" cy="151.1" r="5.8" fill="url(#gr2)"/>
<circle cx="1511.5" cy="149.2" r="5.8" fill="url(#gr2)"/>
<circle cx="1516.8" cy="149.9" r="5.8" fill="url(#gr2)"/>
<circle cx="1522.1" cy="150.1" r="5.8" fill="url(#gr2)"/>
<circle cx="1527.4" cy="149.3" r="5.8" fill="url(#gr2)"/>
<circle cx="1532.7" cy="150" r="5.8" fill="url(#gr2)"/>
<circle cx="1538" cy="149.9" r="5.8" fill="url(#gr2)"/>
<circle cx="1543.3" cy="150.6" r="5.8" fill="url(#gr2)"/>
<circle cx="1548.6" cy="150.4" r="5.8" fill="url(#gr2)"/>
<circle cx="1553.9" cy="149.7" r="5.8" fill="url(#gr2)"/>
<circle cx="1559.3" cy="150.7" r="5.8" fill="url(#gr2)"/>
<circle cx="1564.6" cy="148.2" r="5.8" fill="url(#gr2)"/>
<circle cx="1569.9" cy="149.5" r="5.8" fill="url(#gr2)"/>
<circle cx="1575.2" cy="150.1" r="5.8" fill="url(#gr2)"/>
<circle cx="1580.5" cy="148.7" r="5.8" fill="url(#gr2)"/>
<circle cx="1585.8" cy="150.4" r="5.8" fill="url(#gr2)"/>
<circle cx="1591.1" cy="148.5" r="5.8" fill="url(#gr2)"/>
<circle cx="1596.4" cy="149.3" r="5.8" fill="url(#gr2)"/>
<circle cx="1601.7" cy="147.7" r="5.8" fill="url(#gr2)"/>
<circle cx="1607" cy="149.8" r="5.8" fill="url(#gr2)"/>
<circle cx="1612.3" cy="149.6" r="5.8" fill="url(#gr2)"/>
<circle cx="1617.6" cy="149.9" r="5.8" fill="url(#gr2)"/>
<circle cx="1622.9" cy="150.2" r="5.8" fill="url(#gr2)"/>
<circle cx="1628.2" cy="148.9" r="5.8" fill="url(#gr2)"/>
<circle cx="1633.5" cy="150" r="5.8" fill="url(#gr2)"/>
<circle cx="1638.9" cy="148.7" r="5.8" fill="url(#gr2)"/>
<circle cx="1644.2" cy="149.5" r="5.8" fill="url(#gr2)"/>
<circle cx="1649.5" cy="148" r="5.8" fill="url(#gr2)"/>
<circle cx="1654.8" cy="151" r="5.8" fill="url(#gr2)"/>
<circle cx="1660.1" cy="148.4" r="5.8" fill="url(#gr2)"/>
<circle cx="1665.4" cy="148.7" r="5.8" fill="url(#gr2)"/>
<circle cx="1670.7" cy="148.7" r="5.8" fill="url(#gr2)"/>
<circle cx="1676" cy="149.2" r="5.8" fill="url(#gr2)"/>
<circle cx="1681.3" cy="147.1" r="5.8" fill="url(#gr2)"/>
<circle cx="1686.6" cy="148.9" r="5.8" fill="url(#gr2)"/>
<circle cx="1691.9" cy="148.1" r="5.8" fill="url(#gr2)"/>
<circle cx="1697.2" cy="148.7" r="5.8" fill="url(#gr2)"/>
<circle cx="1702.5" cy="148.7" r="5.8" fill="url(#gr2)"/>
<circle cx="1707.8" cy="148.3" r="5.8" fill="url(#gr2)"/>
<circle cx="1713.1" cy="147.7" r="5.8" fill="url(#gr2)"/>
<circle cx="1718.4" cy="149.2" r="5.8" fill="url(#gr2)"/>
<circle cx="1723.8" cy="148.6" r="5.8" fill="url(#gr2)"/>
<circle cx="1729.1" cy="149.4" r="5.8" fill="url(#gr2)"/>
<circle cx="1734.4" cy="147.8" r="5.8" fill="url(#gr2)"/>
<circle cx="1739.7" cy="148.8" r="5.8" fill="url(#gr2)"/>
<circle cx="1745" cy="148.7" r="5.8" fill="url(#gr2)"/>
<circle cx="1750.3" cy="147.4" r="5.8" fill="url(#gr2)"/>
<circle cx="1755.6" cy="147.9" r="5.8" fill="url(#gr2)"/>
<circle cx="1760.9" cy="147.5" r="5.8" fill="url(#gr2)"/>
<circle cx="1766.2" cy="147.9" r="5.8" fill="url(#gr2)"/>
<circle cx="1771.5" cy="147.4" r="5.8" fill="url(#gr2)"/>
<circle cx="1776.8" cy="147.7" r="5.8" fill="url(#gr2)"/>
<circle cx="1782.1" cy="148.6" r="5.8" fill="url(#gr2)"/>
<circle cx="1787.4" cy="147.4" r="5.8" fill="url(#gr2)"/>
<circle cx="1792.7" cy="147.9" r="5.8" fill="url(#gr2)"/>
<circle cx="1798" cy="147.7" r="5.8" fill="url(#gr2)"/>
<circle cx="1803.3" cy="147.2" r="5.8" fill="url(#gr2)"/>
<circle cx="1808.7" cy="147.9" r="5.8" fill="url(#gr2)"/>
<circle cx="1814" cy="148.3" r="5.8" fill="url(#gr2)"/>
<circle cx="1819.3" cy="146.3" r="5.8" fill="url(#gr2)"/>
<circle cx="1824.6" cy="145.7" r="5.8" fill="url(#gr2)"/>
<circle cx="1829.9" cy="147.5" r="5.8" fill="url(#gr2)"/>
<circle cx="1835.2" cy="146.2" r="5.8" fill="url(#gr2)"/>
<circle cx="1840.5" cy="145.3" r="5.8" fill="url(#gr2)"/>
<circle cx="1845.8" cy="147.6" r="5.8" fill="url(#gr2)"/>
<rect x="1434.9" y="89.6" width="427.4" height="145.7" fill="none" stroke="#000" stroke-width="3.3"/>
<path d="M1447.9 235.3v-5.4M1447.9 89.6v5.4M1581.9 235.3v-5.4M1581.9 89.6v5.4M1715.9 235.3v-5.4M1715.9 89.6v5.4M1849.9 235.3v-5.4M1849.9 89.6v5.4" stroke="#000" stroke-width="2.8" fill="none"/>
<path d="M1514.9 235.3v-3M1514.9 89.6v3M1648.9 235.3v-3M1648.9 89.6v3M1782.9 235.3v-3M1782.9 89.6v3" stroke="#000" stroke-width="2.4" fill="none"/>
<path d="M1434.9 228.1h5.4M1862.3 228.1h-5.4M1434.9 166.5h5.4M1862.3 166.5h-5.4M1434.9 104.8h5.4M1862.3 104.8h-5.4" stroke="#000" stroke-width="2.8" fill="none"/>
<path d="M1434.9 197.3h3M1862.3 197.3h-3M1434.9 135.6h3M1862.3 135.6h-3" stroke="#000" stroke-width="2.4" fill="none"/>
<text x="1441.7" y="261.6" font-size="24.9" text-anchor="middle" fill="#000">–40</text>
<text x="1575.7" y="261.6" font-size="24.9" text-anchor="middle" fill="#000">–30</text>
<text x="1709.7" y="261.6" font-size="24.9" text-anchor="middle" fill="#000">–20</text>
<text x="1843.7" y="261.6" font-size="24.9" text-anchor="middle" fill="#000">–10</text>
<text x="1424.4" y="239.1" font-size="24.9" text-anchor="end" fill="#000">4</text>
<text x="1424.4" y="177.5" font-size="24.9" text-anchor="end" fill="#000">6</text>
<text x="1424.4" y="115.8" font-size="24.9" text-anchor="end" fill="#000">8</text>
<text x="1644.5" y="293.8" font-size="24.9" text-anchor="middle" fill="#000">Feedback strength (dB)</text>
<text transform="translate(1389.8 161.4) rotate(-90)" font-size="24.9" text-anchor="middle">P<tspan font-size="16.3" dy="9">laser</tspan><tspan dy="-9"> (dBm)</tspan></text>
</g>
<g id="plot5">
<circle cx="1450.3" cy="422.9" r="5.8" fill="url(#gb2)"/>
<circle cx="1455.9" cy="422.9" r="5.8" fill="url(#gb2)"/>
<circle cx="1461.5" cy="422.9" r="5.8" fill="url(#gb2)"/>
<circle cx="1467.1" cy="422.9" r="5.8" fill="url(#gb2)"/>
<circle cx="1472.6" cy="422.9" r="5.8" fill="url(#gb2)"/>
<circle cx="1478.2" cy="424" r="5.8" fill="url(#gb2)"/>
<circle cx="1483.8" cy="424" r="5.8" fill="url(#gb2)"/>
<circle cx="1489.4" cy="424" r="5.8" fill="url(#gb2)"/>
<circle cx="1495" cy="424" r="5.8" fill="url(#gb2)"/>
<circle cx="1500.6" cy="424" r="5.8" fill="url(#gb2)"/>
<circle cx="1506.1" cy="424" r="5.8" fill="url(#gb2)"/>
<circle cx="1511.7" cy="424" r="5.8" fill="url(#gb2)"/>
<circle cx="1517.3" cy="424" r="5.8" fill="url(#gb2)"/>
<circle cx="1522.9" cy="424" r="5.8" fill="url(#gb2)"/>
<circle cx="1528.5" cy="424" r="5.8" fill="url(#gb2)"/>
<circle cx="1534.1" cy="424" r="5.8" fill="url(#gb2)"/>
<circle cx="1539.7" cy="424" r="5.8" fill="url(#gb2)"/>
<circle cx="1545.2" cy="424" r="5.8" fill="url(#gb2)"/>
<circle cx="1550.8" cy="424" r="5.8" fill="url(#gb2)"/>
<circle cx="1556.4" cy="424" r="5.8" fill="url(#gb2)"/>
<circle cx="1562" cy="424" r="5.8" fill="url(#gb2)"/>
<circle cx="1567.6" cy="424" r="5.8" fill="url(#gb2)"/>
<circle cx="1573.2" cy="424" r="5.8" fill="url(#gb2)"/>
<circle cx="1578.7" cy="424" r="5.8" fill="url(#gb2)"/>
<circle cx="1584.3" cy="424" r="5.8" fill="url(#gb2)"/>
<circle cx="1589.9" cy="424" r="5.8" fill="url(#gb2)"/>
<circle cx="1595.5" cy="424" r="5.8" fill="url(#gb2)"/>
<circle cx="1601.1" cy="424" r="5.8" fill="url(#gb2)"/>
<circle cx="1606.7" cy="424" r="5.8" fill="url(#gb2)"/>
<circle cx="1612.3" cy="423" r="5.8" fill="url(#gb2)"/>
<circle cx="1617.8" cy="423" r="5.8" fill="url(#gb2)"/>
<circle cx="1623.4" cy="423" r="5.8" fill="url(#gb2)"/>
<circle cx="1629" cy="423" r="5.8" fill="url(#gb2)"/>
<circle cx="1634.6" cy="423" r="5.8" fill="url(#gb2)"/>
<circle cx="1640.2" cy="423" r="5.8" fill="url(#gb2)"/>
<circle cx="1645.8" cy="423.1" r="5.8" fill="url(#gb2)"/>
<circle cx="1651.3" cy="423.1" r="5.8" fill="url(#gb2)"/>
<circle cx="1656.9" cy="423.1" r="5.8" fill="url(#gb2)"/>
<circle cx="1662.5" cy="423.1" r="5.8" fill="url(#gb2)"/>
<circle cx="1668.1" cy="423.1" r="5.8" fill="url(#gb2)"/>
<circle cx="1673.7" cy="423.1" r="5.8" fill="url(#gb2)"/>
<circle cx="1679.3" cy="423.1" r="5.8" fill="url(#gb2)"/>
<circle cx="1684.9" cy="423.1" r="5.8" fill="url(#gb2)"/>
<circle cx="1690.4" cy="423.1" r="5.8" fill="url(#gb2)"/>
<circle cx="1696" cy="423.1" r="5.8" fill="url(#gb2)"/>
<circle cx="1701.6" cy="423.1" r="5.8" fill="url(#gb2)"/>
<circle cx="1707.2" cy="423.1" r="5.8" fill="url(#gb2)"/>
<circle cx="1712.8" cy="423.2" r="5.8" fill="url(#gb2)"/>
<circle cx="1718.4" cy="423.2" r="5.8" fill="url(#gb2)"/>
<circle cx="1723.9" cy="423.2" r="5.8" fill="url(#gb2)"/>
<circle cx="1729.5" cy="423.2" r="5.8" fill="url(#gb2)"/>
<circle cx="1735.1" cy="423.2" r="5.8" fill="url(#gb2)"/>
<circle cx="1740.7" cy="423.2" r="5.8" fill="url(#gb2)"/>
<circle cx="1746.3" cy="422.4" r="5.8" fill="url(#gb2)"/>
<circle cx="1751.9" cy="422.4" r="5.8" fill="url(#gb2)"/>
<circle cx="1757.5" cy="422.4" r="5.8" fill="url(#gb2)"/>
<circle cx="1763" cy="422.3" r="5.8" fill="url(#gb2)"/>
<circle cx="1768.6" cy="422.3" r="5.8" fill="url(#gb2)"/>
<circle cx="1774.2" cy="422.3" r="5.8" fill="url(#gb2)"/>
<circle cx="1779.8" cy="422.3" r="5.8" fill="url(#gb2)"/>
<circle cx="1785.4" cy="422.3" r="5.8" fill="url(#gb2)"/>
<circle cx="1791" cy="422.3" r="5.8" fill="url(#gb2)"/>
<circle cx="1796.5" cy="422.2" r="5.8" fill="url(#gb2)"/>
<circle cx="1802.1" cy="422.2" r="5.8" fill="url(#gb2)"/>
<circle cx="1807.7" cy="422.2" r="5.8" fill="url(#gb2)"/>
<circle cx="1813.3" cy="421.6" r="5.8" fill="url(#gb2)"/>
<circle cx="1818.9" cy="421.5" r="5.8" fill="url(#gb2)"/>
<circle cx="1824.5" cy="421.4" r="5.8" fill="url(#gb2)"/>
<circle cx="1830.1" cy="421.3" r="5.8" fill="url(#gb2)"/>
<circle cx="1835.6" cy="421.2" r="5.8" fill="url(#gb2)"/>
<circle cx="1841.2" cy="421" r="5.8" fill="url(#gb2)"/>
<circle cx="1846.8" cy="420.7" r="5.8" fill="url(#gb2)"/>
<rect x="1437.1" y="316.7" width="426.7" height="144.1" fill="none" stroke="#000" stroke-width="3.4"/>
<path d="M1450.3 460.8v-5.4M1450.3 316.7v5.4M1584.3 460.8v-5.4M1584.3 316.7v5.4M1718.3 460.8v-5.4M1718.3 316.7v5.4M1852.3 460.8v-5.4M1852.3 316.7v5.4" stroke="#000" stroke-width="2.8" fill="none"/>
<path d="M1517.3 460.8v-3M1517.3 316.7v3M1651.3 460.8v-3M1651.3 316.7v3M1785.3 460.8v-3M1785.3 316.7v3" stroke="#000" stroke-width="2.4" fill="none"/>
<path d="M1437.1 345.5h5.4M1863.8 345.5h-5.4M1437.1 432.7h5.4M1863.8 432.7h-5.4" stroke="#000" stroke-width="2.8" fill="none"/>
<path d="M1437.1 389.1h3M1863.8 389.1h-3" stroke="#000" stroke-width="2.4" fill="none"/>
<text x="1450" y="488.9" font-size="24.9" text-anchor="middle" fill="#000">–40</text>
<text x="1584" y="488.9" font-size="24.9" text-anchor="middle" fill="#000">–30</text>
<text x="1718" y="488.9" font-size="24.9" text-anchor="middle" fill="#000">–20</text>
<text x="1852" y="488.9" font-size="24.9" text-anchor="middle" fill="#000">–10</text>
<text x="1426.6" y="354.7" font-size="24.9" text-anchor="end" fill="#000">1279.98</text>
<text x="1426.6" y="441.9" font-size="24.9" text-anchor="end" fill="#000">1279.92</text>
<text x="1645.8" y="522" font-size="24.9" text-anchor="middle" fill="#000">Feedback strength (dB)</text>
<text transform="translate(1320.9 390.2) rotate(-90)" font-size="24.9" text-anchor="middle">Peak <tspan font-family="'Liberation Serif', 'DejaVu Serif', serif" font-size="26">λ</tspan> (nm)</text>
</g>
<g id="plot6">
<polyline points="1438.1,644.2 1439.1,643.8 1440.1,649.1 1441.1,649 1442.1,650.2 1443.1,651.1 1444.1,654.1 1445.1,653 1446.1,657.5 1447.1,653.8 1448.1,653.8 1449.1,654.1 1450.1,653.9 1451.1,657.1 1452.1,655.9 1453.1,659.3 1454.1,653.9 1455.1,654.3 1456.1,658.2 1457.1,652.7 1458.1,655.4 1459.1,658.4 1460,653.3 1461,661.3 1462,652.2 1463,661.7 1464,654.3 1465,651.3 1466,662.9 1467,656.8 1468,660.9 1469,656.9 1470,655 1471,653.2 1472,658.1 1473,654.9 1474,656.7 1475,661.9 1476,655.7 1477,658.6 1478,655.8 1479,659.1 1480,656.2 1481,656.7 1482,655.8 1483,654.2 1484,654.8 1485,654.3 1486,656 1487,656.8 1488,658.6 1489,655.1 1490,651.3 1491,662.9 1492,659.2 1493,654.2 1494,658.1 1495,658.7 1496,660.1 1497,657.3 1498,659.9 1499,661.6 1500,653.5 1501,654.2 1502,658.3 1502.9,655.5 1503.9,653.7 1504.9,659.9 1505.9,660.8 1506.9,661 1507.9,656.1 1508.9,660.7 1509.9,660.6 1510.9,652.4 1511.9,665.3 1512.9,658.9 1513.9,655.9 1514.9,660.5 1515.9,661.1 1516.9,674.1 1517.9,656.4 1518.9,655.5 1519.9,659.2 1520.9,658.8 1521.9,657.7 1522.9,656.8 1523.9,658.8 1524.9,662.9 1525.9,654.9 1526.9,658.3 1527.9,656 1528.9,655.6 1529.9,655.9 1530.9,663.5 1531.9,655.5 1532.9,663.9 1533.9,659.7 1534.9,658.3 1535.9,659.2 1536.9,656.3 1537.9,659.4 1538.9,657.6 1539.9,660 1540.9,670.1 1541.9,651.3 1542.9,654.8 1543.9,659.7 1544.9,653.8 1545.8,656.4 1546.8,657 1547.8,662.1 1548.8,651.4 1549.8,652.4 1550.8,659.3 1551.8,659.3 1552.8,656.9 1553.8,652.9 1554.8,655 1555.8,658.7 1556.8,654.6 1557.8,657.6 1558.8,657.8 1559.8,656.5 1560.8,660.2 1561.8,654.3 1562.8,660.1 1563.8,656.9 1564.8,657 1565.8,653.4 1566.8,652.9 1567.8,655.3 1568.8,657.4 1569.8,652.9 1570.8,661.3 1571.8,657.1 1572.8,657.4 1573.8,657.4 1574.8,662.8 1575.8,654.3 1576.8,652.5 1577.8,658.4 1578.8,651.1 1579.8,661.9 1580.8,658.1 1581.8,654.8 1582.8,656 1583.8,663.8 1584.8,656.6 1585.8,657.1 1586.8,656.1 1587.8,664.9 1588.7,658.6 1589.7,665.1 1590.7,655.6 1591.7,655.7 1592.7,653.9 1593.7,659 1594.7,655.5 1595.7,651.8 1596.7,661.5 1597.7,654.5 1598.7,662.8 1599.7,656.7 1600.7,663.9 1601.7,653.5 1602.7,664.3 1603.7,652.1 1604.7,654.5 1605.7,650.4 1606.7,659.3 1607.7,655.5 1608.7,657.4 1609.7,655.2 1610.7,661.9 1611.7,662 1612.7,653.5 1613.7,658.2 1614.7,653.8 1615.7,659.2 1616.7,652.5 1617.7,661.6 1618.7,656.7 1619.7,656.1 1620.7,655.1 1621.7,655.1 1622.7,655.6 1623.7,651.8 1624.7,651.1 1625.7,657.8 1626.7,652.3 1627.7,658.2 1628.7,660.5 1629.7,660.2 1630.7,659 1631.6,651.8 1632.6,653.3 1633.6,658.4 1634.6,654.8 1635.6,661.8 1636.6,650.9 1637.6,662.6 1638.6,653.8 1639.6,656.4 1640.6,653 1641.6,661.3 1642.6,652.3 1643.6,650.5 1644.6,651.5 1645.6,655.8 1646.6,654.8 1647.6,658.3 1648.6,648.8 1649.6,653.7 1650.6,655.3 1651.6,658.8 1652.6,655.1 1653.6,649.4 1654.6,655 1655.6,658.9 1656.6,657.3 1657.6,656.7 1658.6,650.8 1659.6,660.9 1660.6,655.3 1661.6,655.1 1662.6,659.3 1663.6,654 1664.6,650.1 1665.6,656.3 1666.6,658.6 1667.6,657.1 1668.6,651.5 1669.6,656.4 1670.6,668.2 1671.6,655.6 1672.6,653 1673.5,653.1 1674.5,658.8 1675.5,663.6 1676.5,650.5 1677.5,654.8 1678.5,656.9 1679.5,651.4 1680.5,651.5 1681.5,654.3 1682.5,658.4 1683.5,652.4 1684.5,658.8 1685.5,650.9 1686.5,654.1 1687.5,653.2 1688.5,652.2 1689.5,653.4 1690.5,654.5 1691.5,653.1 1692.5,652.1 1693.5,655.3 1694.5,649.1 1695.5,653.6 1696.5,651.6 1697.5,653.3 1698.5,654.3 1699.5,652.6 1700.5,654.1 1701.5,650.3 1702.5,649.5 1703.5,658.2 1704.5,659.3 1705.5,653.2 1706.5,654.9 1707.5,661 1708.5,654.5 1709.5,658.4 1710.5,652.3 1711.5,657.4 1712.5,654.8 1713.5,651.1 1714.5,648.9 1715.5,662.4 1716.4,654 1717.4,654 1718.4,650 1719.4,648.5 1720.4,657.3 1721.4,656.6 1722.4,657.6 1723.4,657.1 1724.4,648.7 1725.4,652.7 1726.4,656.8 1727.4,648.9 1728.4,658.2 1729.4,651.5 1730.4,654 1731.4,655.8 1732.4,659.5 1733.4,649.4 1734.4,653.9 1735.4,650.7 1736.4,666.9 1737.4,662.1 1738.4,650.2 1739.4,654.8 1740.4,652.1 1741.4,650.9 1742.4,653.1 1743.4,653.1 1744.4,656.6 1745.4,652.2 1746.4,650.5 1747.4,653.1 1748.4,649.4 1749.4,654.9 1750.4,647.7 1751.4,653.6 1752.4,651 1753.4,650.9 1754.4,649.1 1755.4,651.2 1756.4,650.7 1757.4,649.5 1758.4,656.6 1759.3,649.7 1760.3,653.3 1761.3,649.3 1762.3,650.1 1763.3,651.6 1764.3,662.7 1765.3,648.5 1766.3,647.4 1767.3,652.7 1768.3,656.5 1769.3,645.7 1770.3,648.9 1771.3,648 1772.3,646.6 1773.3,652.7 1774.3,646.5 1775.3,647.4 1776.3,643.9 1777.3,649.4 1778.3,658.5 1779.3,651.9 1780.3,654.8 1781.3,654.1 1782.3,656.7 1783.3,654.7 1784.3,653.5 1785.3,643.1 1786.3,658 1787.3,654.9 1788.3,648 1789.3,655.7 1790.3,648.1 1791.3,651.1 1792.3,650.1 1793.3,647.9 1794.3,648.5 1795.3,651.9 1796.3,650.8 1797.3,649.8 1798.3,653.4 1799.3,648.1 1800.3,650.2 1801.3,663.1 1802.2,658.9 1803.2,649 1804.2,647.4 1805.2,647.1 1806.2,655.7 1807.2,652.1 1808.2,649.5 1809.2,649.8 1810.2,649.4 1811.2,646.9 1812.2,652.7 1813.2,654.6 1814.2,661.9 1815.2,649 1816.2,652.5 1817.2,648.6 1818.2,654.8 1819.2,651.2 1820.2,655.2 1821.2,653.2 1822.2,657.1 1823.2,655.7 1824.2,649.6 1825.2,649.6 1826.2,655.1 1827.2,655.9 1828.2,661.4 1829.2,662.6 1830.2,653.8 1831.2,650.9 1832.2,653.6 1833.2,655.5 1834.2,649.9 1835.2,648.1 1836.2,657.2 1837.2,652 1838.2,655.6 1839.2,651 1840.2,655.4 1841.2,653.4 1842.2,649.7 1843.2,650.3 1844.2,655 1845.1,657.7 1846.1,649.6 1847.1,653.9 1848.1,647.6 1849.1,651 1850.1,648.1 1851.1,655.7 1852.1,653.7 1853.1,655.8 1854.1,655.1 1855.1,651.5 1856.1,649.9 1857.1,651.7 1858.1,646.6 1859.1,651.1 1860.1,652.4 1861.1,652.9 1862.1,656.1 1863.1,653 1864.1,650 1865.1,669.6 1866.1,657.4" fill="none" stroke="#c00000" stroke-width="3.4" stroke-linejoin="round" stroke-linecap="round" clip-path="url(#c6)"/>
<polyline points="1438.1,635.1 1439.1,646.5 1440.1,645.3 1441.1,646.4 1442.1,651.7 1443.1,653.1 1444.1,655.3 1445.1,652.4 1446.1,652.4 1447.1,654.6 1448.1,649.2 1449.1,649.2 1450.1,654.2 1451.1,654.1 1452.1,652.5 1453.1,647.4 1454.1,661.9 1455.1,649 1456.1,653.7 1457.1,654.9 1458.1,652.3 1459.1,650.6 1460,654.9 1461,656.7 1462,658.6 1463,656.7 1464,654.2 1465,662.4 1466,655.2 1467,663.3 1468,654.8 1469,649.9 1470,653.1 1471,652.1 1472,652.1 1473,651.1 1474,658.5 1475,657.9 1476,652.3 1477,655.9 1478,653.3 1479,656.4 1480,660.7 1481,649.9 1482,651.7 1483,653.3 1484,650.4 1485,651.4 1486,654.6 1487,663.2 1488,655.8 1489,653.8 1490,653.5 1491,661.9 1492,661.1 1493,656 1494,658 1495,656 1496,655.3 1497,659.6 1498,653.4 1499,657.1 1500,653.1 1501,657.6 1502,651.5 1502.9,655.4 1503.9,657.3 1504.9,657.5 1505.9,660.4 1506.9,658.9 1507.9,654.5 1508.9,654.7 1509.9,653.3 1510.9,666.1 1511.9,662.8 1512.9,656.2 1513.9,664 1514.9,653.8 1515.9,655 1516.9,657.5 1517.9,652.2 1518.9,654.5 1519.9,655.3 1520.9,653.6 1521.9,659.1 1522.9,658.2 1523.9,657.5 1524.9,661.2 1525.9,662.1 1526.9,659.8 1527.9,655.8 1528.9,650.9 1529.9,656.6 1530.9,654.6 1531.9,657.6 1532.9,658.5 1533.9,658.9 1534.9,660.1 1535.9,651.9 1536.9,656.7 1537.9,650.4 1538.9,657.5 1539.9,664.5 1540.9,658.2 1541.9,654.3 1542.9,652.6 1543.9,656.6 1544.9,662.6 1545.8,660.8 1546.8,653.4 1547.8,657.2 1548.8,652.6 1549.8,650.9 1550.8,658.4 1551.8,652.4 1552.8,652.9 1553.8,651.6 1554.8,660.1 1555.8,652.1 1556.8,655.7 1557.8,653.1 1558.8,654.6 1559.8,654.5 1560.8,650.5 1561.8,657.5 1562.8,656.4 1563.8,651.6 1564.8,662.6 1565.8,651.4 1566.8,654.3 1567.8,653.4 1568.8,658.3 1569.8,648.4 1570.8,656.4 1571.8,654.9 1572.8,657.9 1573.8,660.6 1574.8,658 1575.8,654.8 1576.8,653.6 1577.8,656.8 1578.8,657 1579.8,654.4 1580.8,652.6 1581.8,656 1582.8,662.9 1583.8,656.5 1584.8,653 1585.8,649 1586.8,650 1587.8,655.4 1588.7,657.7 1589.7,651.1 1590.7,654.4 1591.7,653 1592.7,655.2 1593.7,655.4 1594.7,653.1 1595.7,660.2 1596.7,656.6 1597.7,654.8 1598.7,656.8 1599.7,660.6 1600.7,660.3 1601.7,655.6 1602.7,654.8 1603.7,647.7 1604.7,656.4 1605.7,649.2 1606.7,655.5 1607.7,655.3 1608.7,652.6 1609.7,649.5 1610.7,654.7 1611.7,654.1 1612.7,654.8 1613.7,646.1 1614.7,654.8 1615.7,660.8 1616.7,653.4 1617.7,663.8 1618.7,655 1619.7,655.9 1620.7,654.1 1621.7,659.4 1622.7,658.2 1623.7,649.2 1624.7,654.5 1625.7,657.7 1626.7,650.4 1627.7,658.6 1628.7,657.8 1629.7,653.4 1630.7,659.9 1631.6,651.1 1632.6,653.3 1633.6,656.7 1634.6,653.4 1635.6,653.2 1636.6,652.2 1637.6,653 1638.6,649.6 1639.6,652.5 1640.6,646.7 1641.6,650.8 1642.6,649.2 1643.6,654.3 1644.6,661.8 1645.6,648.2 1646.6,652 1647.6,648.7 1648.6,658.3 1649.6,647.3 1650.6,652.4 1651.6,654.6 1652.6,649.1 1653.6,651.2 1654.6,650.2 1655.6,650.2 1656.6,653.6 1657.6,654.9 1658.6,656.7 1659.6,652 1660.6,658.2 1661.6,652.3 1662.6,657.2 1663.6,653.9 1664.6,652.6 1665.6,654.2 1666.6,651.4 1667.6,659 1668.6,649.1 1669.6,649.1 1670.6,653.8 1671.6,658.5 1672.6,653 1673.5,655.5 1674.5,655.4 1675.5,648.3 1676.5,659.7 1677.5,660.2 1678.5,651.3 1679.5,656.6 1680.5,648 1681.5,656.9 1682.5,649.1 1683.5,654.4 1684.5,647.8 1685.5,652.3 1686.5,655.7 1687.5,654.1 1688.5,654 1689.5,652.7 1690.5,652.7 1691.5,656.9 1692.5,648.9 1693.5,657.2 1694.5,647.2 1695.5,656.8 1696.5,650.9 1697.5,652.6 1698.5,649.5 1699.5,652.3 1700.5,655.8 1701.5,654.4 1702.5,655.8 1703.5,653.4 1704.5,648.6 1705.5,649.1 1706.5,653.3 1707.5,649.3 1708.5,657.1 1709.5,648.7 1710.5,649.3 1711.5,651 1712.5,656.2 1713.5,654.3 1714.5,656.3 1715.5,658.3 1716.4,653.4 1717.4,654.7 1718.4,647.5 1719.4,647.6 1720.4,648.6 1721.4,650.6 1722.4,655.7 1723.4,652.1 1724.4,647.7 1725.4,657.1 1726.4,653 1727.4,645.9 1728.4,646.8 1729.4,649.9 1730.4,650.8 1731.4,650.2 1732.4,644.6 1733.4,652.7 1734.4,651.8 1735.4,655.1 1736.4,646.8 1737.4,650.7 1738.4,648 1739.4,660.2 1740.4,655.5 1741.4,658.9 1742.4,647.4 1743.4,647.2 1744.4,645.2 1745.4,647.5 1746.4,652.4 1747.4,649.9 1748.4,650.6 1749.4,648.4 1750.4,649.5 1751.4,650.7 1752.4,644.3 1753.4,655.5 1754.4,652.2 1755.4,651.6 1756.4,654.9 1757.4,645.4 1758.4,650.2 1759.3,656 1760.3,648.4 1761.3,650.4 1762.3,651.3 1763.3,650.9 1764.3,650.6 1765.3,648.8 1766.3,654.7 1767.3,648.7 1768.3,651.5 1769.3,651 1770.3,652.5 1771.3,651.3 1772.3,646 1773.3,646 1774.3,648.9 1775.3,645.6 1776.3,646.4 1777.3,655.2 1778.3,654.9 1779.3,651.2 1780.3,654.6 1781.3,642.3 1782.3,650.7 1783.3,646 1784.3,649.8 1785.3,649.2 1786.3,652.6 1787.3,643.5 1788.3,647.9 1789.3,646.3 1790.3,650.7 1791.3,648.8 1792.3,646.5 1793.3,652.9 1794.3,652.7 1795.3,649.4 1796.3,646.4 1797.3,653.9 1798.3,658 1799.3,654.9 1800.3,654.6 1801.3,649.7 1802.2,653.9 1803.2,648.4 1804.2,652.6 1805.2,653.7 1806.2,655.6 1807.2,646.9 1808.2,652.6 1809.2,647.7 1810.2,649.7 1811.2,649.8 1812.2,656.5 1813.2,649.3 1814.2,645 1815.2,648.8 1816.2,645.8 1817.2,650.7 1818.2,651.2 1819.2,653.1 1820.2,647.5 1821.2,656.2 1822.2,654.1 1823.2,653 1824.2,650 1825.2,648.3 1826.2,650.7 1827.2,658.2 1828.2,647.1 1829.2,649.2 1830.2,648.9 1831.2,650.2 1832.2,661.7 1833.2,648.2 1834.2,649.4 1835.2,653.9 1836.2,649.3 1837.2,659.3 1838.2,658.1 1839.2,654.5 1840.2,657.8 1841.2,649.1 1842.2,649.3 1843.2,651.8 1844.2,659.5 1845.1,654.4 1846.1,648.8 1847.1,654 1848.1,652.7 1849.1,648.3 1850.1,655.8 1851.1,657 1852.1,649.3 1853.1,649.8 1854.1,652.2 1855.1,649.4 1856.1,651.6 1857.1,648.2 1858.1,649.2 1859.1,652.9 1860.1,646.5 1861.1,653.9 1862.1,651.8 1863.1,649.2 1864.1,651.4 1865.1,654.9 1866.1,647.4" fill="none" stroke="#0868ae" stroke-width="3.4" stroke-linejoin="round" stroke-linecap="round" clip-path="url(#c6)"/>
<rect x="1438.1" y="547.4" width="427.7" height="144" fill="none" stroke="#000" stroke-width="3.4"/>
<path d="M1523.7 691.4v-5.4M1523.7 547.4v5.4M1609.3 691.4v-5.4M1609.3 547.4v5.4M1694.9 691.4v-5.4M1694.9 547.4v5.4M1780.5 691.4v-5.4M1780.5 547.4v5.4" stroke="#000" stroke-width="2.8" fill="none"/>
<path d="M1480.9 691.4v-3M1480.9 547.4v3M1566.5 691.4v-3M1566.5 547.4v3M1652.1 691.4v-3M1652.1 547.4v3M1737.7 691.4v-3M1737.7 547.4v3M1823.3 691.4v-3M1823.3 547.4v3" stroke="#000" stroke-width="2.4" fill="none"/>
<path d="M1438.1 561h5.4M1865.8 561h-5.4M1438.1 618.9h5.4M1865.8 618.9h-5.4M1438.1 676.8h5.4M1865.8 676.8h-5.4" stroke="#000" stroke-width="2.8" fill="none"/>
<text x="1438.1" y="719.8" font-size="24.9" text-anchor="middle" fill="#000">0</text>
<text x="1523.7" y="719.8" font-size="24.9" text-anchor="middle" fill="#000">2</text>
<text x="1609.3" y="719.8" font-size="24.9" text-anchor="middle" fill="#000">4</text>
<text x="1694.9" y="719.8" font-size="24.9" text-anchor="middle" fill="#000">6</text>
<text x="1780.5" y="719.8" font-size="24.9" text-anchor="middle" fill="#000">8</text>
<text x="1866.1" y="719.8" font-size="24.9" text-anchor="middle" fill="#000">10</text>
<text x="1427.4" y="570" font-size="24.9" text-anchor="end" fill="#000">–80</text>
<text x="1427.4" y="627.9" font-size="24.9" text-anchor="end" fill="#000">–120</text>
<text x="1427.4" y="685.8" font-size="24.9" text-anchor="end" fill="#000">–160</text>
<text x="1631" y="751" font-size="24.9" text-anchor="middle" fill="#000">Frequency (GHz)</text>
<text transform="translate(1352 622.3) rotate(-90)" font-size="24.9" text-anchor="middle">RIN (dBc/Hz)</text>
<path d="M1448.7 568.9H1512.3" stroke="#c00000" stroke-width="4"/>
<path d="M1448.7 603.8H1512.3" stroke="#0868ae" stroke-width="4"/>
<text x="1524.2" y="577.3" font-size="24.9" text-anchor="start" fill="#000">Free run</text>
<text x="1524.2" y="612.2" font-size="24.9" text-anchor="start" fill="#000">Incoherent</text>
</g>
</svg></body></html>
